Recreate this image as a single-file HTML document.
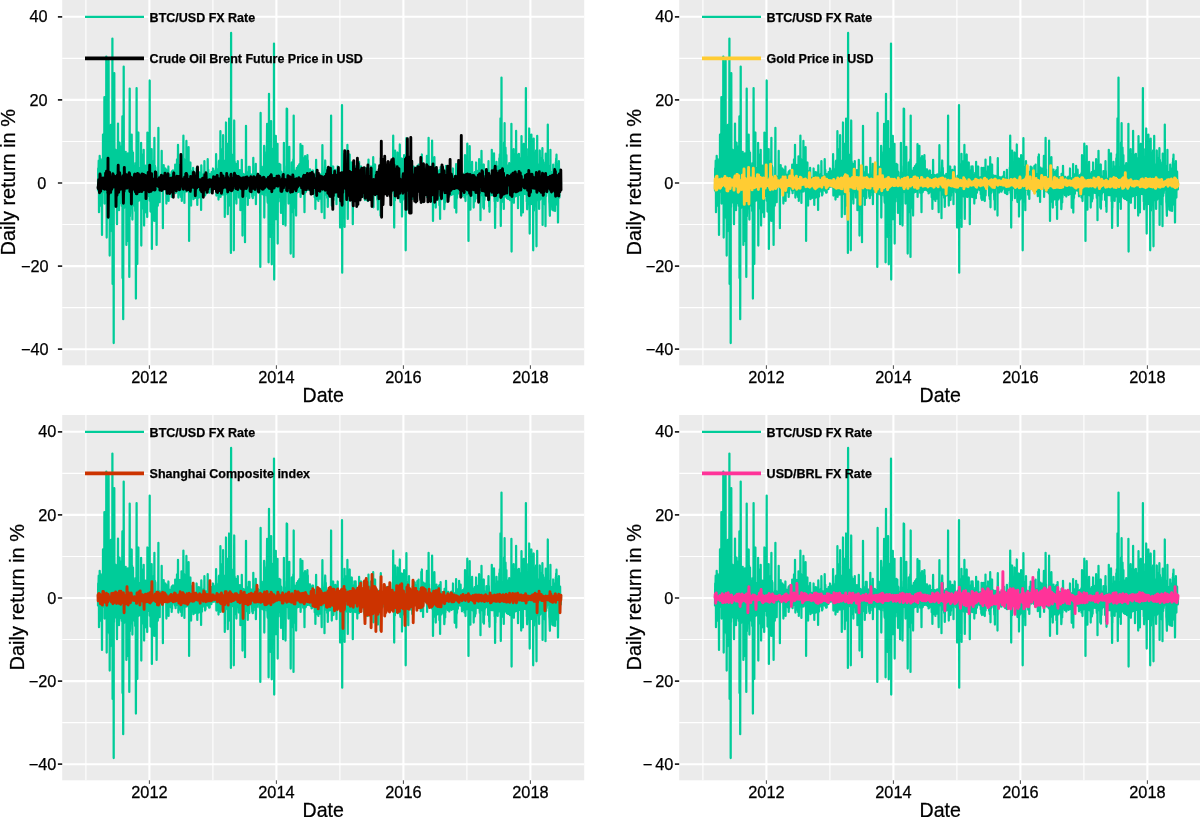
<!DOCTYPE html>
<html><head><meta charset="utf-8"><title>Daily returns</title>
<style>html,body{margin:0;padding:0;background:#fff}svg{display:block;will-change:transform}text{font-family:"Liberation Sans",sans-serif;fill:#000;stroke:#000;stroke-width:0.25px}.t{font-size:16.30px;fill:#000}.a{font-size:20.40px}.l{font-size:12.50px;font-weight:bold}.g{stroke:#fff;fill:none}.s{fill:none;stroke-linejoin:round;stroke-linecap:round}</style></head><body>
<svg width="1200" height="817" viewBox="0 0 1200 817">
<rect width="1200" height="817" fill="#fff"/>
<defs><path id="btc" d="M35.8,190.6L36.0,168.5L36.1,184.6L36.3,170.9L36.5,160.7L36.7,180.0L36.8,212.2L37.0,190.6L37.2,187.6L37.4,183.0L37.5,155.8L37.7,166.7L37.9,190.8L38.1,205.7L38.2,196.2L38.4,159.0L38.6,201.0L38.8,187.4L38.9,163.0L39.1,195.0L39.3,176.4L39.5,160.4L39.6,191.3L39.8,234.9L40.0,160.3L40.1,192.7L40.3,180.6L40.5,174.1L40.7,176.3L40.8,134.5L41.0,187.2L41.2,183.3L41.4,185.0L41.5,183.5L41.7,185.1L41.9,163.8L42.1,141.8L42.2,97.2L42.4,203.6L42.6,191.8L42.8,185.5L42.9,189.3L43.1,149.7L43.3,189.2L43.5,185.6L43.6,159.3L43.8,187.0L44.0,142.0L44.1,56.5L44.3,155.2L44.5,237.6L44.7,187.4L44.8,165.6L45.0,178.8L45.2,191.0L45.4,216.3L45.5,211.9L45.7,142.7L45.9,175.8L46.1,144.8L46.2,108.0L46.4,60.5L46.6,217.4L46.8,209.8L46.9,171.0L47.1,218.9L47.3,139.4L47.5,255.6L47.6,148.4L47.8,189.1L48.0,148.9L48.1,231.4L48.3,195.8L48.5,186.4L48.7,124.8L48.8,184.6L49.0,204.3L49.2,193.9L49.4,194.9L49.5,196.2L49.7,203.0L49.9,192.6L50.1,189.5L50.2,38.5L50.4,283.9L50.6,176.5L50.8,188.2L50.9,134.8L51.1,120.8L51.3,150.4L51.5,343.0L51.6,146.2L51.8,207.0L52.0,151.2L52.1,73.2L52.3,185.1L52.5,158.0L52.7,164.0L52.8,199.7L53.0,162.2L53.2,202.4L53.4,190.8L53.5,149.9L53.7,187.2L53.9,170.4L54.1,159.4L54.2,152.8L54.4,158.2L54.6,203.7L54.8,224.2L54.9,185.4L55.1,200.2L55.3,178.9L55.5,174.6L55.6,163.3L55.8,123.6L56.0,195.6L56.1,195.2L56.3,162.5L56.5,198.5L56.7,195.3L56.8,210.2L57.0,197.2L57.2,149.8L57.4,142.7L57.5,203.5L57.7,178.7L57.9,158.0L58.1,146.4L58.2,191.2L58.4,194.7L58.6,152.2L58.8,149.9L58.9,195.2L59.1,186.4L59.3,159.3L59.5,148.7L59.6,205.9L59.8,163.9L60.0,151.3L60.2,116.5L60.3,277.9L60.5,221.9L60.7,206.0L60.8,146.5L61.0,319.2L61.2,210.8L61.4,192.9L61.5,66.5L61.7,202.9L61.9,208.0L62.1,178.9L62.2,162.5L62.4,189.0L62.6,204.2L62.8,194.1L62.9,176.0L63.1,160.0L63.3,159.9L63.5,151.8L63.6,206.0L63.8,167.5L64.0,164.3L64.2,244.9L64.3,169.4L64.5,165.3L64.7,176.1L64.8,164.3L65.0,241.2L65.2,216.2L65.4,216.4L65.5,208.0L65.7,153.4L65.9,214.1L66.1,167.7L66.2,213.3L66.4,195.6L66.6,191.4L66.8,208.5L66.9,179.9L67.1,276.9L67.3,205.1L67.5,88.5L67.6,216.7L67.8,212.9L68.0,198.8L68.2,196.1L68.3,208.4L68.5,157.7L68.7,153.6L68.8,195.6L69.0,187.9L69.2,191.2L69.4,185.0L69.5,134.5L69.7,182.6L69.9,150.8L70.1,186.0L70.2,219.6L70.4,177.4L70.6,171.7L70.8,152.5L70.9,172.9L71.1,166.3L71.3,177.7L71.5,205.4L71.6,174.5L71.8,174.5L72.0,176.2L72.2,202.3L72.3,165.7L72.5,165.8L72.7,189.2L72.8,177.9L73.0,211.1L73.2,163.2L73.4,173.6L73.5,178.1L73.7,298.6L73.9,224.8L74.1,210.5L74.2,216.2L74.4,88.1L74.6,228.5L74.8,170.8L74.9,186.1L75.1,263.9L75.3,202.5L75.5,173.6L75.6,168.8L75.8,176.2L76.0,196.9L76.2,132.5L76.3,200.9L76.5,170.0L76.7,178.8L76.8,192.3L77.0,182.0L77.2,176.8L77.4,193.3L77.5,169.4L77.7,187.2L77.9,168.0L78.1,171.6L78.2,200.3L78.4,177.1L78.6,192.5L78.8,173.8L78.9,142.8L79.1,245.6L79.3,170.3L79.5,200.6L79.6,177.3L79.8,194.8L80.0,208.6L80.2,164.8L80.3,177.2L80.5,157.8L80.7,174.8L80.8,192.9L81.0,154.4L81.2,204.8L81.4,207.0L81.5,149.8L81.7,191.4L81.9,225.6L82.1,176.9L82.2,193.5L82.4,176.7L82.6,180.1L82.8,196.6L82.9,212.4L83.1,202.2L83.3,165.7L83.5,191.8L83.6,207.8L83.8,199.5L84.0,167.2L84.2,208.2L84.3,174.8L84.5,210.7L84.7,170.4L84.8,181.6L85.0,217.0L85.2,132.5L85.4,196.6L85.5,175.4L85.7,181.8L85.9,193.5L86.1,193.3L86.2,192.5L86.4,192.3L86.6,194.7L86.8,194.9L86.9,162.4L87.1,194.2L87.3,182.1L87.5,80.5L87.6,200.8L87.8,160.8L88.0,150.4L88.2,186.0L88.3,211.6L88.5,149.4L88.7,210.0L88.8,191.8L89.0,179.8L89.2,163.4L89.4,166.7L89.5,149.2L89.7,248.9L89.9,165.9L90.1,164.1L90.2,163.6L90.4,170.1L90.6,220.4L90.8,203.9L90.9,185.4L91.1,182.2L91.3,161.1L91.5,205.6L91.6,170.1L91.8,194.7L92.0,162.8L92.2,137.8L92.3,220.9L92.5,193.5L92.7,191.2L92.8,165.9L93.0,188.9L93.2,167.6L93.4,181.4L93.5,195.9L93.7,178.6L93.9,210.3L94.1,178.3L94.2,213.1L94.4,244.9L94.6,205.0L94.8,194.6L94.9,177.3L95.1,184.5L95.3,179.0L95.5,177.5L95.6,205.7L95.8,176.0L96.0,174.8L96.2,127.8L96.3,181.6L96.5,194.2L96.7,177.8L96.8,191.5L97.0,182.5L97.2,177.1L97.4,178.0L97.5,202.2L97.7,176.5L97.9,187.6L98.1,176.9L98.2,183.1L98.4,186.3L98.6,179.7L98.8,179.0L98.9,180.2L99.1,177.4L99.3,185.5L99.5,150.8L99.6,186.3L99.8,182.3L100.0,184.9L100.2,185.5L100.3,183.9L100.5,186.6L100.7,228.2L100.8,183.7L101.0,186.5L101.2,184.1L101.4,173.1L101.5,165.2L101.7,179.2L101.9,179.1L102.1,185.4L102.2,183.5L102.4,172.9L102.6,184.8L102.8,177.7L102.9,175.3L103.1,184.6L103.3,168.5L103.5,178.1L103.6,182.9L103.8,175.6L104.0,184.0L104.2,203.6L104.3,185.4L104.5,170.3L104.7,181.4L104.8,187.7L105.0,184.5L105.2,173.5L105.4,175.2L105.5,183.5L105.7,186.0L105.9,185.6L106.1,171.9L106.2,166.5L106.4,200.9L106.6,176.7L106.8,189.2L106.9,186.8L107.1,181.3L107.3,177.5L107.5,175.5L107.6,174.9L107.8,189.0L108.0,190.9L108.2,183.6L108.3,181.8L108.5,180.3L108.7,192.6L108.9,180.3L109.0,176.6L109.2,176.6L109.4,172.1L109.5,196.9L109.7,171.4L109.9,194.0L110.1,172.0L110.2,189.3L110.4,188.2L110.6,184.6L110.8,170.4L110.9,179.9L111.1,184.6L111.3,184.4L111.5,173.4L111.6,174.9L111.8,186.3L112.0,185.5L112.2,184.4L112.3,185.7L112.5,179.2L112.7,190.5L112.9,178.6L113.0,164.6L113.2,167.4L113.4,193.2L113.5,190.9L113.7,186.0L113.9,174.8L114.1,186.2L114.2,189.1L114.4,187.2L114.6,190.0L114.8,159.5L114.9,168.4L115.1,185.6L115.3,167.8L115.5,180.6L115.6,180.6L115.8,144.8L116.0,183.4L116.2,197.6L116.3,166.8L116.5,164.9L116.7,189.3L116.9,182.4L117.0,185.7L117.2,194.2L117.4,186.7L117.5,194.5L117.7,190.9L117.9,165.0L118.1,170.7L118.2,170.0L118.4,194.3L118.6,192.4L118.8,197.0L118.9,195.3L119.1,195.4L119.3,156.3L119.5,159.5L119.6,200.9L119.8,191.7L120.0,156.3L120.2,177.1L120.3,186.4L120.5,184.1L120.7,188.4L120.9,177.5L121.0,170.9L121.2,135.6L121.4,166.9L121.5,191.5L121.7,176.5L121.9,159.2L122.1,185.4L122.2,202.9L122.4,174.8L122.6,184.3L122.8,160.2L122.9,183.2L123.1,183.3L123.3,162.7L123.5,191.6L123.6,166.9L123.8,190.0L124.0,185.9L124.2,140.9L124.3,183.8L124.5,191.5L124.7,187.1L124.9,186.4L125.0,173.8L125.2,174.5L125.4,180.6L125.5,174.3L125.7,175.5L125.9,185.0L126.1,188.0L126.2,180.2L126.4,147.2L126.6,188.6L126.8,173.6L126.9,240.9L127.1,181.9L127.3,180.4L127.5,179.7L127.6,176.4L127.8,183.6L128.0,181.4L128.2,162.5L128.3,194.2L128.5,182.2L128.7,194.7L128.9,205.6L129.0,189.6L129.2,177.9L129.4,193.0L129.5,176.4L129.7,175.8L129.9,177.3L130.1,171.2L130.2,196.3L130.4,193.6L130.6,171.6L130.8,171.9L130.9,167.8L131.1,175.1L131.3,199.2L131.5,195.9L131.6,196.6L131.8,191.1L132.0,188.0L132.2,177.5L132.3,186.2L132.5,196.1L132.7,191.8L132.9,197.8L133.0,197.3L133.2,186.1L133.4,182.9L133.5,191.6L133.7,187.8L133.9,195.4L134.1,181.8L134.2,187.3L134.4,168.5L134.6,183.2L134.8,191.4L134.9,189.4L135.1,204.9L135.3,180.1L135.5,189.7L135.6,178.7L135.8,186.4L136.0,196.8L136.2,176.5L136.3,175.7L136.5,172.2L136.7,197.6L136.9,174.2L137.0,172.4L137.2,191.8L137.4,185.7L137.5,181.4L137.7,193.8L137.9,178.9L138.1,180.5L138.2,179.0L138.4,186.0L138.6,182.6L138.8,195.6L138.9,210.0L139.1,165.4L139.3,172.8L139.5,194.3L139.6,196.8L139.8,196.4L140.0,185.9L140.2,175.4L140.3,192.2L140.5,184.2L140.7,182.3L140.9,174.6L141.0,188.8L141.2,190.8L141.4,182.6L141.5,185.9L141.7,186.9L141.9,175.4L142.1,177.4L142.2,161.2L142.4,182.0L142.6,178.6L142.8,177.2L142.9,195.5L143.1,178.4L143.3,194.5L143.5,179.9L143.6,181.1L143.8,176.3L144.0,180.5L144.2,189.9L144.3,179.9L144.5,187.3L144.7,177.6L144.9,190.2L145.0,186.3L145.2,179.7L145.4,190.6L145.5,159.2L145.7,175.2L145.9,174.0L146.1,169.8L146.2,185.5L146.4,190.6L146.6,188.5L146.8,185.9L146.9,192.7L147.1,178.1L147.3,192.5L147.5,192.5L147.6,174.1L147.8,176.2L148.0,188.8L148.2,187.1L148.3,175.8L148.5,179.6L148.7,186.4L148.9,184.0L149.0,174.7L149.2,189.1L149.4,172.1L149.5,180.8L149.7,187.2L149.9,175.6L150.1,186.6L150.2,184.0L150.4,179.2L150.6,185.4L150.8,168.5L150.9,174.5L151.1,186.0L151.3,186.0L151.5,186.7L151.6,180.0L151.8,185.8L152.0,181.0L152.2,173.0L152.3,171.5L152.5,186.3L152.7,184.7L152.9,184.0L153.0,184.3L153.2,185.1L153.4,184.2L153.6,168.9L153.7,187.1L153.9,154.2L154.1,185.6L154.2,195.6L154.4,174.2L154.6,185.4L154.8,169.1L154.9,171.4L155.1,188.8L155.3,188.6L155.5,171.8L155.6,179.7L155.8,192.4L156.0,176.6L156.2,185.9L156.3,199.6L156.5,169.0L156.7,161.1L156.9,170.8L157.0,160.7L157.2,188.1L157.4,187.0L157.6,192.0L157.7,161.2L157.9,186.4L158.1,179.1L158.2,131.2L158.4,196.9L158.6,184.4L158.8,186.6L158.9,184.5L159.1,187.7L159.3,185.5L159.5,171.3L159.6,194.5L159.8,149.2L160.0,178.8L160.2,189.7L160.3,158.1L160.5,194.6L160.7,189.7L160.9,135.2L161.0,190.1L161.2,163.3L161.4,194.0L161.6,178.8L161.7,167.9L161.9,191.9L162.1,189.0L162.2,176.7L162.4,172.8L162.6,216.9L162.8,185.3L162.9,160.5L163.1,187.2L163.3,168.2L163.5,189.7L163.6,184.4L163.8,122.5L164.0,176.6L164.2,158.2L164.3,151.3L164.5,159.7L164.7,150.2L164.9,143.5L165.0,194.6L165.2,148.3L165.4,179.3L165.6,214.2L165.7,198.0L165.9,169.6L166.1,175.1L166.2,201.4L166.4,177.4L166.6,202.1L166.8,189.0L166.9,118.5L167.1,174.4L167.3,201.0L167.5,205.5L167.6,180.3L167.8,174.5L168.0,175.0L168.2,191.6L168.3,180.3L168.5,176.7L168.7,252.9L168.9,32.9L169.0,155.1L169.2,189.1L169.4,191.5L169.6,189.6L169.7,164.2L169.9,154.5L170.1,184.3L170.2,166.4L170.4,189.0L170.6,181.4L170.8,184.5L170.9,184.5L171.1,188.2L171.3,168.3L171.5,163.8L171.6,250.3L171.8,157.7L172.0,120.5L172.2,161.5L172.3,177.2L172.5,161.6L172.7,187.8L172.9,171.1L173.0,195.6L173.2,199.2L173.4,163.5L173.6,186.0L173.7,191.1L173.9,178.1L174.1,169.8L174.2,203.6L174.4,169.9L174.6,171.7L174.8,184.2L174.9,188.1L175.1,191.0L175.3,187.7L175.5,178.4L175.6,161.2L175.8,191.6L176.0,173.9L176.2,175.2L176.3,177.0L176.5,189.7L176.7,197.5L176.9,175.6L177.0,178.1L177.2,188.3L177.4,189.0L177.6,197.5L177.7,170.1L177.9,173.6L178.1,170.7L178.2,210.2L178.4,183.9L178.6,178.1L178.8,187.3L178.9,180.2L179.1,186.9L179.3,184.9L179.5,178.0L179.6,159.8L179.8,175.0L180.0,180.3L180.2,188.0L180.3,235.6L180.5,193.0L180.7,181.0L180.9,175.9L181.0,189.3L181.2,183.8L181.4,174.0L181.6,186.7L181.7,174.7L181.9,176.4L182.1,183.3L182.2,179.8L182.4,194.5L182.6,182.4L182.8,242.2L182.9,191.1L183.1,194.9L183.3,195.2L183.5,192.3L183.6,190.6L183.8,125.8L184.0,184.7L184.2,181.7L184.3,188.8L184.5,192.8L184.7,179.8L184.9,172.2L185.0,196.5L185.2,186.7L185.4,175.9L185.6,204.9L185.7,193.0L185.9,188.4L186.1,179.5L186.2,197.2L186.4,177.9L186.6,166.8L186.8,192.8L186.9,184.4L187.1,197.9L187.3,181.8L187.5,166.9L187.6,181.5L187.8,186.8L188.0,185.7L188.2,179.5L188.3,175.0L188.5,183.9L188.7,183.3L188.9,175.8L189.0,187.9L189.2,174.5L189.4,185.2L189.6,190.7L189.7,177.2L189.9,193.3L190.1,196.9L190.2,193.2L190.4,179.1L190.6,198.2L190.8,185.5L190.9,192.6L191.1,157.8L191.3,195.4L191.5,177.7L191.6,175.5L191.8,190.1L192.0,189.0L192.2,180.7L192.3,179.4L192.5,191.9L192.7,180.2L192.9,178.5L193.0,178.8L193.2,184.8L193.4,178.4L193.6,163.8L193.7,204.2L193.9,190.1L194.1,181.1L194.2,181.8L194.4,178.1L194.6,179.2L194.8,192.0L194.9,187.0L195.1,178.4L195.3,185.0L195.5,186.6L195.6,173.8L195.8,184.0L196.0,185.9L196.2,182.5L196.3,186.0L196.5,186.5L196.7,178.3L196.9,175.2L197.0,186.3L197.2,192.5L197.4,184.2L197.6,186.7L197.7,185.6L197.9,191.2L198.1,266.9L198.3,192.3L198.4,112.9L198.6,173.9L198.8,172.4L198.9,192.2L199.1,193.9L199.3,178.6L199.5,166.6L199.6,191.7L199.8,180.5L200.0,191.4L200.2,177.4L200.3,185.0L200.5,188.6L200.7,179.1L200.9,181.9L201.0,194.5L201.2,187.2L201.4,173.7L201.6,176.3L201.7,182.0L201.9,145.8L202.1,217.6L202.3,187.2L202.4,165.4L202.6,195.8L202.8,161.1L202.9,165.6L203.1,172.2L203.3,186.5L203.5,192.3L203.6,188.6L203.8,158.5L204.0,185.8L204.2,152.1L204.3,191.2L204.5,148.9L204.7,145.0L204.9,123.8L205.0,196.1L205.2,195.8L205.4,201.8L205.6,202.8L205.7,165.8L205.9,183.9L206.1,164.4L206.3,195.2L206.4,262.3L206.6,165.2L206.8,93.8L206.9,196.5L207.1,169.5L207.3,179.2L207.5,199.1L207.6,176.3L207.8,191.4L208.0,205.5L208.2,163.7L208.3,171.6L208.5,236.9L208.7,174.0L208.9,121.1L209.0,166.5L209.2,177.5L209.4,176.1L209.6,264.3L209.7,208.0L209.9,179.4L210.1,192.1L210.3,156.4L210.4,197.8L210.6,191.0L210.8,206.3L210.9,182.4L211.1,148.7L211.3,194.3L211.5,159.0L211.6,198.1L211.8,43.6L212.0,279.6L212.2,199.0L212.3,161.4L212.5,155.9L212.7,215.1L212.9,216.7L213.0,206.5L213.2,181.6L213.4,161.9L213.6,135.8L213.7,199.9L213.9,219.2L214.1,177.4L214.3,178.8L214.4,197.4L214.6,177.7L214.8,165.2L214.9,200.8L215.1,193.4L215.3,143.8L215.5,243.6L215.6,199.9L215.8,199.8L216.0,165.5L216.2,200.6L216.3,201.4L216.5,174.4L216.7,168.1L216.9,169.2L217.0,186.8L217.2,163.8L217.4,196.7L217.6,186.2L217.7,188.8L217.9,181.2L218.1,164.5L218.3,194.4L218.4,171.1L218.6,190.2L218.8,212.9L218.9,171.5L219.1,192.7L219.3,190.1L219.5,180.5L219.6,201.2L219.8,203.3L220.0,178.5L220.2,190.5L220.3,202.9L220.5,191.3L220.7,176.9L220.9,224.2L221.0,182.6L221.2,193.8L221.4,172.3L221.6,194.2L221.7,142.8L221.9,195.8L222.1,179.9L222.3,180.9L222.4,183.0L222.6,188.1L222.8,182.3L222.9,181.6L223.1,182.4L223.3,225.6L223.5,204.4L223.6,186.9L223.8,172.6L224.0,185.8L224.2,166.0L224.3,180.9L224.5,108.5L224.7,163.9L224.9,108.9L225.0,178.7L225.2,176.7L225.4,170.2L225.6,192.3L225.7,170.5L225.9,179.7L226.1,188.0L226.3,203.6L226.4,169.5L226.6,170.7L226.8,177.0L226.9,187.0L227.1,146.8L227.3,193.4L227.5,193.3L227.6,183.6L227.8,175.1L228.0,195.7L228.2,192.2L228.3,190.0L228.5,253.6L228.7,188.9L228.9,189.6L229.0,189.5L229.2,185.7L229.4,189.3L229.6,162.5L229.7,185.1L229.9,208.8L230.1,174.6L230.3,168.4L230.4,194.0L230.6,212.4L230.8,172.9L230.9,166.9L231.1,159.3L231.3,256.9L231.5,115.5L231.6,194.0L231.8,199.2L232.0,207.8L232.2,170.3L232.3,179.6L232.5,196.9L232.7,205.0L232.9,196.9L233.0,175.5L233.2,192.2L233.4,196.3L233.6,187.6L233.7,188.9L233.9,215.6L234.1,180.8L234.3,184.4L234.4,170.8L234.6,167.8L234.8,192.0L234.9,189.4L235.1,185.5L235.3,192.3L235.5,171.0L235.6,170.7L235.8,188.2L236.0,165.9L236.2,179.8L236.3,191.9L236.5,176.7L236.7,174.7L236.9,173.0L237.0,164.5L237.2,166.3L237.4,186.5L237.6,185.9L237.7,190.1L237.9,184.7L238.1,188.2L238.3,144.1L238.4,196.9L238.6,190.0L238.8,188.7L238.9,177.6L239.1,180.4L239.3,184.5L239.5,163.1L239.6,187.2L239.8,187.6L240.0,181.3L240.2,145.8L240.3,169.6L240.5,157.1L240.7,163.4L240.9,158.4L241.0,192.7L241.2,185.4L241.4,158.0L241.6,161.3L241.7,175.4L241.9,171.7L242.1,189.1L242.3,212.2L242.4,191.7L242.6,159.6L242.8,187.9L242.9,156.1L243.1,192.6L243.3,165.3L243.5,180.5L243.6,192.1L243.8,172.4L244.0,177.2L244.2,177.4L244.3,177.5L244.5,178.0L244.7,176.1L244.9,187.1L245.0,172.7L245.2,155.2L245.4,190.0L245.6,160.4L245.7,186.4L245.9,184.2L246.1,172.7L246.3,169.0L246.4,185.9L246.6,189.2L246.8,178.4L247.0,177.9L247.1,173.4L247.3,190.2L247.5,170.5L247.6,172.0L247.8,169.4L248.0,172.9L248.2,175.8L248.3,180.2L248.5,170.7L248.7,191.2L248.9,178.5L249.0,176.0L249.2,176.3L249.4,193.4L249.6,189.0L249.7,173.4L249.9,176.4L250.1,192.8L250.3,183.6L250.4,178.5L250.6,178.0L250.8,170.5L251.0,190.5L251.1,188.6L251.3,191.6L251.5,189.5L251.6,191.1L251.8,178.2L252.0,178.2L252.2,186.3L252.3,175.1L252.5,197.3L252.7,195.7L252.9,180.0L253.0,182.0L253.2,208.9L253.4,179.4L253.6,181.6L253.7,181.8L253.9,159.8L254.1,181.7L254.3,195.0L254.4,189.4L254.6,181.5L254.8,181.8L255.0,182.2L255.1,199.2L255.3,190.6L255.5,175.1L255.6,175.6L255.8,177.3L256.0,197.1L256.2,200.9L256.3,193.0L256.5,175.7L256.7,193.7L256.9,193.3L257.0,192.3L257.2,177.4L257.4,182.0L257.6,175.1L257.7,197.8L257.9,198.7L258.1,174.3L258.3,197.1L258.4,177.1L258.6,179.7L258.8,194.8L259.0,193.2L259.1,176.5L259.3,201.4L259.5,212.2L259.6,189.5L259.8,188.1L260.0,175.9L260.2,145.2L260.3,163.4L260.5,184.4L260.7,189.0L260.9,187.9L261.0,180.3L261.2,174.3L261.4,190.6L261.6,186.7L261.7,180.7L261.9,178.8L262.1,177.2L262.3,218.2L262.4,187.5L262.6,174.3L262.8,168.0L263.0,160.5L263.1,165.4L263.3,192.2L263.5,170.5L263.6,167.9L263.8,179.6L264.0,174.8L264.2,194.7L264.3,175.8L264.5,178.6L264.7,180.8L264.9,180.7L265.0,197.9L265.2,175.7L265.4,182.0L265.6,206.9L265.7,197.5L265.9,179.1L266.1,190.6L266.3,176.2L266.4,195.2L266.6,193.1L266.8,191.2L267.0,186.5L267.1,174.0L267.3,195.5L267.5,181.3L267.6,188.9L267.8,185.0L268.0,186.0L268.2,187.5L268.3,183.5L268.5,185.5L268.7,186.4L268.9,115.5L269.0,188.0L269.2,172.5L269.4,187.9L269.6,205.6L269.7,189.2L269.9,173.5L270.1,190.6L270.3,191.3L270.4,190.1L270.6,178.2L270.8,193.9L271.0,166.5L271.1,178.8L271.3,200.0L271.5,181.7L271.6,187.9L271.8,196.0L272.0,174.7L272.2,186.9L272.3,188.4L272.5,176.4L272.7,172.3L272.9,189.6L273.0,191.5L273.2,169.9L273.4,185.3L273.6,181.3L273.7,184.3L273.9,175.9L274.1,184.9L274.3,204.2L274.4,182.2L274.6,191.9L274.8,182.6L275.0,175.4L275.1,181.9L275.3,185.2L275.5,166.5L275.6,177.6L275.8,185.5L276.0,186.8L276.2,186.1L276.3,185.2L276.5,187.0L276.7,188.0L276.9,184.3L277.0,192.6L277.2,189.6L277.4,185.1L277.6,177.8L277.7,185.5L277.9,227.6L278.1,177.3L278.3,178.3L278.4,175.9L278.6,178.4L278.8,179.1L279.0,189.3L279.1,190.2L279.3,191.4L279.5,190.8L279.6,178.0L279.8,105.2L280.0,272.7L280.2,164.9L280.3,189.7L280.5,179.8L280.7,215.9L280.9,164.0L281.0,215.5L281.2,207.1L281.4,187.4L281.6,183.5L281.7,180.8L281.9,165.9L282.1,218.2L282.3,153.8L282.4,226.9L282.6,169.9L282.8,175.0L283.0,169.9L283.1,163.8L283.3,167.4L283.5,194.6L283.6,179.9L283.8,167.7L284.0,167.7L284.2,161.1L284.3,186.4L284.5,196.6L284.7,171.8L284.9,194.4L285.0,174.7L285.2,144.9L285.4,190.8L285.6,218.9L285.7,198.8L285.9,191.6L286.1,196.9L286.3,169.7L286.4,173.0L286.6,177.2L286.8,181.8L287.0,167.5L287.1,190.7L287.3,175.1L287.5,154.5L287.6,177.9L287.8,192.3L288.0,196.2L288.2,196.9L288.3,189.4L288.5,167.2L288.7,176.1L288.9,176.6L289.0,176.7L289.2,168.9L289.4,187.1L289.6,162.5L289.7,186.1L289.9,189.2L290.1,172.6L290.3,189.7L290.4,183.7L290.6,224.2L290.8,187.4L291.0,173.9L291.1,176.6L291.3,174.9L291.5,187.0L291.7,174.5L291.8,170.1L292.0,187.0L292.2,166.5L292.3,166.7L292.5,190.9L292.7,166.6L292.9,167.1L293.0,197.2L293.2,173.0L293.4,166.4L293.6,170.5L293.7,196.4L293.9,187.4L294.1,181.4L294.3,186.4L294.4,186.1L294.6,191.3L294.8,192.7L295.0,187.6L295.1,203.6L295.3,181.1L295.5,175.1L295.7,198.0L295.8,189.8L296.0,172.9L296.2,173.8L296.3,197.5L296.5,177.4L296.7,198.2L296.9,161.8L297.0,192.9L297.2,179.0L297.4,184.6L297.6,182.3L297.7,192.8L297.9,188.6L298.1,190.9L298.3,179.2L298.4,186.5L298.6,179.9L298.8,182.1L299.0,166.5L299.1,175.7L299.3,182.1L299.5,181.9L299.7,180.7L299.8,181.8L300.0,185.9L300.2,189.6L300.3,182.1L300.5,190.0L300.7,180.2L300.9,177.3L301.0,178.3L301.2,178.5L301.4,190.7L301.6,194.4L301.7,191.0L301.9,179.9L302.1,198.0L302.3,198.8L302.4,167.8L302.6,190.1L302.8,200.0L303.0,182.2L303.1,175.6L303.3,185.5L303.5,196.7L303.7,182.0L303.8,198.6L304.0,174.0L304.2,167.8L304.3,199.5L304.5,179.4L304.7,170.7L304.9,176.8L305.0,197.6L305.2,200.3L305.4,185.7L305.6,201.0L305.7,174.9L305.9,182.3L306.1,191.8L306.3,159.6L306.4,195.6L306.6,182.2L306.8,182.6L307.0,187.6L307.1,173.8L307.3,176.5L307.5,186.7L307.7,184.1L307.8,185.6L308.0,171.5L308.2,178.0L308.3,172.3L308.5,176.0L308.7,175.5L308.9,166.5L309.0,174.4L309.2,186.9L309.4,174.3L309.6,176.7L309.7,182.5L309.9,195.8L310.1,179.6L310.3,178.9L310.4,177.2L310.6,199.1L310.8,193.4L311.0,157.2L311.1,172.7L311.3,207.3L311.5,175.8L311.7,174.8L311.8,193.6L312.0,178.7L312.2,186.5L312.3,192.5L312.5,190.7L312.7,187.4L312.9,164.5L313.0,180.1L313.2,185.1L313.4,188.5L313.6,178.2L313.7,177.2L313.9,184.9L314.1,189.4L314.3,181.3L314.4,187.5L314.6,175.5L314.8,191.6L315.0,196.6L315.1,199.8L315.3,195.3L315.5,197.6L315.7,209.6L315.8,179.0L316.0,181.2L316.2,175.8L316.3,180.5L316.5,179.1L316.7,187.4L316.9,186.1L317.0,180.5L317.2,177.3L317.4,186.2L317.6,184.4L317.7,187.8L317.9,187.7L318.1,181.3L318.3,215.6L318.4,175.4L318.6,158.2L318.8,191.8L319.0,187.7L319.1,180.1L319.3,176.5L319.5,191.7L319.7,177.9L319.8,177.3L320.0,192.4L320.2,177.1L320.3,181.2L320.5,178.0L320.7,180.4L320.9,180.4L321.0,178.2L321.2,179.4L321.4,185.2L321.6,185.7L321.7,177.3L321.9,187.6L322.1,185.7L322.3,191.7L322.4,187.5L322.6,180.2L322.8,190.4L323.0,185.3L323.1,179.7L323.3,186.2L323.5,176.6L323.7,182.3L323.8,186.6L324.0,179.8L324.2,182.0L324.3,184.2L324.5,188.7L324.7,177.0L324.9,171.8L325.0,185.4L325.2,181.5L325.4,179.0L325.6,188.9L325.7,192.8L325.9,180.8L326.1,178.9L326.3,184.7L326.4,178.6L326.6,187.8L326.8,179.4L327.0,193.4L327.1,180.7L327.3,178.8L327.5,188.1L327.7,169.8L327.8,194.2L328.0,188.0L328.2,194.1L328.3,180.7L328.5,185.1L328.7,182.1L328.9,187.8L329.0,190.3L329.2,189.7L329.4,180.3L329.6,189.8L329.7,187.3L329.9,180.9L330.1,188.9L330.3,184.1L330.4,185.9L330.6,167.7L330.8,186.4L331.0,135.6L331.1,157.5L331.3,192.9L331.5,173.4L331.7,176.2L331.8,191.9L332.0,227.6L332.2,170.7L332.3,185.0L332.5,192.6L332.7,200.5L332.9,150.5L333.0,162.0L333.2,186.7L333.4,186.1L333.6,176.4L333.7,171.9L333.9,169.9L334.1,172.4L334.3,175.3L334.4,177.4L334.6,188.3L334.8,183.4L335.0,179.4L335.1,187.3L335.3,152.5L335.5,185.0L335.7,198.2L335.8,191.2L336.0,178.9L336.2,179.5L336.3,188.7L336.5,188.6L336.7,190.1L336.9,185.6L337.0,168.4L337.2,186.3L337.4,169.3L337.6,144.5L337.7,190.4L337.9,182.7L338.1,200.0L338.3,202.0L338.4,179.3L338.6,192.8L338.8,178.9L339.0,199.1L339.1,195.9L339.3,176.4L339.5,178.7L339.7,158.5L339.8,216.6L340.0,195.1L340.2,195.8L340.4,179.3L340.5,194.5L340.7,191.9L340.9,195.2L341.0,199.4L341.2,186.2L341.4,197.2L341.6,191.8L341.7,186.8L341.9,155.2L342.1,197.7L342.3,197.2L342.4,174.9L342.6,190.4L342.8,185.7L343.0,179.4L343.1,179.0L343.3,180.1L343.5,250.3L343.7,182.3L343.8,196.2L344.0,181.1L344.2,138.2L344.4,174.6L344.5,193.9L344.7,178.0L344.9,201.3L345.0,188.8L345.2,190.2L345.4,198.7L345.6,175.6L345.7,168.6L345.9,195.7L346.1,210.2L346.3,166.8L346.4,178.6L346.6,190.2L346.8,161.2L347.0,188.8L347.1,179.1L347.3,178.1L347.5,186.5L347.7,178.0L347.8,182.6L348.0,179.7L348.2,186.3L348.4,175.8L348.5,187.7L348.7,183.5L348.9,182.2L349.0,194.7L349.2,178.4L349.4,181.8L349.6,192.5L349.7,177.7L349.9,179.4L350.1,198.9L350.3,179.8L350.4,182.7L350.6,171.7L350.8,184.7L351.0,183.9L351.1,184.7L351.3,185.0L351.5,166.6L351.7,182.4L351.8,182.4L352.0,185.9L352.2,186.8L352.4,188.5L352.5,167.4L352.7,173.7L352.9,183.7L353.0,178.3L353.2,170.3L353.4,186.1L353.6,187.4L353.7,183.7L353.9,184.1L354.1,171.8L354.3,170.1L354.4,170.9L354.6,175.6L354.8,181.4L355.0,189.2L355.1,166.2L355.3,168.6L355.5,181.2L355.7,171.8L355.8,166.8L356.0,186.6L356.2,178.8L356.4,164.6L356.5,187.8L356.7,189.7L356.9,174.3L357.0,175.5L357.2,191.4L357.4,180.8L357.6,179.4L357.7,178.0L357.9,180.0L358.1,181.1L358.3,174.6L358.4,173.8L358.6,196.2L358.8,194.1L359.0,190.9L359.1,156.9L359.3,184.8L359.5,173.9L359.7,154.5L359.8,189.1L360.0,188.0L360.2,186.8L360.4,168.0L360.5,174.1L360.7,188.8L360.9,202.0L361.0,188.3L361.2,167.7L361.4,184.3L361.6,171.1L361.7,171.7L361.9,168.6L362.1,180.9L362.3,185.9L362.4,182.1L362.6,170.2L362.8,168.7L363.0,185.0L363.1,183.4L363.3,173.2L363.5,184.9L363.7,186.9L363.8,186.4L364.0,183.5L364.2,186.8L364.4,173.8L364.5,170.4L364.7,155.8L364.9,196.9L365.0,183.9L365.2,187.2L365.4,186.7L365.6,157.6L365.7,172.0L365.9,188.4L366.1,183.0L366.3,173.0L366.4,137.8L366.6,171.0L366.8,169.3L367.0,183.6L367.1,176.6L367.3,191.4L367.5,177.0L367.7,182.5L367.8,187.7L368.0,187.2L368.2,179.0L368.4,187.8L368.5,186.1L368.7,185.6L368.9,178.7L369.0,188.5L369.2,192.5L369.4,190.7L369.6,179.0L369.7,193.4L369.9,140.5L370.1,182.8L370.3,186.9L370.4,187.6L370.6,182.0L370.8,220.9L371.0,192.1L371.1,188.0L371.3,199.0L371.5,182.2L371.7,192.7L371.8,201.7L372.0,199.5L372.2,157.2L372.4,177.0L372.5,173.2L372.7,183.4L372.9,190.2L373.0,178.8L373.2,170.7L373.4,190.1L373.6,207.6L373.7,190.7L373.9,179.6L374.1,195.6L374.3,169.6L374.4,187.1L374.6,178.3L374.8,189.9L375.0,189.8L375.1,199.4L375.3,171.8L375.5,191.3L375.7,192.1L375.8,188.8L376.0,194.2L376.2,190.5L376.4,191.6L376.5,178.6L376.7,179.4L376.9,191.9L377.0,170.3L377.2,205.3L377.4,179.5L377.6,169.8L377.7,198.6L377.9,218.9L378.1,172.1L378.3,176.6L378.4,167.2L378.6,196.2L378.8,196.4L379.0,199.2L379.1,190.7L379.3,199.4L379.5,181.6L379.7,198.2L379.8,185.6L380.0,182.7L380.2,192.0L380.4,180.2L380.5,177.2L380.7,186.1L380.9,182.6L381.0,186.4L381.2,177.5L381.4,178.7L381.6,177.6L381.7,191.2L381.9,195.1L382.1,209.2L382.3,206.5L382.4,173.8L382.6,180.6L382.8,187.5L383.0,202.6L383.1,174.3L383.3,197.4L383.5,179.3L383.7,180.4L383.8,165.8L384.0,177.6L384.2,178.9L384.4,181.4L384.5,186.0L384.7,176.7L384.9,193.4L385.1,189.8L385.2,178.9L385.4,177.7L385.6,180.4L385.7,195.2L385.9,178.4L386.1,176.9L386.3,184.7L386.4,188.2L386.6,189.6L386.8,181.6L387.0,195.5L387.1,196.5L387.3,178.5L387.5,183.0L387.7,182.7L387.8,191.2L388.0,194.5L388.2,194.1L388.4,194.2L388.5,179.8L388.7,178.9L388.9,177.0L389.1,176.7L389.2,192.2L389.4,194.9L389.6,180.0L389.7,191.0L389.9,177.2L390.1,183.8L390.3,186.0L390.4,186.7L390.6,190.5L390.8,168.5L391.0,194.0L391.1,178.1L391.3,179.6L391.5,179.1L391.7,178.3L391.8,180.7L392.0,178.6L392.2,180.0L392.4,185.4L392.5,207.8L392.7,182.6L392.9,182.2L393.1,179.4L393.2,177.8L393.4,180.8L393.6,195.2L393.7,195.1L393.9,164.1L394.1,212.6L394.3,187.9L394.4,199.1L394.6,197.9L394.8,197.8L395.0,174.2L395.1,187.8L395.3,185.2L395.5,175.9L395.7,193.8L395.8,181.4L396.0,179.7L396.2,185.2L396.4,190.2L396.5,185.0L396.7,190.4L396.9,165.8L397.1,185.5L397.2,189.2L397.4,170.7L397.6,177.2L397.7,171.7L397.9,171.5L398.1,188.0L398.3,190.6L398.4,169.6L398.6,182.4L398.8,176.9L399.0,179.3L399.1,188.6L399.3,181.7L399.5,189.8L399.7,192.0L399.8,196.3L400.0,191.5L400.2,191.2L400.4,180.0L400.5,182.2L400.7,175.1L400.9,192.4L401.1,194.9L401.2,180.0L401.4,193.0L401.6,175.1L401.7,188.9L401.9,192.7L402.1,173.5L402.3,197.5L402.4,174.2L402.6,189.4L402.8,155.2L403.0,177.3L403.1,177.9L403.3,201.1L403.5,185.9L403.7,184.4L403.8,180.1L404.0,190.7L404.2,182.0L404.4,177.3L404.5,194.3L404.7,180.1L404.9,187.4L405.1,143.6L405.2,189.5L405.4,184.7L405.6,183.3L405.7,172.3L405.9,173.3L406.1,172.1L406.3,240.9L406.4,186.7L406.6,175.3L406.8,166.5L407.0,206.5L407.1,172.3L407.3,178.5L407.5,146.2L407.7,176.2L407.8,174.1L408.0,175.6L408.2,209.7L408.4,176.4L408.5,186.7L408.7,178.2L408.9,190.2L409.1,181.0L409.2,191.5L409.4,181.8L409.6,180.5L409.7,185.8L409.9,161.8L410.1,184.2L410.3,195.0L410.4,195.3L410.6,194.8L410.8,188.1L411.0,178.8L411.1,188.2L411.3,179.7L411.5,207.6L411.7,177.1L411.8,178.2L412.0,194.9L412.2,173.4L412.4,187.3L412.5,172.2L412.7,201.5L412.9,198.5L413.1,197.5L413.2,177.4L413.4,198.8L413.6,186.9L413.7,182.4L413.9,162.5L414.1,192.8L414.3,174.6L414.4,186.1L414.6,190.6L414.8,180.4L415.0,191.9L415.1,176.9L415.3,190.9L415.5,171.0L415.7,192.9L415.8,188.3L416.0,190.4L416.2,181.3L416.4,187.8L416.5,185.8L416.7,186.1L416.9,159.2L417.1,193.5L417.2,191.4L417.4,193.9L417.6,197.9L417.7,179.6L417.9,173.7L418.1,174.2L418.3,220.2L418.4,191.5L418.6,177.6L418.8,192.0L419.0,175.7L419.1,175.2L419.3,150.8L419.5,173.0L419.7,186.8L419.8,181.6L420.0,195.3L420.2,176.2L420.4,181.2L420.5,183.0L420.7,189.5L420.9,178.6L421.1,207.4L421.2,180.4L421.4,207.1L421.6,164.5L421.7,208.7L421.9,182.4L422.1,176.3L422.3,200.1L422.4,192.3L422.6,182.6L422.8,193.9L423.0,187.3L423.1,184.9L423.3,192.7L423.5,179.8L423.7,186.4L423.8,182.0L424.0,191.5L424.2,171.2L424.4,190.2L424.5,184.2L424.7,191.8L424.9,190.6L425.1,190.9L425.2,186.1L425.4,191.6L425.6,185.9L425.7,179.5L425.9,199.9L426.1,172.2L426.3,161.2L426.4,179.1L426.6,170.8L426.8,177.5L427.0,206.8L427.1,192.3L427.3,211.8L427.5,191.4L427.7,182.6L427.8,178.7L428.0,186.8L428.2,180.0L428.4,189.0L428.5,178.6L428.7,187.2L428.9,192.1L429.1,192.3L429.2,194.2L429.4,195.0L429.6,149.8L429.8,178.3L429.9,193.8L430.1,180.5L430.3,184.7L430.4,195.2L430.6,173.7L430.8,191.4L431.0,181.0L431.1,188.1L431.3,183.7L431.5,173.6L431.7,177.2L431.8,153.4L432.0,174.0L432.2,186.7L432.4,201.5L432.5,179.7L432.7,202.0L432.9,228.0L433.1,198.0L433.2,207.7L433.4,176.3L433.6,193.7L433.8,178.7L433.9,176.1L434.1,178.3L434.3,161.8L434.4,189.4L434.6,186.8L434.8,179.8L435.0,191.1L435.1,176.8L435.3,180.4L435.5,200.9L435.7,181.5L435.8,182.8L436.0,190.0L436.2,166.5L436.4,189.0L436.5,196.4L436.7,175.8L436.9,192.9L437.1,158.4L437.2,194.8L437.4,189.4L437.6,154.3L437.8,170.0L437.9,186.6L438.1,173.1L438.3,118.5L438.4,199.0L438.6,226.0L438.8,168.0L439.0,172.5L439.1,194.4L439.3,77.6L439.5,201.9L439.7,199.1L439.8,167.1L440.0,187.1L440.2,194.0L440.4,171.7L440.5,181.4L440.7,175.9L440.9,197.6L441.1,186.0L441.2,188.7L441.4,193.8L441.6,208.9L441.8,142.7L441.9,154.5L442.1,173.2L442.3,193.5L442.4,123.2L442.6,187.9L442.8,196.6L443.0,169.0L443.1,166.2L443.3,147.5L443.5,158.1L443.7,195.1L443.8,189.3L444.0,196.0L444.2,155.2L444.4,185.0L444.5,193.8L444.7,198.1L444.9,196.9L445.1,173.6L445.2,175.4L445.4,198.4L445.6,191.2L445.8,198.9L445.9,185.4L446.1,165.4L446.3,190.0L446.4,172.4L446.6,183.2L446.8,181.5L447.0,163.2L447.1,187.7L447.3,187.5L447.5,175.2L447.7,198.9L447.8,200.1L448.0,188.3L448.2,189.0L448.4,192.9L448.5,194.8L448.7,171.6L448.9,188.4L449.1,188.2L449.2,123.8L449.4,251.6L449.6,177.6L449.8,172.4L449.9,192.0L450.1,184.8L450.3,175.3L450.4,172.2L450.6,197.6L450.8,166.8L451.0,197.1L451.1,189.1L451.3,166.4L451.5,149.2L451.7,202.8L451.8,195.3L452.0,154.0L452.2,180.5L452.4,180.1L452.5,192.8L452.7,185.7L452.9,192.3L453.1,196.5L453.2,191.9L453.4,180.4L453.6,181.7L453.8,179.9L453.9,130.8L454.1,187.2L454.3,155.9L454.4,154.0L454.6,156.0L454.8,196.0L455.0,172.3L455.1,164.9L455.3,188.7L455.5,184.1L455.7,171.5L455.8,208.2L456.0,175.3L456.2,194.7L456.4,195.3L456.5,176.3L456.7,153.8L456.9,191.5L457.1,194.9L457.2,190.2L457.4,175.2L457.6,187.3L457.8,173.3L457.9,192.0L458.1,172.8L458.3,192.8L458.4,158.1L458.6,190.8L458.8,196.8L459.0,215.6L459.1,189.1L459.3,136.2L459.5,193.6L459.7,192.2L459.8,186.9L460.0,197.7L460.2,182.4L460.4,199.4L460.5,188.8L460.7,212.4L460.9,182.6L461.1,177.6L461.2,166.9L461.4,173.3L461.6,143.8L461.8,186.8L461.9,172.2L462.1,173.4L462.3,193.3L462.4,193.8L462.6,183.2L462.8,184.9L463.0,192.0L463.1,193.8L463.3,190.6L463.5,169.5L463.7,88.1L463.8,168.6L464.0,167.3L464.2,195.1L464.4,166.8L464.5,201.4L464.7,192.8L464.9,209.3L465.1,196.8L465.2,199.4L465.4,161.6L465.6,157.1L465.8,196.5L465.9,196.3L466.1,149.1L466.3,204.2L466.4,185.8L466.6,177.1L466.8,173.9L467.0,128.5L467.1,196.5L467.3,205.9L467.5,233.6L467.7,170.8L467.8,166.0L468.0,187.6L468.2,204.5L468.4,162.8L468.5,201.4L468.7,196.8L468.9,204.1L469.1,189.3L469.2,134.5L469.4,169.3L469.6,180.6L469.8,201.0L469.9,170.7L470.1,200.6L470.3,196.8L470.4,196.2L470.6,170.9L470.8,188.3L471.0,250.3L471.1,180.1L471.3,186.5L471.5,138.5L471.7,210.7L471.8,206.0L472.0,169.0L472.2,178.4L472.4,196.7L472.5,170.2L472.7,161.3L472.9,164.0L473.1,181.9L473.2,170.6L473.4,191.3L473.6,184.0L473.8,152.4L473.9,150.5L474.1,216.3L474.3,246.3L474.4,201.4L474.6,196.7L474.8,197.7L475.0,135.8L475.1,185.8L475.3,200.1L475.5,167.8L475.7,189.2L475.8,164.4L476.0,187.5L476.2,166.5L476.4,174.2L476.5,166.7L476.7,184.3L476.9,208.9L477.1,176.9L477.2,197.0L477.4,187.8L477.6,150.5L477.8,199.8L477.9,164.2L478.1,185.9L478.3,179.8L478.5,170.4L478.6,159.0L478.8,197.9L479.0,196.2L479.1,198.5L479.3,158.0L479.5,187.0L479.7,169.2L479.8,197.3L480.0,159.1L480.2,148.2L480.4,224.9L480.5,203.1L480.7,159.9L480.9,189.3L481.1,173.0L481.2,174.8L481.4,196.8L481.6,186.1L481.8,203.9L481.9,166.4L482.1,187.5L482.3,199.0L482.5,191.7L482.6,190.7L482.8,204.8L483.0,162.5L483.1,171.6L483.3,226.2L483.5,153.7L483.7,166.0L483.8,161.8L484.0,196.1L484.2,180.7L484.4,193.1L484.5,193.3L484.7,190.3L484.9,176.9L485.1,187.7L485.2,188.4L485.4,189.8L485.6,124.5L485.8,187.4L485.9,175.0L486.1,173.9L486.3,180.0L486.5,174.1L486.6,165.9L486.8,171.2L487.0,174.3L487.1,201.6L487.3,203.6L487.5,210.2L487.7,215.8L487.8,181.3L488.0,188.6L488.2,149.8L488.4,197.2L488.5,178.5L488.7,193.7L488.9,201.6L489.1,174.4L489.2,197.7L489.4,182.0L489.6,200.0L489.8,171.8L489.9,204.1L490.1,209.7L490.3,173.1L490.5,183.8L490.6,171.6L490.8,208.9L491.0,164.5L491.1,210.4L491.3,167.9L491.5,168.3L491.7,172.1L491.8,192.5L492.0,176.9L492.2,209.6L492.4,174.6L492.5,176.4L492.7,202.9L492.9,211.0L493.1,173.0L493.2,186.5L493.4,184.3L493.6,162.5L493.8,197.0L493.9,158.7L494.1,193.4L494.3,154.7L494.5,204.5L494.6,180.0L494.8,173.3L495.0,170.8L495.1,164.8L495.3,167.2L495.5,164.2L495.7,209.9L495.8,222.5L496.0,199.5L496.2,197.1L496.4,176.8L496.5,181.5L496.7,161.2L496.9,179.7L497.1,180.8L497.2,197.6L497.4,173.7L497.6,175.1L497.8,175.5L497.9,171.7L498.1,187.8L498.3,186.8L498.5,184.7L498.6,189.4L498.8,182.4"/></defs>
<g transform="translate(62.2,0.0)">
<rect x="0" y="0" width="522.0" height="365.3" fill="#EBEBEB"/>
<path class="g" stroke-width="1.10" d="M0,58.35H522.0M0,141.45H522.0M0,224.55H522.0M0,307.65H522.0M23.70,0V365.3M150.70,0V365.3M277.70,0V365.3M404.70,0V365.3"/>
<path class="g" stroke-width="2.10" d="M0,16.80H522.0M0,99.90H522.0M0,183.00H522.0M0,266.10H522.0M0,349.20H522.0M87.20,0V365.3M214.20,0V365.3M341.20,0V365.3M468.20,0V365.3"/>
<use href="#btc" class="s" stroke="#00CC99" stroke-width="2.25"/>
<path class="s" stroke="#000000" stroke-width="2.90" d="M35.8,187.1L36.0,188.6L36.3,183.8L36.5,179.8L36.8,184.5L37.0,183.4L37.3,192.7L37.5,183.6L37.8,174.0L38.0,175.4L38.2,177.5L38.5,191.2L38.7,178.5L39.0,178.8L39.2,187.0L39.5,181.0L39.7,188.2L39.9,187.4L40.2,186.3L40.4,188.3L40.7,178.7L40.9,177.9L41.2,186.0L41.4,186.3L41.7,188.6L41.9,188.9L42.1,179.4L42.4,181.0L42.6,189.2L42.9,183.6L43.1,186.8L43.4,173.2L43.6,176.1L43.8,179.1L44.1,180.6L44.3,171.2L44.6,172.2L44.8,187.7L45.1,189.8L45.3,175.6L45.6,192.9L45.8,158.3L46.0,217.3L46.3,189.0L46.5,194.4L46.8,189.7L47.0,174.5L47.3,172.1L47.5,174.4L47.7,180.3L48.0,178.7L48.2,187.9L48.5,192.4L48.7,185.7L49.0,179.3L49.2,188.9L49.5,189.3L49.7,178.9L49.9,186.3L50.2,179.7L50.4,177.0L50.7,173.6L50.9,186.1L51.2,187.1L51.4,175.7L51.6,176.5L51.9,180.1L52.1,178.0L52.4,180.2L52.6,176.3L52.9,186.1L53.1,178.9L53.4,176.9L53.6,185.9L53.8,206.5L54.1,185.5L54.3,184.0L54.6,188.8L54.8,195.3L55.1,175.2L55.3,185.2L55.5,178.6L55.8,175.7L56.0,165.3L56.3,187.7L56.5,192.3L56.8,174.5L57.0,173.6L57.3,175.8L57.5,172.8L57.7,179.4L58.0,178.6L58.2,189.2L58.5,177.4L58.7,186.9L59.0,184.9L59.2,187.5L59.4,180.8L59.7,178.9L59.9,180.7L60.2,187.5L60.4,189.3L60.7,175.8L60.9,187.7L61.2,203.2L61.4,191.2L61.6,187.8L61.9,191.3L62.1,167.4L62.4,178.0L62.6,173.8L62.9,179.6L63.1,188.4L63.4,179.0L63.6,179.5L63.8,176.0L64.1,181.7L64.3,174.6L64.6,185.6L64.8,188.1L65.1,182.5L65.3,178.0L65.5,179.9L65.8,183.2L66.0,183.1L66.3,180.7L66.5,185.0L66.8,181.1L67.0,172.7L67.3,173.3L67.5,174.9L67.7,191.6L68.0,181.8L68.2,185.4L68.5,177.5L68.7,186.0L69.0,177.3L69.2,204.0L69.4,184.3L69.7,178.1L69.9,181.5L70.2,178.3L70.4,182.2L70.7,186.3L70.9,178.8L71.2,182.2L71.4,182.7L71.6,189.2L71.9,189.1L72.1,175.9L72.4,174.3L72.6,174.1L72.9,186.6L73.1,191.7L73.3,181.2L73.6,177.7L73.8,178.3L74.1,193.8L74.3,190.3L74.6,177.0L74.8,193.7L75.1,174.1L75.3,173.4L75.5,188.8L75.8,191.9L76.0,173.6L76.3,176.9L76.5,184.6L76.8,183.9L77.0,174.8L77.2,186.7L77.5,191.6L77.7,179.9L78.0,187.5L78.2,180.0L78.5,177.1L78.7,185.5L79.0,186.8L79.2,188.9L79.4,178.3L79.7,191.6L79.9,173.9L80.2,178.0L80.4,174.6L80.7,176.1L80.9,189.8L81.1,189.5L81.4,174.5L81.6,187.7L81.9,177.0L82.1,189.6L82.4,187.6L82.6,178.8L82.9,188.6L83.1,177.4L83.3,175.4L83.6,187.3L83.8,198.6L84.1,188.9L84.3,184.5L84.6,188.5L84.8,181.5L85.1,180.0L85.3,181.6L85.5,179.2L85.8,179.3L86.0,172.4L86.3,181.5L86.5,173.3L86.8,188.0L87.0,191.8L87.2,190.2L87.5,165.3L87.7,190.1L88.0,175.9L88.2,173.5L88.5,181.2L88.7,191.4L89.0,179.2L89.2,186.7L89.4,173.7L89.7,190.0L89.9,188.3L90.2,183.7L90.4,183.3L90.7,189.0L90.9,186.0L91.1,179.2L91.4,183.9L91.6,189.7L91.9,184.9L92.1,184.9L92.4,184.4L92.6,190.1L92.9,189.6L93.1,171.9L93.3,173.2L93.6,172.1L93.8,175.7L94.1,185.6L94.3,178.6L94.6,185.4L94.8,181.6L95.0,181.7L95.3,184.0L95.5,185.9L95.8,186.0L96.0,180.3L96.3,186.6L96.5,185.8L96.8,185.7L97.0,186.1L97.2,177.7L97.5,181.8L97.7,190.1L98.0,178.8L98.2,182.9L98.5,178.3L98.7,183.3L98.9,188.0L99.2,175.3L99.4,190.5L99.7,188.6L99.9,183.8L100.2,177.4L100.4,188.9L100.7,186.1L100.9,182.1L101.1,179.7L101.4,189.0L101.6,175.7L101.9,180.6L102.1,182.0L102.4,187.1L102.6,188.7L102.8,173.1L103.1,179.1L103.3,185.8L103.6,185.6L103.8,181.3L104.1,180.6L104.3,180.2L104.6,188.9L104.8,190.8L105.0,193.4L105.3,187.1L105.5,180.6L105.8,173.7L106.0,191.3L106.3,190.5L106.5,179.4L106.7,179.1L107.0,190.0L107.2,190.4L107.5,193.6L107.7,178.6L108.0,188.9L108.2,189.7L108.5,178.2L108.7,191.9L108.9,182.1L109.2,188.2L109.4,188.4L109.7,180.3L109.9,179.0L110.2,183.9L110.4,186.3L110.7,177.4L110.9,192.8L111.1,197.3L111.4,173.5L111.6,172.8L111.9,189.1L112.1,189.4L112.4,179.0L112.6,184.1L112.8,179.0L113.1,180.5L113.3,184.5L113.6,178.7L113.8,180.5L114.1,191.0L114.3,184.1L114.6,176.3L114.8,180.4L115.0,181.3L115.3,181.6L115.5,180.1L115.8,185.1L116.0,184.3L116.3,179.7L116.5,176.4L116.7,187.2L117.0,189.7L117.2,188.1L117.5,184.9L117.7,189.5L118.0,180.2L118.2,176.5L118.5,186.2L118.7,154.5L118.9,185.0L119.2,182.5L119.4,179.7L119.7,181.2L119.9,182.9L120.2,180.9L120.4,183.4L120.6,179.2L120.9,187.5L121.1,189.2L121.4,180.9L121.6,182.3L121.9,184.0L122.1,188.3L122.4,177.2L122.6,188.3L122.8,176.9L123.1,186.0L123.3,186.5L123.6,173.8L123.8,173.5L124.1,177.9L124.3,173.5L124.5,190.3L124.8,175.1L125.0,181.1L125.3,185.8L125.5,181.4L125.8,187.6L126.0,179.3L126.3,180.8L126.5,189.6L126.7,188.1L127.0,187.1L127.2,183.9L127.5,187.9L127.7,187.0L128.0,181.0L128.2,191.4L128.4,176.4L128.7,184.9L128.9,186.1L129.2,180.4L129.4,186.9L129.7,178.7L129.9,187.2L130.2,182.1L130.4,178.1L130.6,187.0L130.9,177.5L131.1,172.5L131.4,172.1L131.6,187.5L131.9,179.1L132.1,173.0L132.3,180.2L132.6,176.6L132.8,179.0L133.1,195.7L133.3,186.3L133.6,176.3L133.8,183.8L134.1,184.4L134.3,186.3L134.5,188.0L134.8,180.1L135.0,185.0L135.3,167.0L135.5,186.9L135.8,179.6L136.0,186.6L136.3,180.0L136.5,183.7L136.7,181.0L137.0,183.6L137.2,185.7L137.5,179.7L137.7,181.6L138.0,185.3L138.2,179.9L138.4,190.1L138.7,186.1L138.9,179.9L139.2,179.6L139.4,191.8L139.7,187.2L139.9,183.9L140.2,182.5L140.4,178.3L140.6,181.5L140.9,178.8L141.1,197.3L141.4,186.9L141.6,186.0L141.9,188.4L142.1,185.1L142.3,180.9L142.6,174.8L142.8,189.7L143.1,177.4L143.3,176.5L143.6,177.7L143.8,172.8L144.1,180.6L144.3,184.8L144.5,181.7L144.8,192.4L145.0,192.3L145.3,183.4L145.5,185.6L145.8,189.0L146.0,186.0L146.2,180.1L146.5,182.3L146.7,185.3L147.0,180.5L147.2,186.7L147.5,179.7L147.7,181.2L148.0,184.0L148.2,181.1L148.4,180.0L148.7,181.6L148.9,181.6L149.2,181.3L149.4,180.2L149.7,180.3L149.9,188.7L150.1,193.1L150.4,188.7L150.6,186.9L150.9,189.3L151.1,184.7L151.4,176.6L151.6,187.9L151.9,185.4L152.1,177.8L152.3,188.6L152.6,185.8L152.8,181.8L153.1,178.9L153.3,177.9L153.6,186.8L153.8,177.0L154.0,184.4L154.3,191.6L154.5,191.1L154.8,185.3L155.0,175.4L155.3,192.6L155.5,190.0L155.8,178.9L156.0,178.6L156.2,187.1L156.5,188.5L156.7,180.5L157.0,179.0L157.2,190.6L157.5,182.2L157.7,189.4L158.0,180.5L158.2,189.8L158.4,189.6L158.7,181.4L158.9,173.1L159.2,193.3L159.4,192.1L159.7,190.3L159.9,175.4L160.1,188.6L160.4,188.1L160.6,185.1L160.9,175.9L161.1,187.9L161.4,184.1L161.6,183.6L161.9,183.0L162.1,184.1L162.3,179.1L162.6,186.9L162.8,182.8L163.1,187.0L163.3,178.9L163.6,184.2L163.8,177.9L164.0,180.8L164.3,186.4L164.5,173.5L164.8,188.5L165.0,178.9L165.3,176.4L165.5,192.0L165.8,190.6L166.0,184.0L166.2,184.7L166.5,185.0L166.7,185.4L167.0,184.7L167.2,178.8L167.5,184.5L167.7,184.6L167.9,188.9L168.2,189.9L168.4,188.8L168.7,174.8L168.9,174.2L169.2,190.8L169.4,186.3L169.7,180.3L169.9,181.0L170.1,190.2L170.4,189.2L170.6,178.4L170.9,188.4L171.1,185.1L171.4,178.8L171.6,179.8L171.8,185.8L172.1,176.3L172.3,173.2L172.6,183.9L172.8,174.9L173.1,182.1L173.3,185.4L173.6,175.8L173.8,178.4L174.0,188.8L174.3,181.9L174.5,185.5L174.8,183.3L175.0,176.6L175.3,187.6L175.5,179.8L175.7,189.5L176.0,185.1L176.2,176.4L176.5,178.5L176.7,186.0L177.0,187.3L177.2,180.6L177.5,183.8L177.7,177.8L177.9,185.7L178.2,178.3L178.4,186.3L178.7,179.3L178.9,178.8L179.2,188.7L179.4,184.6L179.6,178.7L179.9,185.2L180.1,189.8L180.4,177.9L180.6,196.5L180.9,188.3L181.1,189.9L181.4,182.3L181.6,186.9L181.8,177.7L182.1,187.2L182.3,188.4L182.6,178.3L182.8,184.4L183.1,178.7L183.3,181.7L183.6,177.8L183.8,177.2L184.0,188.6L184.3,186.5L184.5,187.6L184.8,177.0L185.0,180.9L185.3,179.2L185.5,178.8L185.7,180.1L186.0,179.5L186.2,179.1L186.5,181.4L186.7,179.4L187.0,178.2L187.2,183.6L187.5,186.3L187.7,180.8L187.9,191.3L188.2,187.4L188.4,186.2L188.7,176.7L188.9,191.8L189.2,187.2L189.4,184.6L189.6,181.6L189.9,180.3L190.1,183.3L190.4,180.5L190.6,183.8L190.9,182.9L191.1,186.6L191.4,188.3L191.6,176.6L191.8,180.7L192.1,187.3L192.3,182.0L192.6,185.0L192.8,189.5L193.1,179.6L193.3,177.6L193.5,180.8L193.8,187.1L194.0,184.3L194.3,186.6L194.5,186.8L194.8,185.7L195.0,178.6L195.3,175.6L195.5,176.4L195.7,174.3L196.0,191.2L196.2,189.3L196.5,192.1L196.7,191.5L197.0,179.7L197.2,185.4L197.4,181.2L197.7,176.3L197.9,187.5L198.2,186.0L198.4,179.4L198.7,187.8L198.9,178.6L199.2,185.0L199.4,187.7L199.6,187.4L199.9,188.9L200.1,177.9L200.4,189.2L200.6,189.2L200.9,180.8L201.1,189.0L201.3,186.9L201.6,177.1L201.8,185.2L202.1,178.0L202.3,187.8L202.6,185.6L202.8,186.0L203.1,180.5L203.3,185.7L203.5,185.9L203.8,185.5L204.0,182.4L204.3,179.7L204.5,183.2L204.8,180.6L205.0,183.1L205.2,179.0L205.5,181.3L205.7,187.1L206.0,185.5L206.2,177.4L206.5,184.0L206.7,180.4L207.0,188.4L207.2,179.6L207.4,179.3L207.7,188.5L207.9,176.3L208.2,185.3L208.4,186.9L208.7,178.7L208.9,174.7L209.2,176.0L209.4,181.0L209.6,191.7L209.9,183.3L210.1,181.3L210.4,179.4L210.6,186.3L210.9,183.7L211.1,181.1L211.3,180.3L211.6,188.1L211.8,178.5L212.1,187.6L212.3,178.7L212.6,178.6L212.8,181.7L213.1,182.4L213.3,184.6L213.5,184.3L213.8,179.5L214.0,181.3L214.3,183.9L214.5,185.7L214.8,176.1L215.0,176.7L215.2,176.8L215.5,176.8L215.7,186.2L216.0,176.9L216.2,179.1L216.5,175.9L216.7,178.3L217.0,177.0L217.2,181.4L217.4,182.4L217.7,181.8L217.9,185.1L218.2,183.8L218.4,181.4L218.7,191.2L218.9,187.3L219.1,179.6L219.4,184.7L219.6,191.5L219.9,190.0L220.1,178.8L220.4,181.3L220.6,180.4L220.9,174.8L221.1,174.4L221.3,187.9L221.6,181.2L221.8,182.8L222.1,182.1L222.3,184.9L222.6,183.7L222.8,181.0L223.0,179.8L223.3,183.9L223.5,185.1L223.8,179.7L224.0,183.0L224.3,179.8L224.5,190.4L224.8,180.8L225.0,187.2L225.2,190.8L225.5,183.5L225.7,175.8L226.0,184.0L226.2,187.4L226.5,179.6L226.7,177.6L226.9,178.9L227.2,187.0L227.4,176.7L227.7,176.8L227.9,184.5L228.2,177.1L228.4,192.2L228.7,189.5L228.9,184.9L229.1,177.8L229.4,180.1L229.6,180.4L229.9,178.8L230.1,179.8L230.4,191.8L230.6,174.9L230.9,177.0L231.1,189.4L231.3,180.2L231.6,184.7L231.8,186.6L232.1,180.4L232.3,184.6L232.6,181.6L232.8,180.3L233.0,179.6L233.3,182.1L233.5,184.4L233.8,190.7L234.0,189.4L234.3,178.7L234.5,188.5L234.8,182.4L235.0,187.1L235.2,179.3L235.5,186.7L235.7,179.5L236.0,184.1L236.2,179.7L236.5,185.1L236.7,177.8L236.9,182.9L237.2,184.6L237.4,184.5L237.7,184.6L237.9,181.5L238.2,185.4L238.4,185.5L238.7,179.9L238.9,185.2L239.1,179.0L239.4,187.9L239.6,181.4L239.9,187.7L240.1,185.2L240.4,185.6L240.6,179.6L240.8,193.6L241.1,189.0L241.3,176.1L241.6,176.0L241.8,175.3L242.1,181.5L242.3,179.2L242.6,184.4L242.8,186.1L243.0,178.3L243.3,185.1L243.5,189.5L243.8,175.2L244.0,189.8L244.3,177.6L244.5,188.8L244.7,176.1L245.0,179.3L245.2,173.4L245.5,179.8L245.7,175.1L246.0,183.3L246.2,174.2L246.5,184.9L246.7,177.0L246.9,180.3L247.2,177.0L247.4,189.4L247.7,185.6L247.9,173.5L248.2,189.3L248.4,181.2L248.6,185.9L248.9,194.1L249.1,193.6L249.4,183.7L249.6,187.4L249.9,172.4L250.1,188.8L250.4,192.7L250.6,193.5L250.8,185.6L251.1,173.9L251.3,175.1L251.6,181.7L251.8,182.2L252.1,179.8L252.3,180.1L252.5,187.5L252.8,178.6L253.0,179.0L253.3,183.6L253.5,185.1L253.8,181.1L254.0,182.6L254.3,190.2L254.5,195.5L254.7,174.5L255.0,170.1L255.2,178.6L255.5,188.6L255.7,185.3L256.0,190.6L256.2,173.2L256.5,189.4L256.7,187.2L256.9,178.8L257.2,177.0L257.4,184.8L257.7,191.3L257.9,185.9L258.2,176.0L258.4,188.3L258.6,185.8L258.9,188.4L259.1,186.6L259.4,187.3L259.6,183.8L259.9,176.8L260.1,177.0L260.4,189.2L260.6,188.3L260.8,186.6L261.1,180.4L261.3,179.8L261.6,179.8L261.8,186.6L262.1,186.6L262.3,177.5L262.5,180.1L262.8,176.4L263.0,190.2L263.3,179.3L263.5,188.5L263.8,183.8L264.0,185.3L264.3,173.9L264.5,187.5L264.7,176.3L265.0,188.7L265.2,179.3L265.5,170.3L265.7,193.2L266.0,187.2L266.2,167.2L266.4,171.1L266.7,169.5L266.9,178.0L267.2,188.9L267.4,195.8L267.7,170.0L267.9,196.6L268.2,168.1L268.4,175.5L268.6,175.2L268.9,177.6L269.1,179.4L269.4,185.7L269.6,176.8L269.9,178.7L270.1,182.0L270.3,196.2L270.6,209.4L270.8,175.4L271.1,196.1L271.3,177.0L271.6,185.6L271.8,192.5L272.1,180.5L272.3,175.1L272.5,171.3L272.8,191.7L273.0,187.6L273.3,184.1L273.5,183.9L273.8,192.1L274.0,189.5L274.2,189.6L274.5,181.2L274.7,175.3L275.0,189.2L275.2,178.7L275.5,182.1L275.7,189.7L276.0,189.7L276.2,167.5L276.4,196.6L276.7,178.4L276.9,180.5L277.2,173.3L277.4,190.4L277.7,193.7L277.9,173.5L278.1,188.3L278.4,186.2L278.6,201.1L278.9,197.2L279.1,197.2L279.4,172.6L279.6,200.6L279.9,205.2L280.1,186.0L280.3,186.0L280.6,192.5L280.8,172.8L281.1,175.3L281.3,176.4L281.6,174.3L281.8,188.3L282.1,175.4L282.3,170.2L282.5,150.8L282.8,169.0L283.0,173.8L283.3,175.0L283.5,170.7L283.8,173.4L284.0,189.3L284.2,182.5L284.5,199.6L284.7,188.0L285.0,175.5L285.2,195.7L285.5,178.2L285.7,151.2L286.0,194.6L286.2,190.2L286.4,177.7L286.7,185.6L286.9,186.5L287.2,171.2L287.4,176.0L287.7,178.3L287.9,197.7L288.1,200.3L288.4,189.4L288.6,197.5L288.9,177.4L289.1,172.4L289.4,175.2L289.6,185.6L289.9,172.9L290.1,175.8L290.3,180.8L290.6,175.7L290.8,199.8L291.1,205.9L291.3,162.3L291.6,160.6L291.8,182.0L292.0,177.7L292.3,169.1L292.5,200.7L292.8,171.7L293.0,168.9L293.3,190.5L293.5,180.4L293.8,174.7L294.0,171.9L294.2,186.3L294.5,206.5L294.7,170.6L295.0,175.6L295.2,158.3L295.5,190.1L295.7,204.4L295.9,163.4L296.2,187.3L296.4,194.9L296.7,193.7L296.9,179.5L297.2,195.0L297.4,175.1L297.7,173.1L297.9,200.0L298.1,176.3L298.4,191.4L298.6,191.9L298.9,169.8L299.1,197.1L299.4,187.1L299.6,168.3L299.8,196.7L300.1,178.1L300.3,191.8L300.6,192.3L300.8,189.2L301.1,175.6L301.3,186.5L301.6,176.0L301.8,171.8L302.0,167.7L302.3,180.5L302.5,193.3L302.8,176.5L303.0,198.2L303.3,190.5L303.5,186.1L303.7,177.2L304.0,181.7L304.2,185.0L304.5,186.3L304.7,182.3L305.0,180.7L305.2,168.4L305.5,183.2L305.7,164.9L305.9,200.3L306.2,177.1L306.4,184.5L306.7,186.1L306.9,183.4L307.2,176.7L307.4,184.9L307.7,177.3L307.9,180.6L308.1,188.9L308.4,199.7L308.6,199.2L308.9,168.2L309.1,197.9L309.4,191.5L309.6,188.9L309.8,206.5L310.1,193.9L310.3,193.4L310.6,186.8L310.8,188.6L311.1,180.7L311.3,183.9L311.6,179.5L311.8,187.8L312.0,187.3L312.3,185.4L312.5,187.5L312.8,189.8L313.0,194.7L313.3,183.2L313.5,188.4L313.7,186.9L314.0,175.3L314.2,193.5L314.5,190.9L314.7,172.3L315.0,187.7L315.2,190.3L315.5,188.1L315.7,190.1L315.9,175.2L316.2,187.0L316.4,189.0L316.7,198.8L316.9,169.5L317.2,179.1L317.4,165.7L317.6,190.0L317.9,188.6L318.1,180.7L318.4,174.1L318.6,181.0L318.9,198.8L319.1,141.2L319.4,217.3L319.6,178.6L319.8,187.6L320.1,202.5L320.3,161.6L320.6,204.2L320.8,204.7L321.1,194.8L321.3,159.1L321.5,194.3L321.8,159.6L322.0,161.5L322.3,194.0L322.5,156.2L322.8,190.0L323.0,167.0L323.3,173.3L323.5,173.4L323.7,176.6L324.0,177.0L324.2,174.4L324.5,169.5L324.7,191.7L325.0,195.5L325.2,190.4L325.4,165.3L325.7,162.0L325.9,161.6L326.2,178.0L326.4,164.6L326.7,166.1L326.9,174.0L327.2,181.5L327.4,177.0L327.6,194.1L327.9,181.5L328.1,196.7L328.4,187.2L328.6,204.9L328.9,161.7L329.1,163.5L329.4,175.6L329.6,159.8L329.8,163.7L330.1,169.6L330.3,190.2L330.6,168.9L330.8,165.9L331.1,158.7L331.3,163.9L331.5,179.8L331.8,165.0L332.0,187.9L332.3,172.1L332.5,180.7L332.8,169.0L333.0,196.0L333.3,173.0L333.5,170.9L333.7,174.8L334.0,193.8L334.2,176.4L334.5,170.7L334.7,195.3L335.0,166.7L335.2,191.2L335.4,195.5L335.7,177.2L335.9,197.9L336.2,178.3L336.4,186.6L336.7,168.6L336.9,191.1L337.2,183.8L337.4,193.4L337.6,185.3L337.9,178.9L338.1,190.8L338.4,187.6L338.6,181.1L338.9,183.9L339.1,185.0L339.3,185.6L339.6,186.3L339.8,180.8L340.1,184.8L340.3,189.2L340.6,193.2L340.8,176.7L341.1,173.6L341.3,188.3L341.5,184.9L341.8,175.4L342.0,187.4L342.3,185.8L342.5,185.5L342.8,180.2L343.0,191.4L343.2,159.2L343.5,165.0L343.7,209.4L344.0,209.3L344.2,157.6L344.5,172.5L344.7,189.8L345.0,175.3L345.2,138.7L345.4,190.3L345.7,173.8L345.9,178.8L346.2,174.9L346.4,178.9L346.7,188.7L346.9,185.3L347.1,171.7L347.4,213.1L347.6,201.4L347.9,156.9L348.1,196.8L348.4,180.5L348.6,137.5L348.9,213.1L349.1,168.4L349.3,196.9L349.6,161.2L349.8,174.6L350.1,178.0L350.3,185.8L350.6,185.8L350.8,174.8L351.0,191.1L351.3,192.1L351.5,178.3L351.8,192.9L352.0,196.2L352.3,197.0L352.5,201.1L352.8,188.8L353.0,173.9L353.2,168.3L353.5,192.7L353.7,202.0L354.0,196.4L354.2,199.7L354.5,189.0L354.7,201.0L355.0,171.8L355.2,178.8L355.4,170.9L355.7,166.6L355.9,167.4L356.2,188.2L356.4,191.2L356.7,186.6L356.9,175.1L357.1,174.9L357.4,179.6L357.6,191.2L357.9,177.7L358.1,195.4L358.4,200.0L358.6,157.4L358.9,202.5L359.1,166.6L359.3,178.6L359.6,188.9L359.8,169.8L360.1,178.2L360.3,197.7L360.6,172.8L360.8,187.3L361.0,176.0L361.3,163.8L361.5,201.8L361.8,201.5L362.0,192.0L362.3,193.7L362.5,188.7L362.8,174.4L363.0,189.1L363.2,194.7L363.5,171.1L363.7,175.7L364.0,171.1L364.2,170.8L364.5,164.6L364.7,192.1L364.9,167.9L365.2,186.5L365.4,184.2L365.7,201.9L365.9,166.4L366.2,175.4L366.4,187.4L366.7,195.1L366.9,190.9L367.1,188.4L367.4,177.8L367.6,173.6L367.9,190.2L368.1,193.1L368.4,201.5L368.6,167.2L368.8,196.1L369.1,169.0L369.3,178.4L369.6,186.8L369.8,188.8L370.1,190.3L370.3,189.2L370.6,177.2L370.8,164.0L371.0,174.8L371.3,194.8L371.5,170.0L371.8,176.5L372.0,168.4L372.3,180.8L372.5,202.3L372.7,195.7L373.0,195.7L373.2,198.7L373.5,168.6L373.7,182.0L374.0,197.6L374.2,167.5L374.5,184.2L374.7,196.3L374.9,199.4L375.2,192.0L375.4,180.9L375.7,186.8L375.9,175.3L376.2,176.4L376.4,181.0L376.6,187.5L376.9,175.9L377.1,174.7L377.4,184.1L377.6,177.7L377.9,174.7L378.1,189.6L378.4,179.6L378.6,195.8L378.8,186.8L379.1,193.7L379.3,198.6L379.6,169.4L379.8,164.9L380.1,175.7L380.3,166.6L380.6,169.5L380.8,188.4L381.0,190.0L381.3,181.4L381.5,172.4L381.8,170.7L382.0,170.7L382.3,186.7L382.5,180.3L382.7,192.7L383.0,185.3L383.2,175.3L383.5,191.9L383.7,192.5L384.0,187.6L384.2,190.6L384.5,190.8L384.7,192.2L384.9,186.5L385.2,191.1L385.4,166.2L385.7,201.5L385.9,201.3L386.2,194.0L386.4,167.7L386.6,168.2L386.9,190.0L387.1,194.3L387.4,175.9L387.6,190.0L387.9,159.5L388.1,186.6L388.4,184.0L388.6,190.4L388.8,175.7L389.1,174.0L389.3,175.4L389.6,176.5L389.8,184.9L390.1,188.3L390.3,188.8L390.5,182.1L390.8,178.9L391.0,187.4L391.3,185.0L391.5,184.5L391.8,180.3L392.0,188.5L392.3,188.6L392.5,187.3L392.7,181.9L393.0,184.7L393.2,176.1L393.5,182.3L393.7,177.2L394.0,187.8L394.2,187.5L394.4,179.5L394.7,183.8L394.9,186.9L395.2,181.9L395.4,181.9L395.7,188.0L395.9,175.7L396.2,176.5L396.4,160.4L396.6,188.5L396.9,187.5L397.1,175.2L397.4,185.6L397.6,180.6L397.9,189.9L398.1,180.4L398.3,174.2L398.6,197.3L398.8,185.1L399.1,135.4L399.3,181.3L399.6,181.5L399.8,178.8L400.1,190.5L400.3,178.5L400.5,174.6L400.8,189.2L401.0,185.2L401.3,183.5L401.5,175.2L401.8,190.6L402.0,192.5L402.3,187.2L402.5,175.2L402.7,188.8L403.0,186.5L403.2,180.5L403.5,187.4L403.7,180.7L404.0,183.6L404.2,184.0L404.4,174.1L404.7,187.2L404.9,183.8L405.2,190.0L405.4,174.0L405.7,174.4L405.9,181.1L406.2,185.8L406.4,183.6L406.6,183.1L406.9,182.8L407.1,180.1L407.4,193.3L407.6,177.8L407.9,174.5L408.1,187.4L408.3,191.0L408.6,195.5L408.8,180.0L409.1,185.3L409.3,184.2L409.6,185.6L409.8,185.2L410.1,178.3L410.3,179.0L410.5,175.4L410.8,185.0L411.0,176.7L411.3,175.8L411.5,189.9L411.8,175.6L412.0,189.6L412.2,181.0L412.5,185.5L412.7,178.7L413.0,186.9L413.2,178.9L413.5,177.7L413.7,192.6L414.0,179.8L414.2,181.6L414.4,187.0L414.7,188.2L414.9,188.6L415.2,179.2L415.4,184.0L415.7,177.4L415.9,186.6L416.1,175.1L416.4,202.3L416.6,189.2L416.9,193.0L417.1,174.5L417.4,173.8L417.6,184.0L417.9,185.0L418.1,179.5L418.3,183.8L418.6,186.5L418.8,182.0L419.1,180.7L419.3,175.5L419.6,175.8L419.8,170.7L420.0,190.8L420.3,171.6L420.5,186.9L420.8,178.6L421.0,183.3L421.3,183.8L421.5,190.5L421.8,187.2L422.0,180.3L422.2,191.2L422.5,186.3L422.7,187.9L423.0,182.0L423.2,190.2L423.5,176.2L423.7,188.3L423.9,195.4L424.2,169.5L424.4,173.8L424.7,173.9L424.9,178.1L425.2,188.4L425.4,188.7L425.7,190.1L425.9,187.6L426.1,178.4L426.4,199.8L426.6,173.5L426.9,184.0L427.1,175.4L427.4,180.4L427.6,181.3L427.9,186.1L428.1,178.9L428.3,185.6L428.6,176.1L428.8,188.3L429.1,191.2L429.3,180.2L429.6,192.3L429.8,191.8L430.0,170.6L430.3,175.2L430.5,188.6L430.8,186.7L431.0,182.2L431.3,190.4L431.5,190.1L431.8,191.8L432.0,192.0L432.2,195.7L432.5,169.2L432.7,172.3L433.0,166.1L433.2,176.9L433.5,195.6L433.7,183.2L433.9,170.9L434.2,178.5L434.4,173.5L434.7,190.9L434.9,192.8L435.2,173.1L435.4,183.4L435.7,175.0L435.9,181.0L436.1,187.3L436.4,178.3L436.6,184.6L436.9,192.3L437.1,175.1L437.4,170.9L437.6,173.7L437.8,177.5L438.1,173.4L438.3,173.1L438.6,197.6L438.8,170.4L439.1,197.0L439.3,196.2L439.6,177.4L439.8,194.3L440.0,174.2L440.3,168.8L440.5,175.0L440.8,194.4L441.0,191.0L441.3,173.3L441.5,178.4L441.7,183.8L442.0,191.1L442.2,193.9L442.5,186.4L442.7,185.8L443.0,186.8L443.2,178.0L443.5,188.2L443.7,187.3L443.9,182.2L444.2,185.1L444.4,185.0L444.7,193.1L444.9,184.5L445.2,175.5L445.4,178.2L445.6,179.3L445.9,185.3L446.1,180.8L446.4,185.1L446.6,183.8L446.9,176.1L447.1,182.6L447.4,179.7L447.6,184.0L447.8,180.3L448.1,181.4L448.3,195.0L448.6,190.6L448.8,176.4L449.1,181.9L449.3,174.6L449.5,192.4L449.8,196.5L450.0,176.5L450.3,178.8L450.5,178.0L450.8,173.1L451.0,191.9L451.3,175.8L451.5,176.4L451.7,176.2L452.0,177.8L452.2,187.6L452.5,176.8L452.7,172.1L453.0,172.0L453.2,173.2L453.5,175.5L453.7,190.7L453.9,191.9L454.2,181.4L454.4,174.5L454.7,182.0L454.9,182.0L455.2,177.8L455.4,191.2L455.6,185.2L455.9,188.1L456.1,189.8L456.4,190.6L456.6,174.5L456.9,171.5L457.1,176.4L457.4,173.1L457.6,182.0L457.8,187.4L458.1,173.0L458.3,188.9L458.6,190.0L458.8,181.0L459.1,176.2L459.3,184.0L459.5,185.5L459.8,180.1L460.0,184.1L460.3,182.0L460.5,184.8L460.8,186.1L461.0,181.9L461.3,180.8L461.5,180.0L461.7,181.6L462.0,187.7L462.2,180.3L462.5,186.3L462.7,188.1L463.0,184.8L463.2,175.5L463.4,187.0L463.7,186.2L463.9,177.1L464.2,182.1L464.4,182.0L464.7,174.5L464.9,186.9L465.2,179.7L465.4,190.2L465.6,177.0L465.9,188.5L466.1,175.1L466.4,178.6L466.6,170.4L466.9,195.2L467.1,195.7L467.3,173.9L467.6,182.6L467.8,176.3L468.1,184.1L468.3,192.2L468.6,176.8L468.8,188.6L469.1,184.0L469.3,177.9L469.5,177.6L469.8,174.1L470.0,178.8L470.3,187.0L470.5,179.5L470.8,188.0L471.0,178.2L471.2,177.1L471.5,178.8L471.7,184.1L472.0,184.9L472.2,178.4L472.5,188.4L472.7,178.3L473.0,186.1L473.2,186.9L473.4,188.4L473.7,186.3L473.9,177.2L474.2,172.4L474.4,186.0L474.7,192.3L474.9,190.7L475.2,178.7L475.4,175.7L475.6,176.1L475.9,178.7L476.1,177.1L476.4,178.4L476.6,173.8L476.9,178.2L477.1,171.7L477.3,178.5L477.6,177.8L477.8,190.9L478.1,177.1L478.3,177.6L478.6,184.9L478.8,189.5L479.1,192.3L479.3,189.1L479.5,176.8L479.8,183.4L480.0,181.4L480.3,173.3L480.5,174.7L480.8,180.2L481.0,195.4L481.2,194.4L481.5,179.3L481.7,191.9L482.0,180.0L482.2,180.1L482.5,177.1L482.7,174.5L483.0,185.7L483.2,188.3L483.4,173.4L483.7,185.5L483.9,186.4L484.2,182.1L484.4,178.2L484.7,191.6L484.9,185.3L485.1,188.4L485.4,179.4L485.6,177.6L485.9,177.3L486.1,181.2L486.4,184.8L486.6,178.3L486.9,185.9L487.1,186.9L487.3,187.0L487.6,188.5L487.8,189.2L488.1,176.3L488.3,184.6L488.6,190.5L488.8,185.5L489.0,187.2L489.3,192.0L489.5,191.0L489.8,176.6L490.0,185.0L490.3,175.2L490.5,190.3L490.8,185.3L491.0,177.7L491.2,181.6L491.5,178.1L491.7,178.4L492.0,181.6L492.2,175.8L492.5,169.5L492.7,191.8L492.9,172.5L493.2,171.4L493.4,196.2L493.7,188.4L493.9,182.7L494.2,175.5L494.4,185.9L494.7,183.6L494.9,195.2L495.1,188.9L495.4,186.1L495.6,183.9L495.9,175.4L496.1,186.9L496.4,178.5L496.6,196.0L496.8,180.6L497.1,173.9L497.3,188.8L497.6,191.4L497.8,191.5L498.1,183.3L498.3,178.6L498.6,169.9L498.8,190.1"/>
<path d="M22.8,16.80H81.8" stroke="#00CC99" stroke-width="2.25" fill="none"/>
<path d="M22.8,58.35H81.8" stroke="#000000" stroke-width="3.60" fill="none"/>
<text class="l" transform="translate(87.40,21.60)">BTC/USD FX Rate</text>
<text class="l" transform="translate(87.40,63.15)">Crude Oil Brent Future Price in USD</text>
<path d="M-4.3,16.80H0M-4.3,99.90H0M-4.3,183.00H0M-4.3,266.10H0M-4.3,349.20H0" stroke="#222" stroke-width="1.7" fill="none"/>
<path d="M87.20,365.3v3.6M214.20,365.3v3.6M341.20,365.3v3.6M468.20,365.3v3.6" stroke="#333" stroke-width="0.9" fill="none"/>
<text class="t" text-anchor="end" transform="translate(-14.65,22.40)">40</text>
<text class="t" text-anchor="end" transform="translate(-14.65,105.50)">20</text>
<text class="t" text-anchor="end" transform="translate(-15.80,188.60)">0</text>
<text class="t" text-anchor="end" transform="translate(-13.60,271.70)">−20</text>
<text class="t" text-anchor="end" transform="translate(-13.60,354.80)">−40</text>
<text class="t" text-anchor="middle" transform="translate(87.20,382.60) scale(1.0200,1)" style="font-size:16.00px">2012</text>
<text class="t" text-anchor="middle" transform="translate(214.20,382.60) scale(1.0200,1)" style="font-size:16.00px">2014</text>
<text class="t" text-anchor="middle" transform="translate(341.20,382.60) scale(1.0200,1)" style="font-size:16.00px">2016</text>
<text class="t" text-anchor="middle" transform="translate(468.20,382.60) scale(1.0200,1)" style="font-size:16.00px">2018</text>
<text class="a" text-anchor="middle" transform="translate(261.00,401.50) scale(0.9600,1)">Date</text>
<text class="a" text-anchor="middle" transform="translate(-46.90,182.25) rotate(-90) scale(0.9800,1)">Daily return in %</text>
</g>
<g transform="translate(679.2,0.0)">
<rect x="0" y="0" width="522.0" height="365.3" fill="#EBEBEB"/>
<path class="g" stroke-width="1.10" d="M0,58.35H522.0M0,141.45H522.0M0,224.55H522.0M0,307.65H522.0M23.70,0V365.3M150.70,0V365.3M277.70,0V365.3M404.70,0V365.3"/>
<path class="g" stroke-width="2.10" d="M0,16.80H522.0M0,99.90H522.0M0,183.00H522.0M0,266.10H522.0M0,349.20H522.0M87.20,0V365.3M214.20,0V365.3M341.20,0V365.3M468.20,0V365.3"/>
<use href="#btc" class="s" stroke="#00CC99" stroke-width="2.25"/>
<path class="s" stroke="#FFCC33" stroke-width="2.90" d="M35.8,188.4L36.0,178.9L36.3,187.1L36.5,182.0L36.8,190.1L37.0,176.7L37.3,176.8L37.5,189.9L37.8,176.2L38.0,188.8L38.2,186.9L38.5,180.7L38.7,179.7L39.0,180.2L39.2,186.7L39.5,182.7L39.7,182.3L39.9,183.3L40.2,179.6L40.4,187.1L40.7,179.6L40.9,188.3L41.2,187.4L41.4,187.5L41.7,185.7L41.9,180.5L42.1,183.7L42.4,179.0L42.6,186.0L42.9,179.8L43.1,181.2L43.4,184.6L43.6,184.5L43.8,179.6L44.1,181.7L44.3,179.7L44.6,178.9L44.8,178.3L45.1,184.9L45.3,184.1L45.6,185.0L45.8,176.4L46.0,186.2L46.3,178.7L46.5,184.2L46.8,184.1L47.0,183.6L47.3,184.6L47.5,184.1L47.7,190.8L48.0,190.2L48.2,178.3L48.5,179.9L48.7,191.0L49.0,184.9L49.2,185.4L49.5,186.5L49.7,182.6L49.9,184.0L50.2,186.5L50.4,181.5L50.7,178.5L50.9,188.5L51.2,186.6L51.4,180.4L51.6,183.3L51.9,182.9L52.1,183.5L52.4,179.9L52.6,181.8L52.9,181.8L53.1,183.7L53.4,183.3L53.6,180.1L53.8,185.4L54.1,179.8L54.3,186.1L54.6,182.0L54.8,190.1L55.1,179.7L55.3,180.1L55.5,177.1L55.8,176.1L56.0,184.4L56.3,180.3L56.5,177.6L56.8,180.9L57.0,185.8L57.3,185.8L57.5,186.2L57.7,174.4L58.0,185.6L58.2,174.5L58.5,175.8L58.7,178.5L59.0,192.3L59.2,175.8L59.4,175.5L59.7,191.5L59.9,179.7L60.2,185.8L60.4,180.5L60.7,182.0L60.9,182.1L61.2,184.5L61.4,185.7L61.6,180.9L61.9,180.4L62.1,189.5L62.4,189.2L62.6,186.3L62.9,185.7L63.1,175.3L63.4,189.3L63.6,183.9L63.8,181.5L64.1,182.8L64.3,184.6L64.6,180.6L64.8,168.9L65.1,204.4L65.3,184.5L65.5,179.6L65.8,186.1L66.0,187.3L66.3,178.4L66.5,186.4L66.8,181.7L67.0,185.2L67.3,181.5L67.5,200.7L67.7,186.7L68.0,185.7L68.2,186.0L68.5,187.9L68.7,189.8L69.0,189.8L69.2,181.0L69.4,167.4L69.7,204.0L69.9,176.9L70.2,177.9L70.4,177.5L70.7,187.6L70.9,185.8L71.2,186.6L71.4,183.3L71.6,182.1L71.9,184.7L72.1,179.6L72.4,179.5L72.6,179.2L72.9,189.9L73.1,177.7L73.3,179.5L73.6,187.6L73.8,184.6L74.1,168.2L74.3,184.9L74.6,184.9L74.8,181.5L75.1,181.5L75.3,187.7L75.5,181.9L75.8,179.9L76.0,178.6L76.3,180.6L76.5,186.9L76.8,185.2L77.0,184.0L77.2,181.6L77.5,186.2L77.7,184.2L78.0,184.7L78.2,174.6L78.5,174.6L78.7,177.9L79.0,182.3L79.2,189.5L79.4,174.9L79.7,179.6L79.9,179.8L80.2,186.6L80.4,180.5L80.7,186.2L80.9,179.7L81.1,181.5L81.4,177.5L81.6,184.3L81.9,181.0L82.1,179.4L82.4,186.2L82.6,181.2L82.9,179.5L83.1,182.6L83.3,184.2L83.6,182.4L83.8,178.6L84.1,177.9L84.3,198.6L84.6,179.6L84.8,178.1L85.1,187.0L85.3,187.9L85.5,179.5L85.8,181.0L86.0,188.1L86.3,182.4L86.5,182.7L86.8,186.2L87.0,164.9L87.2,185.3L87.5,182.2L87.7,185.4L88.0,181.3L88.2,180.5L88.5,180.8L88.7,185.6L89.0,184.4L89.2,182.7L89.4,184.9L89.7,182.2L89.9,179.6L90.2,186.6L90.4,187.7L90.7,178.3L90.9,178.4L91.1,189.7L91.4,164.1L91.6,185.5L91.9,182.5L92.1,184.6L92.4,180.8L92.6,185.6L92.9,177.0L93.1,186.0L93.3,188.7L93.6,184.1L93.8,189.2L94.1,178.9L94.3,184.5L94.6,184.8L94.8,186.4L95.0,185.9L95.3,182.6L95.5,186.3L95.8,183.6L96.0,176.1L96.3,185.3L96.5,188.5L96.8,177.7L97.0,179.7L97.2,181.4L97.5,187.0L97.7,185.0L98.0,183.6L98.2,184.7L98.5,186.2L98.7,185.5L98.9,186.0L99.2,180.8L99.4,186.1L99.7,184.8L99.9,184.2L100.2,186.2L100.4,185.6L100.7,185.5L100.9,180.9L101.1,185.1L101.4,181.0L101.6,186.3L101.9,179.6L102.1,179.7L102.4,188.0L102.6,185.0L102.8,179.4L103.1,180.8L103.3,180.7L103.6,195.3L103.8,176.9L104.1,177.1L104.3,188.1L104.6,184.2L104.8,179.8L105.0,183.6L105.3,183.8L105.5,181.1L105.8,185.8L106.0,176.9L106.3,190.5L106.5,189.8L106.7,185.7L107.0,187.6L107.2,182.5L107.5,185.9L107.7,181.6L108.0,182.5L108.2,180.3L108.5,185.0L108.7,185.7L108.9,182.6L109.2,184.9L109.4,183.5L109.7,185.6L109.9,182.1L110.2,180.7L110.4,176.6L110.7,176.1L110.9,181.1L111.1,182.5L111.4,178.3L111.6,179.7L111.9,186.1L112.1,184.0L112.4,186.2L112.6,182.1L112.8,170.3L113.1,183.7L113.3,175.8L113.6,176.9L113.8,188.5L114.1,180.7L114.3,183.7L114.6,177.8L114.8,179.7L115.0,180.3L115.3,186.5L115.5,180.0L115.8,185.7L116.0,184.6L116.3,185.4L116.5,178.2L116.7,187.6L117.0,187.9L117.2,176.3L117.5,189.3L117.7,185.4L118.0,184.4L118.2,186.2L118.5,185.8L118.7,187.2L118.9,179.5L119.2,186.1L119.4,181.1L119.7,185.0L119.9,188.0L120.2,186.0L120.4,179.3L120.6,184.6L120.9,188.2L121.1,177.2L121.4,180.6L121.6,180.5L121.9,177.7L122.1,180.2L122.4,180.5L122.6,183.9L122.8,184.7L123.1,183.3L123.3,181.1L123.6,182.8L123.8,184.2L124.1,182.0L124.3,181.7L124.5,179.7L124.8,181.8L125.0,184.3L125.3,179.3L125.5,180.7L125.8,183.9L126.0,183.6L126.3,178.9L126.5,179.5L126.7,186.7L127.0,180.2L127.2,184.4L127.5,184.1L127.7,184.9L128.0,181.6L128.2,186.0L128.4,185.8L128.7,185.7L128.9,182.1L129.2,186.5L129.4,185.5L129.7,179.4L129.9,183.4L130.2,172.8L130.4,180.3L130.6,187.2L130.9,183.6L131.1,182.6L131.4,180.2L131.6,180.0L131.9,186.1L132.1,180.1L132.3,181.5L132.6,182.3L132.8,180.3L133.1,183.9L133.3,181.6L133.6,180.7L133.8,178.8L134.1,181.8L134.3,181.8L134.5,178.4L134.8,187.0L135.0,179.8L135.3,178.6L135.5,188.1L135.8,178.2L136.0,188.0L136.3,188.7L136.5,183.7L136.7,178.0L137.0,177.9L137.2,181.5L137.5,179.1L137.7,186.3L138.0,180.9L138.2,187.2L138.4,186.4L138.7,177.9L138.9,178.2L139.2,179.7L139.4,183.6L139.7,180.2L139.9,185.5L140.2,182.8L140.4,182.0L140.6,186.3L140.9,180.5L141.1,184.6L141.4,180.3L141.6,180.3L141.9,181.0L142.1,180.8L142.3,184.5L142.6,187.2L142.8,185.1L143.1,184.7L143.3,178.0L143.6,178.9L143.8,178.8L144.1,179.9L144.3,178.8L144.5,183.9L144.8,177.7L145.0,177.0L145.3,184.7L145.5,179.5L145.8,180.8L146.0,181.4L146.2,182.6L146.5,179.2L146.7,184.6L147.0,187.4L147.2,188.1L147.5,179.1L147.7,182.2L148.0,186.4L148.2,185.4L148.4,181.5L148.7,180.8L148.9,186.2L149.2,181.7L149.4,181.9L149.7,180.5L149.9,184.7L150.1,185.0L150.4,181.4L150.6,183.9L150.9,185.2L151.1,183.6L151.4,180.8L151.6,184.3L151.9,185.2L152.1,181.0L152.3,185.9L152.6,185.8L152.8,185.3L153.1,181.3L153.3,184.0L153.6,184.6L153.8,185.4L154.0,184.4L154.3,186.5L154.5,179.4L154.8,186.7L155.0,180.2L155.3,182.6L155.5,187.2L155.8,185.3L156.0,184.4L156.2,184.3L156.5,184.7L156.7,181.7L157.0,185.9L157.2,188.4L157.5,182.1L157.7,186.0L158.0,180.2L158.2,186.3L158.4,180.1L158.7,177.9L158.9,185.6L159.2,186.6L159.4,179.3L159.7,187.9L159.9,182.4L160.1,179.5L160.4,185.1L160.6,180.5L160.9,184.2L161.1,179.7L161.4,180.4L161.6,188.5L161.9,178.1L162.1,187.4L162.3,178.0L162.6,184.9L162.8,188.9L163.1,178.8L163.3,181.1L163.6,185.8L163.8,178.7L164.0,186.2L164.3,185.5L164.5,181.2L164.8,180.0L165.0,184.2L165.3,176.4L165.5,181.5L165.8,178.7L166.0,191.7L166.2,174.6L166.5,191.7L166.7,178.2L167.0,179.7L167.2,188.8L167.5,175.8L167.7,177.4L167.9,183.7L168.2,175.8L168.4,185.1L168.7,219.4L168.9,180.7L169.2,185.7L169.4,183.9L169.7,180.9L169.9,185.8L170.1,183.9L170.4,186.8L170.6,178.8L170.9,181.5L171.1,186.5L171.4,182.1L171.6,187.0L171.8,184.1L172.1,178.6L172.3,180.6L172.6,184.8L172.8,180.7L173.1,177.7L173.3,187.5L173.6,177.1L173.8,187.1L174.0,180.6L174.3,188.4L174.5,183.3L174.8,177.3L175.0,169.1L175.3,179.6L175.5,183.6L175.7,188.6L176.0,183.5L176.2,186.2L176.5,177.6L176.7,179.3L177.0,178.4L177.2,181.6L177.5,177.5L177.7,177.5L177.9,183.9L178.2,181.1L178.4,186.3L178.7,184.7L178.9,189.1L179.2,179.2L179.4,185.9L179.6,184.4L179.9,185.1L180.1,177.6L180.4,186.7L180.6,181.1L180.9,204.4L181.1,185.8L181.4,179.7L181.6,182.4L181.8,184.5L182.1,165.8L182.3,186.5L182.6,186.7L182.8,180.2L183.1,181.1L183.3,180.6L183.6,181.2L183.8,188.0L184.0,180.5L184.3,187.1L184.5,177.9L184.8,178.0L185.0,179.7L185.3,183.8L185.5,181.6L185.7,186.1L186.0,180.1L186.2,181.1L186.5,185.6L186.7,182.8L187.0,186.9L187.2,180.9L187.5,177.4L187.7,186.1L187.9,187.8L188.2,187.5L188.4,183.2L188.7,178.7L188.9,187.8L189.2,183.1L189.4,185.0L189.6,179.4L189.9,180.4L190.1,180.7L190.4,182.6L190.6,182.2L190.9,188.2L191.1,183.8L191.4,186.4L191.6,185.0L191.8,181.5L192.1,179.0L192.3,181.1L192.6,185.4L192.8,179.9L193.1,182.3L193.3,185.9L193.5,181.5L193.8,179.6L194.0,181.9L194.3,179.9L194.5,179.8L194.8,179.7L195.0,186.6L195.3,186.6L195.5,189.1L195.7,174.0L196.0,162.8L196.2,175.1L196.5,181.2L196.7,191.9L197.0,186.3L197.2,183.7L197.4,181.7L197.7,181.0L197.9,179.2L198.2,189.1L198.4,184.8L198.7,176.7L198.9,182.3L199.2,179.6L199.4,177.5L199.6,182.7L199.9,178.7L200.1,186.9L200.4,180.0L200.6,185.6L200.9,169.1L201.1,185.4L201.3,180.1L201.6,178.7L201.8,178.6L202.1,186.5L202.3,177.2L202.6,190.7L202.8,185.2L203.1,186.4L203.3,175.8L203.5,181.3L203.8,178.5L204.0,184.9L204.3,186.4L204.5,187.7L204.8,186.9L205.0,185.0L205.2,180.3L205.5,184.0L205.7,179.6L206.0,181.3L206.2,185.8L206.5,183.4L206.7,183.1L207.0,186.6L207.2,182.8L207.4,178.7L207.7,181.4L207.9,179.5L208.2,178.6L208.4,189.7L208.7,180.2L208.9,185.2L209.2,177.4L209.4,180.9L209.6,185.4L209.9,186.8L210.1,187.2L210.4,180.6L210.6,178.9L210.9,184.3L211.1,185.4L211.3,186.0L211.6,181.0L211.8,185.7L212.1,182.4L212.3,182.5L212.6,184.8L212.8,179.2L213.1,183.9L213.3,183.7L213.5,179.7L213.8,179.8L214.0,184.2L214.3,185.4L214.5,180.6L214.8,182.5L215.0,180.9L215.2,179.1L215.5,180.5L215.7,185.6L216.0,183.5L216.2,180.1L216.5,185.1L216.7,180.6L217.0,182.1L217.2,184.3L217.4,181.7L217.7,185.1L217.9,184.4L218.2,184.5L218.4,184.5L218.7,185.9L218.9,185.9L219.1,178.0L219.4,185.1L219.6,185.3L219.9,180.0L220.1,183.3L220.4,183.1L220.6,181.3L220.9,184.8L221.1,182.8L221.3,185.2L221.6,185.3L221.8,185.4L222.1,184.4L222.3,184.7L222.6,184.8L222.8,179.2L223.0,182.2L223.3,184.2L223.5,182.7L223.8,180.0L224.0,180.8L224.3,183.4L224.5,187.4L224.8,188.1L225.0,188.7L225.2,178.1L225.5,187.2L225.7,179.7L226.0,178.1L226.2,181.7L226.5,179.1L226.7,179.3L226.9,178.4L227.2,180.1L227.4,184.7L227.7,186.0L227.9,182.3L228.2,185.8L228.4,177.3L228.7,188.4L228.9,184.3L229.1,183.6L229.4,182.7L229.6,182.5L229.9,181.5L230.1,184.0L230.4,180.3L230.6,184.9L230.9,185.0L231.1,180.0L231.3,186.1L231.6,179.4L231.8,181.9L232.1,182.5L232.3,184.2L232.6,181.9L232.8,181.2L233.0,181.9L233.3,179.3L233.5,181.7L233.8,184.8L234.0,183.7L234.3,184.5L234.5,180.8L234.8,177.1L235.0,178.3L235.2,187.2L235.5,183.1L235.7,177.7L236.0,176.9L236.2,180.1L236.5,185.7L236.7,184.7L236.9,181.3L237.2,186.1L237.4,181.3L237.7,188.3L237.9,187.1L238.2,180.1L238.4,177.9L238.7,188.3L238.9,188.1L239.1,182.6L239.4,182.7L239.6,181.7L239.9,181.8L240.1,182.1L240.4,182.3L240.6,180.5L240.8,180.3L241.1,180.8L241.3,185.4L241.6,182.2L241.8,184.4L242.1,181.0L242.3,177.4L242.6,179.1L242.8,177.8L243.0,185.1L243.3,181.5L243.5,185.6L243.8,186.2L244.0,181.3L244.3,185.2L244.5,180.3L244.7,184.5L245.0,185.8L245.2,179.7L245.5,185.5L245.7,180.0L246.0,185.8L246.2,183.7L246.5,180.1L246.7,180.2L246.9,181.1L247.2,179.8L247.4,180.5L247.7,180.5L247.9,184.1L248.2,181.1L248.4,178.1L248.6,187.0L248.9,179.8L249.1,184.6L249.4,182.2L249.6,186.1L249.9,181.8L250.1,180.5L250.4,183.4L250.6,179.7L250.8,182.2L251.1,184.6L251.3,181.4L251.6,180.5L251.8,181.0L252.1,185.8L252.3,184.3L252.5,180.5L252.8,180.5L253.0,185.7L253.3,185.2L253.5,184.2L253.8,186.1L254.0,181.4L254.3,179.7L254.5,187.3L254.7,179.5L255.0,187.0L255.2,179.6L255.5,184.5L255.7,184.0L256.0,185.1L256.2,184.6L256.5,178.8L256.7,184.5L256.9,181.5L257.2,181.2L257.4,184.5L257.7,182.7L257.9,185.7L258.2,179.7L258.4,183.9L258.6,182.3L258.9,186.9L259.1,180.4L259.4,181.0L259.6,179.4L259.9,181.8L260.1,178.9L260.4,179.0L260.6,181.2L260.8,183.7L261.1,179.0L261.3,180.2L261.6,182.2L261.8,180.3L262.1,178.3L262.3,181.7L262.5,185.1L262.8,180.6L263.0,181.2L263.3,186.1L263.5,177.9L263.8,187.1L264.0,183.2L264.3,180.9L264.5,179.5L264.7,183.1L265.0,181.2L265.2,187.3L265.5,187.2L265.7,185.9L266.0,179.0L266.2,185.6L266.4,186.4L266.7,181.8L266.9,194.0L267.2,185.2L267.4,181.4L267.7,186.5L267.9,182.0L268.2,185.4L268.4,184.9L268.6,184.2L268.9,185.2L269.1,180.3L269.4,183.7L269.6,184.7L269.9,182.3L270.1,184.8L270.3,184.2L270.6,181.2L270.8,184.3L271.1,184.9L271.3,185.5L271.6,180.7L271.8,185.7L272.1,180.7L272.3,182.5L272.5,183.7L272.8,186.0L273.0,180.4L273.3,184.1L273.5,180.3L273.8,180.3L274.0,180.7L274.2,172.4L274.5,178.0L274.7,183.9L275.0,180.0L275.2,186.7L275.5,178.8L275.7,186.0L276.0,180.1L276.2,186.5L276.4,180.2L276.7,180.7L276.9,185.7L277.2,187.2L277.4,178.7L277.7,183.4L277.9,182.7L278.1,185.1L278.4,180.4L278.6,187.3L278.9,179.5L279.1,180.3L279.4,185.9L279.6,180.9L279.9,181.4L280.1,182.2L280.3,183.6L280.6,181.7L280.8,185.4L281.1,182.6L281.3,180.9L281.6,180.3L281.8,182.8L282.1,185.7L282.3,182.4L282.5,181.6L282.8,181.6L283.0,182.2L283.3,182.0L283.5,181.6L283.8,181.8L284.0,184.2L284.2,184.0L284.5,177.8L284.7,188.8L285.0,180.6L285.2,180.4L285.5,181.1L285.7,179.4L286.0,182.1L286.2,184.5L286.4,181.0L286.7,181.3L286.9,186.1L287.2,185.0L287.4,184.8L287.7,184.2L287.9,183.6L288.1,182.3L288.4,182.8L288.6,183.3L288.9,186.7L289.1,186.3L289.4,181.8L289.6,179.6L289.9,181.5L290.1,183.9L290.3,182.1L290.6,183.1L290.8,180.7L291.1,184.4L291.3,181.4L291.6,182.2L291.8,182.7L292.0,183.7L292.3,185.4L292.5,184.4L292.8,184.6L293.0,184.0L293.3,182.4L293.5,183.1L293.8,184.8L294.0,183.7L294.2,184.3L294.5,181.1L294.7,181.6L295.0,183.0L295.2,181.9L295.5,181.5L295.7,185.4L295.9,185.2L296.2,182.8L296.4,179.3L296.7,183.4L296.9,186.8L297.2,179.4L297.4,187.3L297.7,182.2L297.9,185.9L298.1,180.2L298.4,183.3L298.6,184.3L298.9,180.9L299.1,184.2L299.4,180.6L299.6,181.0L299.8,184.5L300.1,183.6L300.3,181.3L300.6,182.1L300.8,184.5L301.1,184.1L301.3,185.9L301.6,179.8L301.8,185.4L302.0,182.3L302.3,183.8L302.5,181.2L302.8,183.7L303.0,182.6L303.3,183.1L303.5,185.1L303.7,180.6L304.0,183.9L304.2,183.3L304.5,183.8L304.7,182.0L305.0,178.7L305.2,181.1L305.5,182.3L305.7,178.2L305.9,179.2L306.2,186.3L306.4,186.8L306.7,182.9L306.9,187.0L307.2,188.5L307.4,179.8L307.7,186.8L307.9,183.5L308.1,182.8L308.4,183.9L308.6,181.4L308.9,182.6L309.1,181.6L309.4,181.4L309.6,183.4L309.8,182.1L310.1,182.1L310.3,181.1L310.6,182.5L310.8,184.6L311.1,180.5L311.3,180.8L311.6,185.4L311.8,183.0L312.0,181.7L312.3,179.8L312.5,186.4L312.8,180.1L313.0,185.4L313.3,184.6L313.5,187.3L313.7,184.1L314.0,181.4L314.2,180.5L314.5,184.1L314.7,184.8L315.0,182.1L315.2,187.6L315.5,179.1L315.7,183.2L315.9,179.3L316.2,179.2L316.4,181.4L316.7,182.1L316.9,181.1L317.2,182.1L317.4,181.2L317.6,180.6L317.9,184.0L318.1,184.8L318.4,184.7L318.6,185.3L318.9,185.1L319.1,184.4L319.4,183.3L319.6,180.8L319.8,182.4L320.1,182.7L320.3,180.8L320.6,182.3L320.8,183.4L321.1,184.0L321.3,184.4L321.5,184.2L321.8,182.9L322.0,182.9L322.3,184.3L322.5,183.8L322.8,181.1L323.0,181.1L323.3,181.4L323.5,185.1L323.7,182.1L324.0,179.5L324.2,179.3L324.5,183.9L324.7,179.6L325.0,185.3L325.2,185.1L325.4,182.4L325.7,180.1L325.9,180.7L326.2,184.6L326.4,182.6L326.7,179.9L326.9,183.5L327.2,186.5L327.4,186.6L327.6,181.3L327.9,183.1L328.1,181.7L328.4,184.6L328.6,184.2L328.9,183.4L329.1,180.2L329.4,186.3L329.6,182.8L329.8,182.0L330.1,181.4L330.3,183.7L330.6,184.4L330.8,181.8L331.1,181.2L331.3,181.9L331.5,185.3L331.8,179.5L332.0,180.7L332.3,180.0L332.5,183.1L332.8,180.2L333.0,180.9L333.3,183.9L333.5,184.8L333.7,184.7L334.0,184.4L334.2,179.6L334.5,185.9L334.7,180.0L335.0,181.1L335.2,179.1L335.4,179.0L335.7,187.0L335.9,187.1L336.2,187.4L336.4,185.3L336.7,182.4L336.9,186.9L337.2,186.7L337.4,180.2L337.6,184.6L337.9,181.0L338.1,181.2L338.4,185.1L338.6,184.8L338.9,183.3L339.1,186.0L339.3,184.5L339.6,184.0L339.8,183.2L340.1,187.9L340.3,179.7L340.6,178.0L340.8,177.0L341.1,182.1L341.3,187.5L341.5,181.6L341.8,183.7L342.0,181.7L342.3,184.8L342.5,182.1L342.8,184.9L343.0,181.0L343.2,181.2L343.5,184.6L343.7,181.6L344.0,180.5L344.2,186.0L344.5,182.3L344.7,182.3L345.0,180.0L345.2,183.6L345.4,185.5L345.7,180.4L345.9,185.1L346.2,181.6L346.4,178.7L346.7,185.1L346.9,179.8L347.1,179.7L347.4,176.5L347.6,188.7L347.9,179.5L348.1,165.8L348.4,179.7L348.6,177.5L348.9,184.3L349.1,186.3L349.3,185.3L349.6,184.5L349.8,179.9L350.1,184.7L350.3,186.0L350.6,188.7L350.8,177.7L351.0,176.8L351.3,185.9L351.5,184.6L351.8,184.8L352.0,183.5L352.3,185.0L352.5,186.4L352.8,182.0L353.0,185.0L353.2,188.8L353.5,181.4L353.7,186.5L354.0,190.5L354.2,170.7L354.5,180.3L354.7,184.4L355.0,182.7L355.2,186.3L355.4,193.2L355.7,185.2L355.9,186.7L356.2,188.5L356.4,186.8L356.7,189.5L356.9,178.5L357.1,188.7L357.4,188.0L357.6,181.2L357.9,181.3L358.1,181.8L358.4,181.3L358.6,181.4L358.9,180.4L359.1,180.8L359.3,185.5L359.6,185.4L359.8,187.6L360.1,184.3L360.3,185.9L360.6,183.1L360.8,182.3L361.0,186.9L361.3,184.9L361.5,180.6L361.8,181.2L362.0,188.7L362.3,177.4L362.5,175.5L362.8,185.7L363.0,188.6L363.2,185.2L363.5,185.9L363.7,179.6L364.0,181.5L364.2,184.1L364.5,180.9L364.7,180.8L364.9,180.6L365.2,177.4L365.4,180.9L365.7,184.1L365.9,177.5L366.2,188.1L366.4,177.4L366.7,181.5L366.9,177.7L367.1,190.3L367.4,188.5L367.6,183.9L367.9,184.8L368.1,185.5L368.4,180.4L368.6,181.1L368.8,187.7L369.1,185.1L369.3,181.6L369.6,179.2L369.8,186.0L370.1,185.1L370.3,179.6L370.6,182.0L370.8,180.1L371.0,179.3L371.3,178.6L371.5,165.8L371.8,182.3L372.0,186.0L372.3,184.8L372.5,182.1L372.7,184.1L373.0,181.9L373.2,182.3L373.5,183.6L373.7,186.5L374.0,187.3L374.2,186.6L374.5,187.8L374.7,181.5L374.9,180.1L375.2,177.8L375.4,177.3L375.7,181.3L375.9,187.6L376.2,178.5L376.4,182.6L376.6,184.6L376.9,181.5L377.1,180.5L377.4,184.2L377.6,178.7L377.9,187.3L378.1,181.0L378.4,180.6L378.6,181.0L378.8,184.9L379.1,185.2L379.3,180.3L379.6,181.1L379.8,187.4L380.1,187.5L380.3,181.7L380.6,184.9L380.8,184.7L381.0,186.6L381.3,187.0L381.5,181.7L381.8,177.7L382.0,187.6L382.3,181.8L382.5,186.0L382.7,177.7L383.0,177.7L383.2,177.6L383.5,187.1L383.7,186.2L384.0,184.5L384.2,184.3L384.5,182.8L384.7,181.4L384.9,182.4L385.2,180.4L385.4,181.3L385.7,184.3L385.9,183.9L386.2,179.8L386.4,179.8L386.6,180.7L386.9,183.0L387.1,185.4L387.4,181.1L387.6,181.5L387.9,185.6L388.1,180.9L388.4,181.4L388.6,184.6L388.8,180.9L389.1,181.6L389.3,183.1L389.6,184.9L389.8,182.5L390.1,183.7L390.3,184.0L390.5,180.8L390.8,181.3L391.0,184.9L391.3,185.1L391.5,184.0L391.8,181.3L392.0,185.2L392.3,184.6L392.5,184.8L392.7,181.5L393.0,185.0L393.2,183.1L393.5,184.7L393.7,184.8L394.0,183.4L394.2,186.0L394.4,179.6L394.7,184.6L394.9,182.5L395.2,185.3L395.4,185.0L395.7,187.3L395.9,186.7L396.2,184.6L396.4,178.2L396.6,186.2L396.9,188.1L397.1,187.5L397.4,181.7L397.6,181.9L397.9,178.2L398.1,185.5L398.3,178.2L398.6,186.5L398.8,178.8L399.1,186.1L399.3,186.8L399.6,179.1L399.8,179.9L400.1,182.4L400.3,185.6L400.5,184.7L400.8,180.9L401.0,185.3L401.3,180.3L401.5,194.0L401.8,188.5L402.0,188.7L402.3,178.5L402.5,177.7L402.7,184.5L403.0,187.6L403.2,186.6L403.5,177.9L403.7,179.6L404.0,182.6L404.2,179.1L404.4,185.9L404.7,186.3L404.9,183.7L405.2,179.9L405.4,181.1L405.7,181.4L405.9,184.2L406.2,181.9L406.4,185.3L406.6,183.3L406.9,186.0L407.1,182.8L407.4,184.6L407.6,184.5L407.9,184.0L408.1,185.9L408.3,180.4L408.6,182.2L408.8,180.4L409.1,186.3L409.3,184.0L409.6,181.6L409.8,180.3L410.1,186.1L410.3,184.9L410.5,182.2L410.8,184.2L411.0,183.3L411.3,181.9L411.5,181.3L411.8,180.1L412.0,186.0L412.2,183.2L412.5,186.0L412.7,183.5L413.0,183.3L413.2,184.4L413.5,185.2L413.7,183.4L414.0,185.3L414.2,183.2L414.4,181.2L414.7,178.0L414.9,186.3L415.2,186.3L415.4,184.2L415.7,186.9L415.9,187.0L416.1,185.1L416.4,180.4L416.6,185.2L416.9,185.4L417.1,179.0L417.4,179.8L417.6,181.7L417.9,181.5L418.1,182.4L418.3,183.2L418.6,184.6L418.8,184.8L419.1,177.5L419.3,178.3L419.6,177.6L419.8,187.0L420.0,179.6L420.3,188.6L420.5,186.0L420.8,179.6L421.0,185.2L421.3,184.8L421.5,186.8L421.8,186.1L422.0,180.3L422.2,179.7L422.5,179.4L422.7,179.9L423.0,185.5L423.2,183.9L423.5,184.6L423.7,181.6L423.9,181.4L424.2,182.3L424.4,183.9L424.7,184.6L424.9,181.2L425.2,185.0L425.4,185.1L425.7,185.0L425.9,184.7L426.1,183.6L426.4,187.2L426.6,180.6L426.9,185.6L427.1,180.1L427.4,185.0L427.6,185.2L427.9,182.2L428.1,186.7L428.3,185.5L428.6,181.7L428.8,185.6L429.1,182.6L429.3,183.0L429.6,182.3L429.8,186.0L430.0,184.1L430.3,181.1L430.5,181.8L430.8,183.0L431.0,187.0L431.3,179.0L431.5,183.8L431.8,181.5L432.0,186.4L432.2,181.8L432.5,183.3L432.7,180.9L433.0,182.0L433.2,183.3L433.5,184.6L433.7,178.7L433.9,181.0L434.2,186.0L434.4,178.3L434.7,177.5L434.9,187.2L435.2,179.3L435.4,182.0L435.7,185.8L435.9,186.9L436.1,180.6L436.4,187.2L436.6,178.2L436.9,187.6L437.1,181.2L437.4,185.7L437.6,179.3L437.8,185.7L438.1,185.1L438.3,184.9L438.6,180.6L438.8,180.7L439.1,183.5L439.3,181.9L439.6,181.1L439.8,186.7L440.0,180.1L440.3,183.9L440.5,184.9L440.8,181.0L441.0,180.7L441.3,180.5L441.5,183.4L441.7,185.1L442.0,181.1L442.2,184.7L442.5,184.1L442.7,179.0L443.0,185.4L443.2,186.5L443.5,188.4L443.7,185.8L443.9,181.2L444.2,177.7L444.4,187.9L444.7,185.6L444.9,183.9L445.2,178.1L445.4,180.5L445.6,182.0L445.9,182.5L446.1,172.8L446.4,185.8L446.6,185.2L446.9,178.8L447.1,185.5L447.4,186.5L447.6,181.6L447.8,182.2L448.1,183.4L448.3,186.3L448.6,188.3L448.8,181.6L449.1,180.7L449.3,185.5L449.5,186.7L449.8,183.9L450.0,184.9L450.3,180.8L450.5,182.4L450.8,182.1L451.0,184.2L451.3,179.9L451.5,182.3L451.7,179.7L452.0,184.3L452.2,182.1L452.5,185.1L452.7,184.8L453.0,184.9L453.2,185.9L453.5,184.0L453.7,181.6L453.9,185.9L454.2,182.7L454.4,183.6L454.7,184.5L454.9,186.2L455.2,186.1L455.4,184.7L455.6,181.1L455.9,181.1L456.1,182.9L456.4,185.2L456.6,184.5L456.9,183.6L457.1,184.4L457.4,181.2L457.6,181.8L457.8,183.9L458.1,184.9L458.3,182.8L458.6,183.9L458.8,181.7L459.1,182.6L459.3,181.8L459.5,184.7L459.8,183.6L460.0,185.3L460.3,185.2L460.5,181.6L460.8,182.0L461.0,186.9L461.3,184.6L461.5,184.7L461.7,180.0L462.0,179.5L462.2,185.7L462.5,186.2L462.7,180.4L463.0,186.4L463.2,178.9L463.4,185.2L463.7,182.6L463.9,184.7L464.2,186.5L464.4,180.2L464.7,186.9L464.9,182.4L465.2,180.6L465.4,180.9L465.6,179.9L465.9,183.2L466.1,187.3L466.4,187.7L466.6,178.5L466.9,185.7L467.1,184.7L467.3,179.8L467.6,179.7L467.8,186.9L468.1,186.4L468.3,179.7L468.6,180.4L468.8,179.2L469.1,185.8L469.3,185.1L469.5,184.8L469.8,185.6L470.0,186.0L470.3,182.6L470.5,179.4L470.8,180.4L471.0,178.9L471.2,181.0L471.5,186.6L471.7,185.7L472.0,182.1L472.2,184.1L472.5,182.2L472.7,180.2L473.0,184.0L473.2,187.0L473.4,179.1L473.7,185.6L473.9,186.8L474.2,181.5L474.4,186.8L474.7,183.2L474.9,184.6L475.2,185.9L475.4,182.0L475.6,179.3L475.9,179.5L476.1,188.2L476.4,182.3L476.6,188.3L476.9,177.7L477.1,178.5L477.3,186.6L477.6,181.1L477.8,184.2L478.1,183.9L478.3,180.9L478.6,184.5L478.8,185.1L479.1,179.6L479.3,184.4L479.5,186.7L479.8,181.8L480.0,180.2L480.3,186.7L480.5,184.6L480.8,180.0L481.0,187.3L481.2,182.4L481.5,182.1L481.7,179.9L482.0,180.0L482.2,184.1L482.5,179.5L482.7,186.3L483.0,182.8L483.2,184.1L483.4,182.5L483.7,185.5L483.9,185.4L484.2,184.5L484.4,186.3L484.7,184.8L484.9,183.3L485.1,181.9L485.4,182.4L485.6,181.9L485.9,184.7L486.1,183.5L486.4,182.0L486.6,181.3L486.9,181.5L487.1,181.2L487.3,182.6L487.6,183.4L487.8,184.4L488.1,180.0L488.3,181.6L488.6,181.3L488.8,186.2L489.0,181.4L489.3,181.7L489.5,179.8L489.8,182.5L490.0,179.6L490.3,184.6L490.5,182.5L490.8,184.3L491.0,184.9L491.2,182.9L491.5,182.5L491.7,184.8L492.0,180.9L492.2,179.0L492.5,185.3L492.7,179.4L492.9,186.3L493.2,179.7L493.4,185.7L493.7,181.1L493.9,184.4L494.2,181.5L494.4,184.4L494.7,181.3L494.9,181.0L495.1,187.0L495.4,177.9L495.6,185.5L495.9,178.1L496.1,187.7L496.4,178.6L496.6,187.3L496.8,185.4L497.1,184.1L497.3,186.5L497.6,186.5L497.8,187.1L498.1,180.5L498.3,185.0L498.6,185.9L498.8,183.7"/>
<path d="M22.8,16.80H81.8" stroke="#00CC99" stroke-width="2.25" fill="none"/>
<path d="M22.8,58.35H81.8" stroke="#FFCC33" stroke-width="3.60" fill="none"/>
<text class="l" transform="translate(87.40,21.60)">BTC/USD FX Rate</text>
<text class="l" transform="translate(87.40,63.15)">Gold Price in USD</text>
<path d="M-4.3,16.80H0M-4.3,99.90H0M-4.3,183.00H0M-4.3,266.10H0M-4.3,349.20H0" stroke="#222" stroke-width="1.7" fill="none"/>
<path d="M87.20,365.3v3.6M214.20,365.3v3.6M341.20,365.3v3.6M468.20,365.3v3.6" stroke="#333" stroke-width="0.9" fill="none"/>
<text class="t" text-anchor="end" transform="translate(-5.80,22.40)">40</text>
<text class="t" text-anchor="end" transform="translate(-5.80,105.50)">20</text>
<text class="t" text-anchor="end" transform="translate(-5.80,188.60)">0</text>
<text class="t" text-anchor="end" transform="translate(-5.80,271.70)">−20</text>
<text class="t" text-anchor="end" transform="translate(-5.80,354.80)">−40</text>
<text class="t" text-anchor="middle" transform="translate(87.20,382.60) scale(1.0200,1)" style="font-size:16.00px">2012</text>
<text class="t" text-anchor="middle" transform="translate(214.20,382.60) scale(1.0200,1)" style="font-size:16.00px">2014</text>
<text class="t" text-anchor="middle" transform="translate(341.20,382.60) scale(1.0200,1)" style="font-size:16.00px">2016</text>
<text class="t" text-anchor="middle" transform="translate(468.20,382.60) scale(1.0200,1)" style="font-size:16.00px">2018</text>
<text class="a" text-anchor="middle" transform="translate(261.00,401.50) scale(0.9600,1)">Date</text>
<text class="a" text-anchor="middle" transform="translate(-37.80,182.25) rotate(-90) scale(0.9800,1)">Daily return in %</text>
</g>
<g transform="translate(62.2,415.0)">
<rect x="0" y="0" width="522.0" height="365.3" fill="#EBEBEB"/>
<path class="g" stroke-width="1.10" d="M0,58.35H522.0M0,141.45H522.0M0,224.55H522.0M0,307.65H522.0M23.70,0V365.3M150.70,0V365.3M277.70,0V365.3M404.70,0V365.3"/>
<path class="g" stroke-width="2.10" d="M0,16.80H522.0M0,99.90H522.0M0,183.00H522.0M0,266.10H522.0M0,349.20H522.0M87.20,0V365.3M214.20,0V365.3M341.20,0V365.3M468.20,0V365.3"/>
<use href="#btc" class="s" stroke="#00CC99" stroke-width="2.25"/>
<path class="s" stroke="#CC3300" stroke-width="2.90" d="M35.8,180.0L36.0,185.9L36.3,179.6L36.5,178.6L36.8,178.5L37.0,183.8L37.3,181.1L37.5,179.2L37.8,180.7L38.0,179.7L38.2,188.7L38.5,186.0L38.7,185.9L39.0,180.5L39.2,184.2L39.5,181.5L39.7,184.9L39.9,184.3L40.2,190.1L40.4,185.8L40.7,176.4L40.9,187.7L41.2,186.3L41.4,176.7L41.7,186.7L41.9,186.5L42.1,181.6L42.4,179.9L42.6,186.8L42.9,180.7L43.1,179.4L43.4,187.5L43.6,180.9L43.8,182.7L44.1,183.5L44.3,178.3L44.6,190.2L44.8,187.3L45.1,179.2L45.3,186.3L45.6,186.9L45.8,179.5L46.0,179.5L46.3,185.4L46.5,183.6L46.8,185.3L47.0,184.4L47.3,181.8L47.5,182.1L47.7,184.3L48.0,182.3L48.2,182.7L48.5,184.2L48.7,184.2L49.0,186.1L49.2,186.9L49.5,178.5L49.7,180.6L49.9,186.2L50.2,181.8L50.4,181.7L50.7,188.7L50.9,178.2L51.2,184.8L51.4,188.0L51.6,187.5L51.9,183.2L52.1,180.5L52.4,178.3L52.6,179.1L52.9,183.0L53.1,187.0L53.4,176.9L53.6,185.6L53.8,187.5L54.1,177.4L54.3,188.5L54.6,187.3L54.8,181.5L55.1,181.9L55.3,178.3L55.5,183.9L55.8,187.0L56.0,179.9L56.3,187.9L56.5,188.2L56.8,184.5L57.0,186.0L57.3,176.2L57.5,188.6L57.7,177.6L58.0,179.8L58.2,188.9L58.5,189.2L58.7,176.2L59.0,187.9L59.2,187.6L59.4,185.9L59.7,180.9L59.9,182.1L60.2,180.4L60.4,178.0L60.7,186.9L60.9,187.5L61.2,177.6L61.4,187.6L61.6,179.6L61.9,197.8L62.1,185.8L62.4,186.7L62.6,180.5L62.9,186.0L63.1,186.4L63.4,185.7L63.6,186.3L63.8,188.9L64.1,186.6L64.3,180.3L64.6,179.2L64.8,171.6L65.1,180.7L65.3,176.8L65.5,181.9L65.8,185.5L66.0,190.0L66.3,177.8L66.5,180.7L66.8,185.8L67.0,185.3L67.3,180.6L67.5,182.3L67.7,184.3L68.0,187.3L68.2,187.7L68.5,181.9L68.7,180.1L69.0,177.9L69.2,179.7L69.4,183.8L69.7,181.7L69.9,184.9L70.2,182.2L70.4,181.8L70.7,185.0L70.9,183.9L71.2,185.3L71.4,184.7L71.6,184.9L71.9,184.5L72.1,185.4L72.4,181.6L72.6,185.6L72.9,182.3L73.1,185.0L73.3,182.9L73.6,184.5L73.8,185.4L74.1,182.8L74.3,188.4L74.6,188.3L74.8,178.0L75.1,185.1L75.3,185.4L75.5,180.7L75.8,180.2L76.0,180.6L76.3,181.3L76.5,185.8L76.8,176.8L77.0,181.2L77.2,176.9L77.5,181.5L77.7,190.0L78.0,175.9L78.2,185.6L78.5,181.4L78.7,184.4L79.0,185.4L79.2,185.6L79.4,181.5L79.7,184.9L79.9,181.8L80.2,179.6L80.4,185.5L80.7,186.1L80.9,184.2L81.1,181.6L81.4,180.4L81.6,185.1L81.9,194.4L82.1,184.6L82.4,184.9L82.6,185.4L82.9,179.7L83.1,187.2L83.3,179.1L83.6,179.3L83.8,180.7L84.1,185.0L84.3,185.9L84.6,179.6L84.8,186.5L85.1,183.4L85.3,184.5L85.5,186.4L85.8,178.7L86.0,185.9L86.3,180.6L86.5,179.3L86.8,181.0L87.0,187.4L87.2,179.2L87.5,186.7L87.7,177.7L88.0,188.0L88.2,180.8L88.5,181.5L88.7,183.4L89.0,186.5L89.2,185.8L89.4,180.4L89.7,166.6L89.9,179.8L90.2,181.0L90.4,185.2L90.7,180.8L90.9,184.8L91.1,184.9L91.4,181.2L91.6,181.6L91.9,184.6L92.1,185.2L92.4,185.5L92.6,183.2L92.9,179.3L93.1,185.3L93.3,181.6L93.6,186.6L93.8,185.3L94.1,180.5L94.3,182.9L94.6,177.3L94.8,177.8L95.0,186.6L95.3,189.8L95.5,180.2L95.8,177.3L96.0,177.5L96.3,190.0L96.5,188.5L96.8,188.1L97.0,186.8L97.2,185.4L97.5,187.5L97.7,184.9L98.0,178.7L98.2,187.1L98.5,179.7L98.7,186.5L98.9,186.4L99.2,183.9L99.4,179.4L99.7,185.5L99.9,179.5L100.2,189.5L100.4,177.2L100.7,181.5L100.9,178.0L101.1,183.6L101.4,187.1L101.6,179.0L101.9,185.3L102.1,180.0L102.4,178.0L102.6,178.4L102.8,182.7L103.1,185.3L103.3,180.5L103.6,186.6L103.8,179.8L104.1,182.2L104.3,186.7L104.6,182.6L104.8,183.2L105.0,185.7L105.3,181.6L105.5,187.0L105.8,185.5L106.0,182.6L106.3,185.6L106.5,185.3L106.7,183.8L107.0,186.4L107.2,185.5L107.5,185.8L107.7,180.8L108.0,182.9L108.2,184.8L108.5,180.9L108.7,185.4L108.9,179.4L109.2,183.7L109.4,182.1L109.7,185.2L109.9,185.7L110.2,185.5L110.4,184.5L110.7,182.1L110.9,186.7L111.1,184.3L111.4,184.6L111.6,181.6L111.9,179.0L112.1,179.8L112.4,178.0L112.6,184.3L112.8,186.3L113.1,178.5L113.3,180.1L113.6,179.5L113.8,185.7L114.1,183.5L114.3,184.9L114.6,183.7L114.8,181.5L115.0,181.5L115.3,182.0L115.5,184.1L115.8,184.7L116.0,183.3L116.3,179.9L116.5,186.7L116.7,188.0L117.0,187.4L117.2,187.2L117.5,183.7L117.7,185.8L118.0,176.7L118.2,187.8L118.5,185.4L118.7,189.9L118.9,189.5L119.2,180.8L119.4,181.5L119.7,185.5L119.9,181.1L120.2,183.9L120.4,185.2L120.6,177.6L120.9,187.5L121.1,187.3L121.4,178.7L121.6,179.9L121.9,188.0L122.1,181.8L122.4,183.8L122.6,180.1L122.8,181.8L123.1,181.5L123.3,183.4L123.6,188.3L123.8,184.8L124.1,185.7L124.3,182.1L124.5,183.5L124.8,178.6L125.0,188.5L125.3,189.4L125.5,183.7L125.8,188.8L126.0,179.1L126.3,187.7L126.5,187.3L126.7,180.7L127.0,178.3L127.2,179.7L127.5,182.1L127.7,184.5L128.0,179.2L128.2,181.7L128.4,179.6L128.7,186.0L128.9,180.4L129.2,180.8L129.4,185.7L129.7,179.8L129.9,179.4L130.2,185.3L130.4,185.5L130.6,186.3L130.9,168.2L131.1,180.3L131.4,181.4L131.6,186.1L131.9,179.4L132.1,184.7L132.3,183.6L132.6,185.1L132.8,182.6L133.1,181.4L133.3,180.9L133.6,178.3L133.8,179.1L134.1,180.1L134.3,179.6L134.5,184.7L134.8,184.9L135.0,179.6L135.3,180.2L135.5,184.1L135.8,184.9L136.0,184.8L136.3,181.6L136.5,181.5L136.7,179.6L137.0,183.7L137.2,180.6L137.5,178.8L137.7,186.8L138.0,188.2L138.2,181.5L138.4,184.1L138.7,181.1L138.9,181.8L139.2,183.4L139.4,184.9L139.7,180.7L139.9,184.4L140.2,182.2L140.4,179.4L140.6,182.0L140.9,182.6L141.1,186.2L141.4,180.6L141.6,175.9L141.9,181.5L142.1,177.4L142.3,177.3L142.6,179.1L142.8,185.1L143.1,185.9L143.3,184.9L143.6,186.9L143.8,185.6L144.1,181.8L144.3,180.8L144.5,181.2L144.8,179.5L145.0,180.7L145.3,179.7L145.5,186.1L145.8,185.6L146.0,185.2L146.2,180.4L146.5,184.6L146.7,185.1L147.0,185.8L147.2,183.2L147.5,185.6L147.7,165.8L148.0,184.8L148.2,181.8L148.4,181.0L148.7,182.3L148.9,185.8L149.2,184.9L149.4,184.4L149.7,180.9L149.9,185.1L150.1,179.9L150.4,182.8L150.6,180.7L150.9,183.6L151.1,179.9L151.4,182.4L151.6,184.4L151.9,180.9L152.1,181.6L152.3,181.6L152.6,184.6L152.8,184.0L153.1,183.6L153.3,182.6L153.6,184.2L153.8,182.1L154.0,183.3L154.3,180.3L154.5,181.0L154.8,178.5L155.0,184.6L155.3,186.8L155.5,179.4L155.8,185.5L156.0,183.6L156.2,183.4L156.5,184.9L156.7,179.9L157.0,180.3L157.2,180.0L157.5,180.0L157.7,181.9L158.0,187.1L158.2,187.6L158.4,179.4L158.7,188.5L158.9,182.7L159.2,178.0L159.4,178.9L159.7,188.9L159.9,187.0L160.1,185.6L160.4,188.8L160.6,181.6L160.9,196.5L161.1,189.0L161.4,188.6L161.6,182.8L161.9,184.0L162.1,186.5L162.3,180.1L162.6,189.6L162.8,188.8L163.1,176.6L163.3,185.8L163.6,187.5L163.8,187.6L164.0,176.6L164.3,184.0L164.5,182.3L164.8,185.8L165.0,185.6L165.3,181.7L165.5,180.3L165.8,182.5L166.0,190.1L166.2,183.5L166.5,185.2L166.7,178.7L167.0,177.9L167.2,184.0L167.5,185.0L167.7,180.1L167.9,176.6L168.2,186.2L168.4,180.7L168.7,178.2L168.9,178.6L169.2,186.5L169.4,182.7L169.7,185.4L169.9,179.1L170.1,180.2L170.4,180.5L170.6,180.7L170.9,184.8L171.1,182.2L171.4,185.5L171.6,180.9L171.8,185.1L172.1,179.9L172.3,179.9L172.6,184.5L172.8,181.1L173.1,178.7L173.3,182.2L173.6,183.7L173.8,180.2L174.0,180.1L174.3,178.6L174.5,184.4L174.8,181.4L175.0,179.8L175.3,182.1L175.5,185.2L175.7,186.6L176.0,181.1L176.2,180.3L176.5,182.0L176.7,181.0L177.0,180.2L177.2,184.6L177.5,186.2L177.7,187.7L177.9,182.1L178.2,183.5L178.4,186.7L178.7,176.2L178.9,176.4L179.2,186.7L179.4,186.1L179.6,180.5L179.9,186.4L180.1,179.5L180.4,178.6L180.6,184.6L180.9,203.6L181.1,182.9L181.4,179.1L181.6,180.8L181.8,186.1L182.1,177.3L182.3,187.6L182.6,188.0L182.8,181.2L183.1,180.6L183.3,188.6L183.6,185.9L183.8,185.3L184.0,183.8L184.3,183.2L184.5,181.0L184.8,180.2L185.0,186.9L185.3,183.6L185.5,183.9L185.7,189.9L186.0,186.9L186.2,189.5L186.5,182.3L186.7,184.9L187.0,179.3L187.2,179.7L187.5,182.1L187.7,179.2L187.9,185.3L188.2,188.5L188.4,185.3L188.7,180.6L188.9,185.5L189.2,178.2L189.4,183.9L189.6,181.2L189.9,184.9L190.1,184.7L190.4,185.1L190.6,181.7L190.9,180.8L191.1,180.5L191.4,179.2L191.6,183.2L191.8,181.2L192.1,183.8L192.3,187.1L192.6,180.1L192.8,186.7L193.1,179.8L193.3,177.0L193.5,179.9L193.8,187.0L194.0,185.8L194.3,178.7L194.5,180.2L194.8,170.3L195.0,180.7L195.3,183.5L195.5,186.0L195.7,183.0L196.0,186.7L196.2,178.9L196.5,186.7L196.7,185.0L197.0,185.4L197.2,184.9L197.4,186.0L197.7,185.6L197.9,186.6L198.2,178.2L198.4,187.4L198.7,187.2L198.9,181.0L199.2,184.7L199.4,179.5L199.6,182.6L199.9,184.9L200.1,184.6L200.4,184.5L200.6,184.6L200.9,183.0L201.1,186.7L201.3,180.8L201.6,178.9L201.8,187.2L202.1,181.5L202.3,177.0L202.6,189.5L202.8,189.8L203.1,184.8L203.3,186.9L203.5,187.3L203.8,187.2L204.0,180.2L204.3,189.5L204.5,182.3L204.8,176.4L205.0,184.4L205.2,188.7L205.5,180.8L205.7,182.7L206.0,184.4L206.2,184.6L206.5,184.3L206.7,184.0L207.0,187.8L207.2,181.2L207.4,179.6L207.7,179.3L207.9,179.9L208.2,188.0L208.4,181.8L208.7,189.7L208.9,177.1L209.2,183.5L209.4,178.0L209.6,186.5L209.9,180.9L210.1,179.2L210.4,184.9L210.6,185.1L210.9,181.8L211.1,187.3L211.3,181.8L211.6,184.1L211.8,179.6L212.1,186.2L212.3,186.3L212.6,181.6L212.8,184.9L213.1,181.8L213.3,183.2L213.5,184.0L213.8,183.3L214.0,185.2L214.3,185.3L214.5,182.7L214.8,180.8L215.0,185.2L215.2,183.4L215.5,180.4L215.7,177.2L216.0,180.7L216.2,181.3L216.5,182.7L216.7,184.5L217.0,179.8L217.2,184.8L217.4,181.0L217.7,181.3L217.9,183.6L218.2,181.2L218.4,185.0L218.7,181.0L218.9,181.6L219.1,184.9L219.4,181.3L219.6,184.2L219.9,184.1L220.1,188.1L220.4,177.9L220.6,179.3L220.9,188.0L221.1,180.2L221.3,184.0L221.6,183.4L221.8,184.9L222.1,181.9L222.3,182.3L222.6,181.9L222.8,185.4L223.0,185.0L223.3,182.0L223.5,181.6L223.8,178.9L224.0,179.3L224.3,184.9L224.5,187.2L224.8,182.1L225.0,184.6L225.2,180.1L225.5,184.1L225.7,182.3L226.0,185.3L226.2,177.6L226.5,178.8L226.7,177.3L226.9,186.4L227.2,179.0L227.4,186.0L227.7,184.9L227.9,182.8L228.2,179.8L228.4,180.3L228.7,180.8L228.9,180.0L229.1,187.3L229.4,183.6L229.6,185.8L229.9,178.8L230.1,180.3L230.4,182.6L230.6,182.1L230.9,183.9L231.1,180.8L231.3,181.6L231.6,182.2L231.8,188.7L232.1,187.3L232.3,185.6L232.6,185.9L232.8,189.0L233.0,176.3L233.3,184.2L233.5,181.6L233.8,179.3L234.0,183.5L234.3,185.0L234.5,179.0L234.8,177.1L235.0,178.3L235.2,177.2L235.5,183.4L235.7,177.3L236.0,176.9L236.2,183.8L236.5,185.4L236.7,184.9L236.9,183.0L237.2,179.7L237.4,185.5L237.7,178.7L237.9,187.1L238.2,178.8L238.4,186.2L238.7,184.3L238.9,187.1L239.1,185.0L239.4,178.9L239.6,185.9L239.9,178.5L240.1,184.3L240.4,179.0L240.6,182.2L240.8,182.6L241.1,178.1L241.3,187.6L241.6,180.4L241.8,181.0L242.1,188.9L242.3,188.3L242.6,180.1L242.8,187.3L243.0,184.6L243.3,177.5L243.5,184.3L243.8,178.8L244.0,186.3L244.3,181.7L244.5,186.0L244.7,184.4L245.0,181.5L245.2,185.5L245.5,181.0L245.7,186.8L246.0,181.9L246.2,181.3L246.5,184.7L246.7,186.4L246.9,182.8L247.2,186.7L247.4,185.8L247.7,187.2L247.9,181.5L248.2,181.4L248.4,187.0L248.6,185.0L248.9,176.4L249.1,178.2L249.4,185.8L249.6,181.4L249.9,186.6L250.1,181.6L250.4,177.2L250.6,173.7L250.8,190.9L251.1,186.8L251.3,175.9L251.6,174.8L251.8,179.2L252.1,182.5L252.3,191.5L252.5,187.6L252.8,182.0L253.0,182.4L253.3,186.2L253.5,191.8L253.8,180.6L254.0,185.9L254.3,185.1L254.5,180.6L254.7,186.1L255.0,184.0L255.2,175.3L255.5,172.4L255.7,177.4L256.0,193.9L256.2,191.5L256.5,174.6L256.7,188.4L256.9,173.7L257.2,173.8L257.4,175.1L257.7,189.3L257.9,181.8L258.2,175.8L258.4,186.6L258.6,175.9L258.9,189.9L259.1,187.2L259.4,188.7L259.6,188.5L259.9,181.4L260.1,178.0L260.4,186.1L260.6,188.3L260.8,178.9L261.1,186.1L261.3,183.2L261.6,185.8L261.8,185.7L262.1,185.4L262.3,180.7L262.5,178.6L262.8,178.0L263.0,187.0L263.3,188.2L263.5,178.1L263.8,187.1L264.0,181.0L264.3,192.0L264.5,179.8L264.7,189.0L265.0,192.3L265.2,190.6L265.5,176.8L265.7,176.3L266.0,184.3L266.2,191.2L266.4,179.2L266.7,173.2L266.9,178.6L267.2,175.2L267.4,173.3L267.7,191.6L267.9,185.5L268.2,172.2L268.4,181.4L268.6,188.1L268.9,181.7L269.1,180.0L269.4,176.7L269.6,175.6L269.9,178.4L270.1,181.0L270.3,190.2L270.6,188.8L270.8,174.1L271.1,189.9L271.3,179.5L271.6,178.0L271.8,174.1L272.1,182.8L272.3,195.8L272.5,195.0L272.8,177.4L273.0,177.3L273.3,189.7L273.5,184.3L273.8,189.5L274.0,184.7L274.2,185.3L274.5,187.8L274.7,185.0L275.0,174.8L275.2,194.6L275.5,173.9L275.7,180.6L276.0,193.2L276.2,183.3L276.4,178.2L276.7,181.6L276.9,179.0L277.2,180.5L277.4,191.3L277.7,180.5L277.9,176.3L278.1,176.0L278.4,196.0L278.6,190.0L278.9,191.8L279.1,186.6L279.4,179.5L279.6,174.3L279.9,177.6L280.1,185.0L280.3,177.2L280.6,190.8L280.8,213.5L281.1,178.2L281.3,188.0L281.6,181.0L281.8,171.5L282.1,194.6L282.3,193.0L282.5,178.0L282.8,174.6L283.0,177.8L283.3,185.7L283.5,180.6L283.8,183.7L284.0,178.4L284.2,184.3L284.5,180.2L284.7,177.9L285.0,177.4L285.2,183.5L285.5,189.4L285.7,180.7L286.0,177.0L286.2,180.2L286.4,189.4L286.7,179.1L286.9,177.4L287.2,187.7L287.4,180.4L287.7,186.4L287.9,176.4L288.1,191.2L288.4,181.8L288.6,187.5L288.9,176.4L289.1,189.5L289.4,186.9L289.6,183.2L289.9,188.4L290.1,184.5L290.3,191.3L290.6,176.8L290.8,173.5L291.1,192.2L291.3,174.0L291.6,176.4L291.8,186.7L292.0,178.3L292.3,175.6L292.5,176.2L292.8,184.7L293.0,181.5L293.3,185.5L293.5,187.8L293.8,184.7L294.0,184.6L294.2,186.6L294.5,182.0L294.7,175.0L295.0,191.2L295.2,187.3L295.5,173.2L295.7,174.3L295.9,174.8L296.2,189.0L296.4,173.6L296.7,188.5L296.9,187.1L297.2,171.5L297.4,171.8L297.7,179.1L297.9,173.7L298.1,196.6L298.4,168.1L298.6,192.1L298.9,196.6L299.1,175.5L299.4,176.3L299.6,192.6L299.8,184.4L300.1,189.1L300.3,173.6L300.6,180.7L300.8,185.5L301.1,182.1L301.3,179.6L301.6,189.7L301.8,177.4L302.0,167.0L302.3,165.9L302.5,200.5L302.8,208.6L303.0,198.9L303.3,170.3L303.5,198.7L303.7,195.6L304.0,163.4L304.2,174.7L304.5,200.3L304.7,167.0L305.0,189.7L305.2,189.6L305.5,187.3L305.7,193.3L305.9,171.9L306.2,180.6L306.4,175.8L306.7,195.0L306.9,200.0L307.2,195.3L307.4,192.0L307.7,191.7L307.9,189.1L308.1,181.1L308.4,193.7L308.6,175.7L308.9,212.7L309.1,183.9L309.4,172.0L309.6,194.1L309.8,159.5L310.1,175.8L310.3,190.2L310.6,198.8L310.8,175.5L311.1,189.0L311.3,197.1L311.6,196.4L311.8,171.5L312.0,178.8L312.3,179.4L312.5,187.0L312.8,171.7L313.0,172.3L313.3,172.9L313.5,191.3L313.7,216.5L314.0,179.8L314.2,174.4L314.5,182.4L314.7,191.4L315.0,178.2L315.2,176.7L315.5,191.1L315.7,199.2L315.9,191.2L316.2,197.6L316.4,194.2L316.7,185.1L316.9,190.7L317.2,190.6L317.4,181.2L317.6,189.3L317.9,175.9L318.1,175.8L318.4,180.0L318.6,178.5L318.9,161.6L319.1,216.5L319.4,184.5L319.6,185.0L319.8,187.0L320.1,188.4L320.3,180.8L320.6,186.1L320.8,188.2L321.1,177.2L321.3,185.5L321.5,177.0L321.8,187.3L322.0,169.4L322.3,170.6L322.5,201.0L322.8,197.6L323.0,184.1L323.3,176.0L323.5,195.1L323.7,197.5L324.0,190.8L324.2,191.3L324.5,180.3L324.7,191.4L325.0,193.7L325.2,172.6L325.4,191.9L325.7,174.4L325.9,191.5L326.2,172.3L326.4,181.7L326.7,196.2L326.9,173.2L327.2,186.5L327.4,197.0L327.6,167.7L327.9,176.3L328.1,176.2L328.4,189.8L328.6,178.6L328.9,195.0L329.1,180.5L329.4,187.0L329.6,193.8L329.8,187.7L330.1,175.1L330.3,188.6L330.6,179.2L330.8,194.1L331.1,196.2L331.3,180.2L331.5,180.0L331.8,187.6L332.0,187.3L332.3,177.8L332.5,181.2L332.8,192.6L333.0,192.3L333.3,186.6L333.5,185.9L333.7,181.1L334.0,182.0L334.2,189.6L334.5,170.6L334.7,191.1L335.0,179.8L335.2,197.5L335.4,192.7L335.7,173.5L335.9,171.1L336.2,180.3L336.4,174.6L336.7,189.0L336.9,178.2L337.2,196.4L337.4,188.7L337.6,177.2L337.9,170.0L338.1,170.4L338.4,169.9L338.6,190.2L338.9,181.9L339.1,185.4L339.3,174.6L339.6,168.7L339.8,192.8L340.1,179.7L340.3,182.9L340.6,176.2L340.8,193.8L341.1,181.4L341.3,176.0L341.5,186.5L341.8,180.8L342.0,179.4L342.3,186.6L342.5,186.0L342.8,210.6L343.0,185.4L343.2,187.2L343.5,187.5L343.7,188.3L344.0,183.6L344.2,179.0L344.5,193.4L344.7,172.2L345.0,173.5L345.2,181.6L345.4,193.6L345.7,170.9L345.9,170.0L346.2,189.9L346.4,185.2L346.7,190.8L346.9,194.2L347.1,174.1L347.4,190.1L347.6,173.6L347.9,175.1L348.1,177.9L348.4,191.9L348.6,185.6L348.9,182.5L349.1,186.6L349.3,185.6L349.6,183.2L349.8,179.2L350.1,179.0L350.3,177.9L350.6,178.7L350.8,165.3L351.0,207.7L351.3,190.8L351.5,179.7L351.8,173.2L352.0,184.9L352.3,190.1L352.5,184.5L352.8,186.1L353.0,188.5L353.2,174.0L353.5,173.4L353.7,189.7L354.0,189.2L354.2,184.1L354.5,187.0L354.7,195.3L355.0,176.4L355.2,188.1L355.4,192.7L355.7,180.3L355.9,188.9L356.2,181.6L356.4,181.5L356.7,181.4L356.9,183.3L357.1,182.0L357.4,184.2L357.6,192.9L357.9,176.8L358.1,192.7L358.4,178.3L358.6,192.1L358.9,182.2L359.1,172.9L359.3,177.0L359.6,189.6L359.8,192.3L360.1,176.7L360.3,172.8L360.6,176.2L360.8,191.0L361.0,189.4L361.3,179.2L361.5,173.3L361.8,175.6L362.0,185.9L362.3,182.3L362.5,180.2L362.8,184.8L363.0,175.0L363.2,174.6L363.5,184.1L363.7,178.6L364.0,183.6L364.2,181.8L364.5,187.6L364.7,180.6L364.9,187.8L365.2,184.7L365.4,188.4L365.7,180.5L365.9,184.2L366.2,184.6L366.4,177.4L366.7,190.7L366.9,174.2L367.1,177.9L367.4,192.6L367.6,189.1L367.9,191.2L368.1,179.8L368.4,185.5L368.6,178.4L368.8,191.3L369.1,189.1L369.3,189.3L369.6,191.7L369.8,190.8L370.1,178.9L370.3,188.9L370.6,190.4L370.8,179.6L371.0,187.4L371.3,177.4L371.5,176.2L371.8,189.0L372.0,177.9L372.3,177.5L372.5,184.6L372.7,180.5L373.0,178.7L373.2,176.8L373.5,177.1L373.7,175.8L374.0,189.4L374.2,190.4L374.5,175.6L374.7,175.8L374.9,180.6L375.2,178.3L375.4,191.5L375.7,184.8L375.9,186.1L376.2,188.1L376.4,180.6L376.6,173.8L376.9,179.8L377.1,191.8L377.4,191.5L377.6,191.2L377.9,184.7L378.1,178.9L378.4,180.9L378.6,189.5L378.8,191.8L379.1,186.7L379.3,179.9L379.6,184.1L379.8,180.8L380.1,183.3L380.3,180.0L380.6,180.2L380.8,181.6L381.0,180.0L381.3,185.6L381.5,177.3L381.8,183.5L382.0,188.4L382.3,188.6L382.5,188.3L382.7,186.1L383.0,184.0L383.2,186.1L383.5,185.7L383.7,180.9L384.0,182.1L384.2,181.4L384.5,183.2L384.7,184.6L384.9,180.5L385.2,184.8L385.4,185.6L385.7,178.7L385.9,179.2L386.2,181.2L386.4,179.6L386.6,186.5L386.9,185.0L387.1,183.7L387.4,185.0L387.6,181.4L387.9,180.8L388.1,184.1L388.4,182.3L388.6,185.1L388.8,181.3L389.1,177.9L389.3,178.1L389.6,186.9L389.8,180.8L390.1,179.3L390.3,185.4L390.5,182.2L390.8,181.4L391.0,186.9L391.3,181.8L391.5,186.6L391.8,186.5L392.0,179.9L392.3,181.3L392.5,184.1L392.7,180.7L393.0,183.1L393.2,184.3L393.5,181.2L393.7,184.7L394.0,184.0L394.2,180.8L394.4,182.1L394.7,184.9L394.9,181.9L395.2,181.3L395.4,181.4L395.7,186.1L395.9,182.3L396.2,184.0L396.4,185.2L396.6,187.0L396.9,187.2L397.1,182.7L397.4,184.1L397.6,182.2L397.9,182.3L398.1,182.0L398.3,182.1L398.6,182.4L398.8,180.7L399.1,181.8L399.3,183.7L399.6,185.0L399.8,185.7L400.1,184.0L400.3,182.1L400.5,181.7L400.8,179.4L401.0,180.0L401.3,184.3L401.5,183.3L401.8,184.0L402.0,182.2L402.3,182.9L402.5,182.4L402.7,184.0L403.0,180.6L403.2,185.5L403.5,181.9L403.7,181.7L404.0,180.3L404.2,180.4L404.4,182.1L404.7,183.8L404.9,181.6L405.2,182.5L405.4,180.9L405.7,180.7L405.9,180.1L406.2,178.7L406.4,186.5L406.6,182.5L406.9,180.3L407.1,180.3L407.4,181.3L407.6,184.3L407.9,184.8L408.1,181.5L408.3,184.4L408.6,183.9L408.8,181.9L409.1,183.8L409.3,182.5L409.6,181.5L409.8,182.5L410.1,181.7L410.3,184.9L410.5,185.8L410.8,180.4L411.0,184.4L411.3,185.8L411.5,184.7L411.8,186.5L412.0,180.4L412.2,187.4L412.5,188.1L412.7,181.5L413.0,179.9L413.2,180.8L413.5,184.4L413.7,184.4L414.0,184.2L414.2,180.5L414.4,184.5L414.7,179.9L414.9,180.2L415.2,185.6L415.4,184.5L415.7,182.5L415.9,181.6L416.1,184.0L416.4,186.2L416.6,182.6L416.9,180.0L417.1,182.2L417.4,183.4L417.6,183.7L417.9,182.2L418.1,184.9L418.3,185.1L418.6,181.7L418.8,181.5L419.1,180.2L419.3,186.0L419.6,183.9L419.8,185.8L420.0,180.8L420.3,184.9L420.5,182.6L420.8,181.5L421.0,181.2L421.3,183.3L421.5,185.9L421.8,182.1L422.0,185.5L422.2,186.6L422.5,180.5L422.7,181.0L423.0,181.1L423.2,181.0L423.5,179.6L423.7,180.8L423.9,181.9L424.2,184.9L424.4,181.7L424.7,185.6L424.9,185.6L425.2,181.2L425.4,186.1L425.7,184.5L425.9,185.2L426.1,185.4L426.4,181.9L426.6,181.7L426.9,182.7L427.1,182.2L427.4,182.0L427.6,181.8L427.9,177.9L428.1,186.2L428.3,187.9L428.6,186.7L428.8,187.3L429.1,187.5L429.3,180.4L429.6,182.8L429.8,181.0L430.0,185.5L430.3,183.8L430.5,186.0L430.8,184.0L431.0,184.2L431.3,181.7L431.5,180.6L431.8,183.6L432.0,180.2L432.2,180.1L432.5,186.0L432.7,185.1L433.0,180.3L433.2,183.6L433.5,185.0L433.7,186.3L433.9,182.9L434.2,181.1L434.4,186.3L434.7,181.2L434.9,181.5L435.2,179.8L435.4,184.9L435.7,186.1L435.9,183.4L436.1,180.2L436.4,185.0L436.6,184.9L436.9,185.8L437.1,179.8L437.4,179.3L437.6,186.7L437.8,183.2L438.1,183.7L438.3,184.7L438.6,182.4L438.8,181.4L439.1,185.2L439.3,184.4L439.6,181.6L439.8,185.9L440.0,180.3L440.3,185.4L440.5,180.7L440.8,179.7L441.0,186.1L441.3,182.8L441.5,181.3L441.7,186.5L442.0,186.3L442.2,180.4L442.5,185.0L442.7,181.9L443.0,184.5L443.2,185.2L443.5,182.7L443.7,184.0L443.9,179.2L444.2,187.1L444.4,186.8L444.7,180.0L444.9,183.7L445.2,186.9L445.4,182.0L445.6,184.3L445.9,184.8L446.1,184.0L446.4,183.9L446.6,181.6L446.9,181.5L447.1,184.8L447.4,178.1L447.6,187.4L447.8,186.7L448.1,185.1L448.3,181.6L448.6,183.5L448.8,184.5L449.1,182.1L449.3,182.4L449.5,182.9L449.8,180.2L450.0,180.8L450.3,179.4L450.5,178.4L450.8,185.1L451.0,187.7L451.3,183.2L451.5,182.0L451.7,181.2L452.0,181.9L452.2,183.5L452.5,180.9L452.7,179.1L453.0,178.8L453.2,184.6L453.5,179.7L453.7,181.2L453.9,186.1L454.2,187.7L454.4,181.4L454.7,186.8L454.9,182.9L455.2,178.7L455.4,178.2L455.6,181.8L455.9,182.4L456.1,183.4L456.4,183.7L456.6,184.2L456.9,183.7L457.1,180.9L457.4,182.4L457.6,185.0L457.8,179.9L458.1,180.4L458.3,180.5L458.6,180.7L458.8,182.6L459.1,179.9L459.3,181.6L459.5,180.6L459.8,185.5L460.0,181.9L460.3,183.8L460.5,184.0L460.8,184.1L461.0,184.7L461.3,182.2L461.5,185.4L461.7,180.4L462.0,181.2L462.2,181.2L462.5,180.5L462.7,180.6L463.0,185.8L463.2,182.5L463.4,178.6L463.7,186.0L463.9,188.0L464.2,183.8L464.4,184.1L464.7,184.6L464.9,181.1L465.2,184.4L465.4,181.5L465.6,181.5L465.9,181.1L466.1,184.9L466.4,181.6L466.6,181.7L466.9,181.9L467.1,183.1L467.3,182.5L467.6,184.1L467.8,183.7L468.1,181.2L468.3,181.2L468.6,182.3L468.8,184.9L469.1,183.4L469.3,184.6L469.5,181.5L469.8,184.3L470.0,184.7L470.3,179.9L470.5,185.0L470.8,183.3L471.0,180.2L471.2,180.8L471.5,182.3L471.7,180.4L472.0,186.4L472.2,179.3L472.5,186.4L472.7,180.5L473.0,178.2L473.2,184.8L473.4,181.5L473.7,182.0L473.9,182.4L474.2,181.7L474.4,184.0L474.7,179.8L474.9,197.8L475.2,179.9L475.4,187.1L475.6,186.2L475.9,179.1L476.1,181.0L476.4,184.9L476.6,182.2L476.9,176.1L477.1,182.5L477.3,180.0L477.6,182.0L477.8,183.7L478.1,183.9L478.3,182.6L478.6,182.4L478.8,184.0L479.1,179.4L479.3,185.0L479.5,185.5L479.8,183.1L480.0,184.8L480.3,185.6L480.5,181.8L480.8,181.8L481.0,182.7L481.2,181.2L481.5,184.3L481.7,181.4L482.0,183.5L482.2,182.4L482.5,181.9L482.7,195.7L483.0,183.8L483.2,182.8L483.4,182.2L483.7,181.1L483.9,184.1L484.2,184.4L484.4,181.4L484.7,184.0L484.9,181.8L485.1,184.7L485.4,182.2L485.6,183.5L485.9,181.3L486.1,185.1L486.4,183.3L486.6,184.9L486.9,184.4L487.1,184.5L487.3,180.9L487.6,182.2L487.8,176.6L488.1,186.2L488.3,180.2L488.6,185.2L488.8,179.3L489.0,186.6L489.3,182.6L489.5,184.3L489.8,186.0L490.0,187.1L490.3,185.9L490.5,187.4L490.8,184.1L491.0,181.4L491.2,181.9L491.5,181.3L491.7,181.3L492.0,184.2L492.2,185.7L492.5,184.0L492.7,180.9L492.9,179.0L493.2,178.7L493.4,187.3L493.7,184.0L493.9,184.6L494.2,184.0L494.4,183.3L494.7,180.9L494.9,183.4L495.1,184.5L495.4,183.4L495.6,183.4L495.9,183.7L496.1,183.4L496.4,183.7L496.6,179.1L496.8,184.6L497.1,182.1L497.3,182.9L497.6,184.5L497.8,197.8L498.1,185.5L498.3,186.0L498.6,184.9L498.8,180.3"/>
<path d="M22.8,16.80H81.8" stroke="#00CC99" stroke-width="2.25" fill="none"/>
<path d="M22.8,58.35H81.8" stroke="#CC3300" stroke-width="3.60" fill="none"/>
<text class="l" transform="translate(87.40,21.60)">BTC/USD FX Rate</text>
<text class="l" transform="translate(87.40,63.15)">Shanghai Composite index</text>
<path d="M-4.3,16.80H0M-4.3,99.90H0M-4.3,183.00H0M-4.3,266.10H0M-4.3,349.20H0" stroke="#222" stroke-width="1.7" fill="none"/>
<path d="M87.20,365.3v3.6M214.20,365.3v3.6M341.20,365.3v3.6M468.20,365.3v3.6" stroke="#333" stroke-width="0.9" fill="none"/>
<text class="t" text-anchor="end" transform="translate(-5.80,22.40)">40</text>
<text class="t" text-anchor="end" transform="translate(-5.80,105.50)">20</text>
<text class="t" text-anchor="end" transform="translate(-5.80,188.60)">0</text>
<text class="t" text-anchor="end" transform="translate(-5.80,271.70)">−20</text>
<text class="t" text-anchor="end" transform="translate(-5.80,354.80)">−40</text>
<text class="t" text-anchor="middle" transform="translate(87.20,382.60) scale(1.0200,1)" style="font-size:16.00px">2012</text>
<text class="t" text-anchor="middle" transform="translate(214.20,382.60) scale(1.0200,1)" style="font-size:16.00px">2014</text>
<text class="t" text-anchor="middle" transform="translate(341.20,382.60) scale(1.0200,1)" style="font-size:16.00px">2016</text>
<text class="t" text-anchor="middle" transform="translate(468.20,382.60) scale(1.0200,1)" style="font-size:16.00px">2018</text>
<text class="a" text-anchor="middle" transform="translate(261.00,401.50) scale(0.9600,1)">Date</text>
<text class="a" text-anchor="middle" transform="translate(-37.80,182.25) rotate(-90) scale(0.9800,1)">Daily return in %</text>
</g>
<g transform="translate(679.2,415.0)">
<rect x="0" y="0" width="522.0" height="365.3" fill="#EBEBEB"/>
<path class="g" stroke-width="1.10" d="M0,58.35H522.0M0,141.45H522.0M0,224.55H522.0M0,307.65H522.0M23.70,0V365.3M150.70,0V365.3M277.70,0V365.3M404.70,0V365.3"/>
<path class="g" stroke-width="2.10" d="M0,16.80H522.0M0,99.90H522.0M0,183.00H522.0M0,266.10H522.0M0,349.20H522.0M87.20,0V365.3M214.20,0V365.3M341.20,0V365.3M468.20,0V365.3"/>
<use href="#btc" class="s" stroke="#00CC99" stroke-width="2.25"/>
<path class="s" stroke="#FF3399" stroke-width="2.90" d="M35.8,182.6L36.0,179.6L36.3,178.8L36.5,188.2L36.8,185.6L37.0,178.0L37.3,182.9L37.5,183.8L37.8,182.7L38.0,184.1L38.2,181.8L38.5,183.7L38.7,182.8L39.0,184.4L39.2,182.4L39.5,183.9L39.7,181.7L39.9,183.5L40.2,181.1L40.4,181.1L40.7,180.5L40.9,185.6L41.2,184.6L41.4,183.3L41.7,182.1L41.9,184.2L42.1,182.0L42.4,182.2L42.6,184.4L42.9,183.9L43.1,178.6L43.4,187.6L43.6,179.9L43.8,187.8L44.1,180.0L44.3,179.9L44.6,183.7L44.8,180.5L45.1,183.4L45.3,184.8L45.6,184.0L45.8,181.6L46.0,184.8L46.3,187.3L46.5,185.2L46.8,178.4L47.0,185.4L47.3,183.7L47.5,180.6L47.7,179.1L48.0,186.1L48.2,185.8L48.5,186.4L48.7,185.8L49.0,177.7L49.2,186.2L49.5,187.4L49.7,182.9L49.9,183.9L50.2,180.0L50.4,182.3L50.7,182.3L50.9,184.6L51.2,182.7L51.4,184.7L51.6,184.6L51.9,183.9L52.1,184.2L52.4,180.0L52.6,187.7L52.9,185.9L53.1,186.9L53.4,182.9L53.6,182.4L53.8,182.2L54.1,184.4L54.3,183.6L54.6,183.3L54.8,184.6L55.1,182.6L55.3,184.1L55.5,184.7L55.8,181.3L56.0,184.6L56.3,181.0L56.5,182.9L56.8,186.1L57.0,182.6L57.3,183.8L57.5,182.4L57.7,179.6L58.0,179.2L58.2,181.4L58.5,184.5L58.7,183.8L59.0,180.6L59.2,181.5L59.4,186.6L59.7,181.3L59.9,179.0L60.2,185.6L60.4,184.3L60.7,187.1L60.9,191.5L61.2,185.5L61.4,186.5L61.6,186.5L61.9,185.6L62.1,187.3L62.4,180.4L62.6,179.6L62.9,179.1L63.1,185.2L63.4,183.5L63.6,181.3L63.8,181.8L64.1,184.7L64.3,184.0L64.6,180.4L64.8,181.3L65.1,185.7L65.3,185.0L65.5,180.5L65.8,183.8L66.0,185.1L66.3,184.3L66.5,184.4L66.8,179.9L67.0,187.1L67.3,179.0L67.5,184.8L67.7,183.5L68.0,186.0L68.2,185.1L68.5,179.6L68.7,197.8L69.0,185.8L69.2,182.3L69.4,181.4L69.7,171.6L69.9,184.1L70.2,178.6L70.4,186.2L70.7,182.6L70.9,184.6L71.2,185.9L71.4,181.4L71.6,187.7L71.9,183.2L72.1,183.6L72.4,181.7L72.6,184.2L72.9,184.5L73.1,184.6L73.3,180.7L73.6,183.4L73.8,180.0L74.1,180.3L74.3,183.6L74.6,183.9L74.8,181.6L75.1,180.1L75.3,180.4L75.5,183.4L75.8,183.1L76.0,185.2L76.3,181.8L76.5,186.3L76.8,194.4L77.0,184.7L77.2,182.8L77.5,182.4L77.7,181.7L78.0,182.8L78.2,181.6L78.5,182.5L78.7,185.0L79.0,184.7L79.2,183.7L79.4,184.2L79.7,181.8L79.9,184.4L80.2,178.1L80.4,181.5L80.7,183.6L80.9,177.7L81.1,184.9L81.4,183.5L81.6,183.6L81.9,174.5L82.1,182.3L82.4,181.6L82.6,184.4L82.9,186.5L83.1,187.1L83.3,186.1L83.6,184.6L83.8,187.8L84.1,180.7L84.3,186.0L84.6,186.2L84.8,185.3L85.1,185.2L85.3,184.9L85.5,186.4L85.8,184.2L86.0,181.3L86.3,186.0L86.5,181.3L86.8,186.0L87.0,180.6L87.2,183.5L87.5,182.4L87.7,183.7L88.0,181.0L88.2,184.3L88.5,184.8L88.7,186.3L89.0,180.2L89.2,186.4L89.4,186.4L89.7,181.0L89.9,178.4L90.2,187.3L90.4,185.6L90.7,187.0L90.9,184.5L91.1,181.9L91.4,180.3L91.6,183.9L91.9,180.6L92.1,184.1L92.4,183.5L92.6,183.6L92.9,185.6L93.1,185.0L93.3,179.0L93.6,186.6L93.8,181.5L94.1,186.3L94.3,182.8L94.6,186.0L94.8,187.2L95.0,182.7L95.3,183.8L95.5,181.0L95.8,184.0L96.0,181.5L96.3,183.4L96.5,182.3L96.8,182.2L97.0,181.5L97.2,182.0L97.5,184.7L97.7,182.0L98.0,181.4L98.2,181.2L98.5,183.3L98.7,182.1L98.9,181.2L99.2,183.1L99.4,183.3L99.7,181.0L99.9,181.0L100.2,180.4L100.4,180.3L100.7,184.7L100.9,182.1L101.1,183.1L101.4,183.3L101.6,184.8L101.9,183.6L102.1,183.0L102.4,186.7L102.6,184.7L102.8,185.2L103.1,183.8L103.3,181.4L103.6,182.7L103.8,184.5L104.1,184.2L104.3,181.1L104.6,185.4L104.8,184.1L105.0,183.3L105.3,182.4L105.5,180.0L105.8,183.8L106.0,184.8L106.3,180.0L106.5,179.2L106.7,186.7L107.0,179.0L107.2,180.7L107.5,184.8L107.7,185.1L108.0,185.2L108.2,182.2L108.5,184.2L108.7,182.7L108.9,184.7L109.2,180.7L109.4,182.4L109.7,181.2L109.9,184.0L110.2,181.0L110.4,183.6L110.7,183.9L110.9,180.9L111.1,183.9L111.4,180.5L111.6,183.8L111.9,170.3L112.1,191.5L112.4,179.6L112.6,187.1L112.8,186.7L113.1,180.4L113.3,180.8L113.6,184.6L113.8,180.8L114.1,183.4L114.3,181.6L114.6,182.1L114.8,178.0L115.0,178.9L115.3,185.0L115.5,185.7L115.8,182.0L116.0,184.1L116.3,184.5L116.5,182.9L116.7,183.3L117.0,181.9L117.2,180.5L117.5,182.7L117.7,168.5L118.0,181.0L118.2,184.1L118.5,182.5L118.7,180.6L118.9,184.0L119.2,184.0L119.4,181.6L119.7,183.9L119.9,181.7L120.2,184.3L120.4,184.1L120.6,181.8L120.9,181.1L121.1,184.1L121.4,183.6L121.6,183.1L121.9,183.1L122.1,180.9L122.4,177.7L122.6,180.7L122.8,178.1L123.1,181.9L123.3,187.8L123.6,183.0L123.8,181.1L124.1,182.4L124.3,183.1L124.5,186.2L124.8,181.5L125.0,184.5L125.3,180.1L125.5,178.5L125.8,180.9L126.0,184.2L126.3,180.3L126.5,185.0L126.7,181.5L127.0,179.3L127.2,182.1L127.5,181.7L127.7,182.6L128.0,183.3L128.2,180.8L128.4,184.6L128.7,184.7L128.9,181.9L129.2,181.2L129.4,183.7L129.7,180.9L129.9,181.4L130.2,181.0L130.4,180.5L130.6,181.4L130.9,183.7L131.1,179.8L131.4,185.2L131.6,183.1L131.9,183.5L132.1,185.7L132.3,180.2L132.6,185.5L132.8,181.0L133.1,181.0L133.3,185.3L133.6,184.0L133.8,185.1L134.1,180.2L134.3,181.6L134.5,185.1L134.8,183.5L135.0,180.4L135.3,178.2L135.5,184.7L135.8,183.4L136.0,186.1L136.3,186.4L136.5,182.9L136.7,183.5L137.0,177.9L137.2,187.8L137.5,187.1L137.7,185.9L138.0,179.3L138.2,179.3L138.4,188.2L138.7,184.7L138.9,188.2L139.2,188.2L139.4,179.3L139.7,185.9L139.9,180.2L140.2,180.1L140.4,182.9L140.6,187.1L140.9,184.1L141.1,181.0L141.4,180.2L141.6,187.3L141.9,179.0L142.1,179.0L142.3,186.8L142.6,183.1L142.8,184.5L143.1,183.4L143.3,184.6L143.6,181.5L143.8,181.2L144.1,184.2L144.3,184.4L144.5,184.8L144.8,185.6L145.0,182.4L145.3,181.1L145.5,184.4L145.8,185.3L146.0,182.6L146.2,185.3L146.5,183.8L146.7,183.6L147.0,182.3L147.2,186.0L147.5,180.9L147.7,186.6L148.0,181.7L148.2,178.6L148.4,185.8L148.7,186.5L148.9,182.5L149.2,187.6L149.4,182.0L149.7,178.9L149.9,182.5L150.1,181.2L150.4,185.1L150.6,184.0L150.9,184.8L151.1,184.3L151.4,180.7L151.6,180.8L151.9,184.2L152.1,180.5L152.3,182.4L152.6,181.8L152.8,185.1L153.1,181.2L153.3,181.0L153.6,185.4L153.8,185.9L154.0,182.3L154.3,180.6L154.5,187.7L154.8,177.8L155.0,188.0L155.3,178.3L155.5,187.9L155.8,180.8L156.0,179.6L156.2,186.0L156.5,186.4L156.7,182.1L157.0,179.1L157.2,187.3L157.5,178.5L157.7,184.9L158.0,185.9L158.2,180.0L158.4,181.5L158.7,185.8L158.9,179.5L159.2,181.4L159.4,183.9L159.7,186.9L159.9,179.1L160.1,178.2L160.4,181.0L160.6,178.1L160.9,185.9L161.1,184.4L161.4,179.9L161.6,180.5L161.9,185.5L162.1,186.1L162.3,181.1L162.6,185.9L162.8,181.9L163.1,185.7L163.3,182.5L163.6,183.9L163.8,181.3L164.0,180.6L164.3,183.0L164.5,182.2L164.8,184.4L165.0,183.9L165.3,184.0L165.5,181.6L165.8,184.5L166.0,186.3L166.2,186.6L166.5,178.0L166.7,179.6L167.0,184.6L167.2,183.2L167.5,186.1L167.7,182.3L167.9,184.8L168.2,184.5L168.4,185.9L168.7,184.4L168.9,182.0L169.2,181.3L169.4,187.9L169.7,184.1L169.9,186.3L170.1,182.3L170.4,178.0L170.6,185.7L170.9,181.5L171.1,186.5L171.4,183.8L171.6,185.1L171.8,184.2L172.1,187.2L172.3,187.8L172.6,180.7L172.8,184.5L173.1,178.4L173.3,182.3L173.6,179.0L173.8,178.1L174.0,185.5L174.3,181.7L174.5,181.7L174.8,183.6L175.0,183.0L175.3,183.9L175.5,185.0L175.7,180.7L176.0,182.2L176.2,184.7L176.5,185.6L176.7,185.7L177.0,179.8L177.2,188.1L177.5,188.2L177.7,181.7L177.9,183.5L178.2,183.7L178.4,183.8L178.7,184.3L178.9,182.9L179.2,178.7L179.4,182.4L179.6,186.2L179.9,197.8L180.1,181.3L180.4,187.1L180.6,181.5L180.9,185.5L181.1,183.8L181.4,182.3L181.6,184.4L181.8,181.2L182.1,185.2L182.3,184.8L182.6,183.6L182.8,181.0L183.1,184.6L183.3,184.8L183.6,185.3L183.8,180.1L184.0,181.8L184.3,180.8L184.5,184.4L184.8,181.7L185.0,181.0L185.3,181.5L185.5,184.4L185.7,184.2L186.0,181.4L186.2,184.0L186.5,185.6L186.7,179.2L187.0,183.8L187.2,185.3L187.5,185.0L187.7,185.8L187.9,180.8L188.2,181.1L188.4,183.7L188.7,182.0L188.9,183.6L189.2,183.5L189.4,184.7L189.6,181.4L189.9,185.1L190.1,187.5L190.4,179.5L190.6,183.2L190.9,181.7L191.1,186.3L191.4,181.2L191.6,185.7L191.8,171.6L192.1,187.5L192.3,183.6L192.6,184.1L192.8,184.5L193.1,180.9L193.3,184.2L193.5,184.8L193.8,181.4L194.0,181.6L194.3,181.8L194.5,181.8L194.8,180.7L195.0,180.8L195.3,183.0L195.5,184.5L195.7,182.2L196.0,182.2L196.2,183.7L196.5,181.0L196.7,180.2L197.0,185.8L197.2,183.7L197.4,180.7L197.7,181.3L197.9,184.6L198.2,186.6L198.4,182.1L198.7,180.4L198.9,180.8L199.2,180.1L199.4,186.4L199.6,184.8L199.9,183.9L200.1,185.0L200.4,184.5L200.6,180.5L200.9,181.5L201.1,179.1L201.3,183.4L201.6,186.4L201.8,185.7L202.1,182.0L202.3,185.9L202.6,178.5L202.8,184.9L203.1,178.2L203.3,180.3L203.5,187.8L203.8,178.6L204.0,182.2L204.3,181.6L204.5,181.2L204.8,183.8L205.0,183.5L205.2,182.3L205.5,185.8L205.7,181.1L206.0,180.4L206.2,180.2L206.5,181.0L206.7,181.1L207.0,181.7L207.2,179.7L207.4,184.7L207.7,185.6L207.9,179.7L208.2,184.9L208.4,185.3L208.7,181.0L208.9,185.8L209.2,184.9L209.4,180.5L209.6,181.3L209.9,184.6L210.1,185.3L210.4,179.4L210.6,180.5L210.9,182.7L211.1,183.7L211.3,182.4L211.6,182.0L211.8,182.3L212.1,184.2L212.3,183.3L212.6,182.5L212.8,180.7L213.1,184.4L213.3,180.3L213.5,184.7L213.8,184.5L214.0,186.3L214.3,183.6L214.5,184.2L214.8,181.4L215.0,181.1L215.2,182.1L215.5,181.7L215.7,180.5L216.0,183.4L216.2,182.7L216.5,180.7L216.7,186.3L217.0,185.9L217.2,180.4L217.4,181.2L217.7,185.8L217.9,180.5L218.2,180.6L218.4,180.3L218.7,181.7L218.9,184.9L219.1,182.4L219.4,184.7L219.6,183.4L219.9,181.2L220.1,182.1L220.4,183.6L220.6,187.1L220.9,179.0L221.1,182.1L221.3,182.1L221.6,183.3L221.8,181.0L222.1,182.8L222.3,183.4L222.6,183.5L222.8,182.1L223.0,182.2L223.3,178.3L223.5,184.5L223.8,181.2L224.0,187.6L224.3,178.8L224.5,181.4L224.8,186.5L225.0,182.1L225.2,181.0L225.5,184.2L225.7,184.1L226.0,185.5L226.2,185.3L226.5,181.3L226.7,182.1L226.9,184.4L227.2,185.4L227.4,179.2L227.7,185.4L227.9,187.5L228.2,184.3L228.4,185.8L228.7,185.5L228.9,180.3L229.1,181.4L229.4,184.3L229.6,186.0L229.9,182.4L230.1,184.8L230.4,179.1L230.6,184.6L230.9,182.0L231.1,184.4L231.3,183.6L231.6,188.1L231.8,185.0L232.1,182.2L232.3,181.4L232.6,181.1L232.8,181.2L233.0,184.2L233.3,186.9L233.5,181.9L233.8,186.4L234.0,186.1L234.3,181.6L234.5,182.6L234.8,181.9L235.0,183.3L235.2,183.4L235.5,183.4L235.7,183.4L236.0,184.2L236.2,179.7L236.5,184.6L236.7,186.3L236.9,186.6L237.2,179.1L237.4,179.3L237.7,186.1L237.9,180.8L238.2,178.6L238.4,184.1L238.7,187.8L238.9,178.5L239.1,180.0L239.4,179.4L239.6,181.1L239.9,183.7L240.1,182.4L240.4,179.3L240.6,178.7L240.8,180.8L241.1,178.0L241.3,179.0L241.6,182.5L241.8,184.5L242.1,181.1L242.3,184.2L242.6,182.7L242.8,185.6L243.0,182.2L243.3,182.4L243.5,179.9L243.8,180.7L244.0,185.8L244.3,180.5L244.5,185.6L244.7,184.8L245.0,180.2L245.2,182.0L245.5,181.4L245.7,185.7L246.0,179.9L246.2,185.7L246.5,181.8L246.7,185.7L246.9,184.5L247.2,183.0L247.4,185.0L247.7,182.0L247.9,181.5L248.2,181.2L248.4,180.6L248.6,182.9L248.9,184.4L249.1,183.7L249.4,184.6L249.6,181.5L249.9,185.4L250.1,180.9L250.4,182.0L250.6,181.7L250.8,183.9L251.1,183.9L251.3,186.8L251.6,181.5L251.8,185.0L252.1,184.8L252.3,186.0L252.5,186.4L252.8,184.5L253.0,185.7L253.3,178.3L253.5,179.3L253.8,184.2L254.0,185.4L254.3,185.7L254.5,185.8L254.7,181.6L255.0,184.9L255.2,186.7L255.5,183.9L255.7,181.4L256.0,186.3L256.2,181.8L256.5,178.7L256.7,180.6L256.9,181.6L257.2,183.6L257.4,184.3L257.7,184.9L257.9,183.5L258.2,177.7L258.4,184.7L258.6,178.3L258.9,180.1L259.1,178.5L259.4,182.0L259.6,187.6L259.9,185.3L260.1,181.4L260.4,186.4L260.6,182.0L260.8,184.1L261.1,181.5L261.3,180.6L261.6,183.9L261.8,185.6L262.1,184.3L262.3,184.7L262.5,185.1L262.8,168.5L263.0,180.5L263.3,184.4L263.5,180.5L263.8,181.5L264.0,186.5L264.3,179.5L264.5,184.0L264.7,185.6L265.0,184.8L265.2,185.9L265.5,185.9L265.7,195.7L266.0,180.0L266.2,183.7L266.4,183.4L266.7,180.3L266.9,187.8L267.2,176.9L267.4,186.9L267.7,181.8L267.9,178.6L268.2,182.6L268.4,180.8L268.6,186.3L268.9,180.1L269.1,184.6L269.4,178.2L269.6,178.9L269.9,180.8L270.1,184.2L270.3,186.1L270.6,182.3L270.8,186.8L271.1,183.3L271.3,188.7L271.6,187.5L271.8,186.6L272.1,187.7L272.3,181.3L272.5,178.6L272.8,182.8L273.0,180.4L273.3,183.7L273.5,182.9L273.8,184.7L274.0,186.4L274.2,181.3L274.5,185.7L274.7,180.1L275.0,185.9L275.2,183.5L275.5,184.7L275.7,188.8L276.0,178.6L276.2,187.1L276.4,185.0L276.7,177.5L276.9,188.0L277.2,186.6L277.4,187.3L277.7,179.1L277.9,178.0L278.1,180.3L278.4,178.1L278.6,184.2L278.9,184.8L279.1,182.8L279.4,184.8L279.6,183.7L279.9,180.5L280.1,172.3L280.3,177.8L280.6,177.0L280.8,190.2L281.1,190.9L281.3,193.3L281.6,182.3L281.8,186.9L282.1,185.9L282.3,187.3L282.5,181.8L282.8,184.4L283.0,186.4L283.3,178.5L283.5,178.3L283.8,184.6L284.0,181.7L284.2,186.8L284.5,176.2L284.7,189.7L285.0,184.1L285.2,177.2L285.5,182.0L285.7,177.0L286.0,177.7L286.2,184.7L286.4,175.7L286.7,181.8L286.9,190.9L287.2,178.5L287.4,186.6L287.7,180.8L287.9,184.1L288.1,187.3L288.4,179.6L288.6,179.8L288.9,185.0L289.1,180.5L289.4,178.8L289.6,184.5L289.9,198.6L290.1,185.7L290.3,186.0L290.6,181.2L290.8,186.5L291.1,181.7L291.3,185.4L291.6,181.7L291.8,182.4L292.0,181.0L292.3,189.4L292.5,184.2L292.8,176.4L293.0,182.7L293.3,176.6L293.5,184.8L293.8,189.6L294.0,191.6L294.2,187.1L294.5,186.1L294.7,184.6L295.0,178.4L295.2,179.6L295.5,185.5L295.7,180.2L295.9,188.2L296.2,180.3L296.4,181.1L296.7,183.8L296.9,178.6L297.2,177.6L297.4,187.4L297.7,184.0L297.9,181.0L298.1,184.6L298.4,184.0L298.6,180.1L298.9,179.8L299.1,185.2L299.4,179.5L299.6,184.5L299.8,185.7L300.1,181.1L300.3,181.3L300.6,182.2L300.8,184.2L301.1,181.6L301.3,178.8L301.6,188.3L301.8,184.5L302.0,186.1L302.3,187.1L302.5,179.6L302.8,185.4L303.0,185.1L303.3,178.1L303.5,173.9L303.7,190.8L304.0,176.1L304.2,176.5L304.5,187.8L304.7,175.9L305.0,179.8L305.2,178.5L305.5,180.8L305.7,178.7L305.9,179.9L306.2,185.4L306.4,179.1L306.7,187.9L306.9,180.4L307.2,188.0L307.4,190.5L307.7,175.9L307.9,180.6L308.1,179.0L308.4,188.0L308.6,173.7L308.9,192.8L309.1,174.2L309.4,187.2L309.6,180.3L309.8,190.6L310.1,191.6L310.3,189.1L310.6,190.0L310.8,186.7L311.1,187.4L311.3,177.3L311.6,182.1L311.8,179.7L312.0,187.0L312.3,176.3L312.5,184.6L312.8,189.8L313.0,180.4L313.3,181.6L313.5,183.6L313.7,185.4L314.0,182.6L314.2,182.4L314.5,185.4L314.7,181.5L315.0,187.1L315.2,181.0L315.5,188.9L315.7,188.4L315.9,181.9L316.2,188.2L316.4,189.1L316.7,184.9L316.9,181.7L317.2,186.2L317.4,185.4L317.6,179.5L317.9,183.7L318.1,185.1L318.4,182.8L318.6,172.5L318.9,181.5L319.1,188.1L319.4,193.5L319.6,184.7L319.8,184.5L320.1,185.9L320.3,180.9L320.6,184.1L320.8,186.8L321.1,181.2L321.3,185.8L321.5,179.6L321.8,187.3L322.0,179.7L322.3,185.9L322.5,175.4L322.8,175.6L323.0,189.7L323.3,178.8L323.5,174.6L323.7,156.6L324.0,189.5L324.2,187.7L324.5,182.4L324.7,176.3L325.0,187.1L325.2,191.4L325.4,184.1L325.7,177.1L325.9,177.4L326.2,179.5L326.4,185.3L326.7,186.7L326.9,186.5L327.2,182.4L327.4,187.3L327.6,185.4L327.9,179.0L328.1,186.6L328.4,178.3L328.6,180.6L328.9,178.0L329.1,193.6L329.4,175.2L329.6,191.7L329.8,176.0L330.1,175.0L330.3,193.2L330.6,190.9L330.8,189.6L331.1,173.8L331.3,176.7L331.5,175.6L331.8,194.1L332.0,176.6L332.3,177.4L332.5,177.1L332.8,186.4L333.0,191.1L333.3,176.3L333.5,181.3L333.7,179.0L334.0,173.7L334.2,181.3L334.5,183.5L334.7,180.7L335.0,180.9L335.2,182.8L335.4,181.3L335.7,199.4L335.9,181.5L336.2,186.3L336.4,175.8L336.7,188.1L336.9,176.0L337.2,191.5L337.4,177.4L337.6,192.3L337.9,177.8L338.1,189.5L338.4,183.6L338.6,175.1L338.9,193.5L339.1,184.1L339.3,179.5L339.6,185.5L339.8,191.9L340.1,187.1L340.3,182.5L340.6,187.5L340.8,186.5L341.1,185.5L341.3,184.2L341.5,179.9L341.8,182.2L342.0,180.6L342.3,180.4L342.5,179.0L342.8,186.2L343.0,179.6L343.2,180.4L343.5,173.4L343.7,188.1L344.0,181.5L344.2,177.7L344.5,179.8L344.7,193.9L345.0,190.4L345.2,184.1L345.4,192.5L345.7,184.9L345.9,189.3L346.2,186.5L346.4,188.1L346.7,189.8L346.9,191.4L347.1,187.6L347.4,179.4L347.6,177.9L347.9,182.4L348.1,179.7L348.4,180.2L348.6,176.4L348.9,190.5L349.1,190.3L349.3,191.9L349.6,178.6L349.8,190.5L350.1,181.5L350.3,185.4L350.6,180.7L350.8,179.3L351.0,180.3L351.3,178.3L351.5,181.5L351.8,184.2L352.0,180.3L352.3,179.0L352.5,187.1L352.8,178.8L353.0,175.0L353.2,173.8L353.5,173.9L353.7,162.4L354.0,175.4L354.2,173.3L354.5,179.0L354.7,183.4L355.0,180.5L355.2,184.8L355.4,184.5L355.7,181.3L355.9,180.3L356.2,191.7L356.4,189.4L356.7,189.8L356.9,190.4L357.1,191.1L357.4,175.4L357.6,189.9L357.9,177.8L358.1,186.2L358.4,178.5L358.6,189.8L358.9,180.1L359.1,187.0L359.3,179.9L359.6,178.2L359.8,179.4L360.1,190.3L360.3,177.7L360.6,177.8L360.8,185.4L361.0,178.9L361.3,176.8L361.5,188.6L361.8,186.2L362.0,182.9L362.3,180.5L362.5,189.8L362.8,175.6L363.0,175.9L363.2,176.6L363.5,178.3L363.7,190.9L364.0,186.4L364.2,185.1L364.5,177.5L364.7,192.9L364.9,173.6L365.2,191.4L365.4,172.9L365.7,174.2L365.9,173.6L366.2,177.7L366.4,175.5L366.7,180.7L366.9,188.9L367.1,179.0L367.4,187.5L367.6,175.2L367.9,184.8L368.1,188.5L368.4,178.0L368.6,184.8L368.8,190.3L369.1,177.5L369.3,188.6L369.6,174.0L369.8,174.6L370.1,190.3L370.3,175.9L370.6,171.9L370.8,178.1L371.0,182.3L371.3,178.4L371.5,186.3L371.8,177.3L372.0,181.0L372.3,181.9L372.5,177.3L372.7,180.6L373.0,181.9L373.2,189.0L373.5,178.5L373.7,179.7L374.0,184.7L374.2,180.2L374.5,178.8L374.7,180.1L374.9,185.0L375.2,180.7L375.4,182.7L375.7,186.1L375.9,183.1L376.2,184.4L376.4,180.3L376.6,186.7L376.9,186.9L377.1,185.0L377.4,185.3L377.6,181.6L377.9,185.5L378.1,176.3L378.4,191.5L378.6,172.4L378.8,193.3L379.1,176.1L379.3,178.6L379.6,187.5L379.8,184.8L380.1,180.8L380.3,183.4L380.6,180.1L380.8,178.5L381.0,184.1L381.3,186.8L381.5,189.1L381.8,180.5L382.0,181.2L382.3,178.5L382.5,186.6L382.7,187.3L383.0,175.9L383.2,173.7L383.5,178.6L383.7,175.0L384.0,187.6L384.2,178.0L384.5,184.1L384.7,179.9L384.9,177.4L385.2,177.4L385.4,181.3L385.7,185.8L385.9,179.1L386.2,175.6L386.4,178.0L386.6,176.2L386.9,178.1L387.1,186.6L387.4,183.4L387.6,186.1L387.9,188.4L388.1,181.4L388.4,177.1L388.6,178.5L388.8,175.1L389.1,187.0L389.3,179.4L389.6,176.4L389.8,176.7L390.1,183.5L390.3,188.9L390.5,178.9L390.8,178.7L391.0,180.1L391.3,181.5L391.5,183.6L391.8,184.9L392.0,181.6L392.3,181.6L392.5,184.0L392.7,181.9L393.0,180.4L393.2,184.9L393.5,185.1L393.7,185.3L394.0,180.6L394.2,184.1L394.4,184.4L394.7,181.9L394.9,186.8L395.2,183.9L395.4,183.9L395.7,186.6L395.9,198.6L396.2,182.0L396.4,183.9L396.6,182.0L396.9,187.5L397.1,181.7L397.4,182.0L397.6,184.4L397.9,184.6L398.1,181.4L398.3,183.4L398.6,188.5L398.8,185.0L399.1,185.0L399.3,188.3L399.6,187.2L399.8,177.4L400.1,187.9L400.3,182.5L400.5,188.0L400.8,187.3L401.0,186.8L401.3,178.6L401.5,182.6L401.8,180.8L402.0,182.0L402.3,184.8L402.5,181.0L402.7,184.7L403.0,187.7L403.2,180.5L403.5,180.2L403.7,187.4L404.0,184.9L404.2,182.1L404.4,181.1L404.7,177.8L404.9,184.3L405.2,186.9L405.4,178.9L405.7,187.9L405.9,182.2L406.2,181.2L406.4,181.6L406.6,182.0L406.9,181.9L407.1,185.8L407.4,178.3L407.6,178.8L407.9,187.2L408.1,183.5L408.3,184.6L408.6,180.9L408.8,181.6L409.1,184.0L409.3,182.5L409.6,182.9L409.8,183.7L410.1,184.4L410.3,184.7L410.5,182.6L410.8,183.4L411.0,180.8L411.3,185.2L411.5,184.0L411.8,181.1L412.0,181.0L412.2,181.7L412.5,182.1L412.7,184.3L413.0,183.9L413.2,182.8L413.5,185.3L413.7,183.4L414.0,183.1L414.2,183.6L414.4,183.3L414.7,181.1L414.9,181.6L415.2,183.5L415.4,183.1L415.7,182.5L415.9,183.6L416.1,186.8L416.4,186.3L416.6,182.6L416.9,182.0L417.1,185.5L417.4,180.1L417.6,178.3L417.9,184.7L418.1,177.9L418.3,185.7L418.6,181.1L418.8,187.4L419.1,181.9L419.3,183.7L419.6,184.4L419.8,185.9L420.0,185.0L420.3,185.2L420.5,182.0L420.8,180.6L421.0,180.6L421.3,181.8L421.5,184.2L421.8,181.9L422.0,182.1L422.2,181.1L422.5,181.3L422.7,178.9L423.0,185.2L423.2,183.0L423.5,181.8L423.7,183.5L423.9,181.7L424.2,182.1L424.4,182.3L424.7,185.1L424.9,182.4L425.2,185.3L425.4,185.3L425.7,182.7L425.9,181.1L426.1,183.8L426.4,181.9L426.6,184.2L426.9,180.8L427.1,185.1L427.4,182.2L427.6,184.6L427.9,208.6L428.1,180.2L428.3,181.8L428.6,182.5L428.8,186.4L429.1,182.5L429.3,186.9L429.6,180.0L429.8,181.1L430.0,179.8L430.3,187.0L430.5,180.5L430.8,185.4L431.0,181.2L431.3,180.8L431.5,182.2L431.8,182.3L432.0,184.7L432.2,185.2L432.5,186.0L432.7,184.1L433.0,181.8L433.2,186.1L433.5,184.6L433.7,178.5L433.9,183.8L434.2,187.0L434.4,188.0L434.7,179.7L434.9,178.0L435.2,184.5L435.4,181.4L435.7,185.3L435.9,185.2L436.1,181.0L436.4,181.9L436.6,182.1L436.9,177.6L437.1,181.1L437.4,188.1L437.6,188.2L437.8,182.9L438.1,185.2L438.3,184.1L438.6,181.1L438.8,183.4L439.1,184.3L439.3,182.4L439.6,187.1L439.8,186.3L440.0,182.5L440.3,184.8L440.5,179.4L440.8,185.8L441.0,186.1L441.3,179.7L441.5,186.4L441.7,185.9L442.0,181.0L442.2,187.0L442.5,180.2L442.7,186.4L443.0,187.7L443.2,183.6L443.5,182.0L443.7,178.7L443.9,179.8L444.2,184.1L444.4,183.4L444.7,180.8L444.9,186.2L445.2,181.3L445.4,181.3L445.6,184.2L445.9,179.7L446.1,186.5L446.4,181.5L446.6,180.7L446.9,179.2L447.1,182.3L447.4,181.9L447.6,181.4L447.8,180.0L448.1,187.2L448.3,184.9L448.6,188.4L448.8,186.2L449.1,184.2L449.3,184.8L449.5,185.0L449.8,184.8L450.0,182.1L450.3,181.7L450.5,180.7L450.8,183.1L451.0,182.5L451.3,182.1L451.5,180.3L451.7,185.0L452.0,181.1L452.2,182.7L452.5,179.8L452.7,180.0L453.0,181.3L453.2,186.1L453.5,179.5L453.7,183.4L453.9,179.6L454.2,181.6L454.4,181.6L454.7,184.0L454.9,180.7L455.2,180.5L455.4,180.7L455.6,181.0L455.9,180.1L456.1,180.2L456.4,180.4L456.6,179.9L456.9,185.8L457.1,181.2L457.4,181.4L457.6,184.4L457.8,184.4L458.1,185.5L458.3,180.9L458.6,179.4L458.8,185.8L459.1,182.4L459.3,186.4L459.5,185.4L459.8,181.1L460.0,186.2L460.3,177.5L460.5,187.0L460.8,177.6L461.0,184.8L461.3,182.5L461.5,179.8L461.7,184.4L462.0,184.6L462.2,184.1L462.5,184.6L462.7,183.4L463.0,185.9L463.2,179.6L463.4,178.0L463.7,181.6L463.9,178.5L464.2,185.9L464.4,179.9L464.7,185.8L464.9,180.3L465.2,180.0L465.4,179.7L465.6,183.1L465.9,179.9L466.1,185.2L466.4,185.5L466.6,182.4L466.9,182.6L467.1,180.3L467.3,180.8L467.6,183.9L467.8,180.6L468.1,180.3L468.3,180.9L468.6,181.5L468.8,181.8L469.1,180.3L469.3,180.4L469.5,180.6L469.8,185.8L470.0,183.4L470.3,182.2L470.5,183.6L470.8,182.0L471.0,183.5L471.2,182.4L471.5,182.7L471.7,182.8L472.0,182.2L472.2,184.3L472.5,183.8L472.7,183.4L473.0,183.9L473.2,181.2L473.4,184.8L473.7,185.7L473.9,183.7L474.2,185.4L474.4,186.2L474.7,185.5L474.9,185.3L475.2,182.7L475.4,186.4L475.6,184.7L475.9,180.6L476.1,182.6L476.4,184.5L476.6,184.3L476.9,182.7L477.1,181.1L477.3,181.7L477.6,186.6L477.8,179.2L478.1,186.4L478.3,181.7L478.6,178.9L478.8,184.1L479.1,182.0L479.3,184.4L479.5,185.2L479.8,180.1L480.0,180.4L480.3,185.8L480.5,180.2L480.8,187.7L481.0,184.9L481.2,186.6L481.5,186.6L481.7,180.8L482.0,184.6L482.2,183.7L482.5,179.0L482.7,185.4L483.0,182.0L483.2,179.5L483.4,186.1L483.7,183.8L483.9,181.2L484.2,183.2L484.4,183.4L484.7,182.4L484.9,181.7L485.1,187.6L485.4,181.2L485.6,181.0L485.9,178.4L486.1,178.1L486.4,184.7L486.6,184.8L486.9,182.5L487.1,186.3L487.3,183.3L487.6,186.4L487.8,186.7L488.1,181.4L488.3,179.3L488.6,184.1L488.8,186.2L489.0,186.7L489.3,180.3L489.5,182.2L489.8,185.5L490.0,185.7L490.3,181.9L490.5,184.7L490.8,179.9L491.0,184.3L491.2,180.9L491.5,184.7L491.7,182.4L492.0,183.9L492.2,178.8L492.5,177.7L492.7,187.3L492.9,182.5L493.2,186.0L493.4,180.4L493.7,184.6L493.9,186.1L494.2,180.1L494.4,180.6L494.7,184.9L494.9,184.7L495.1,182.8L495.4,184.8L495.6,181.5L495.9,171.6L496.1,181.7L496.4,182.5L496.6,186.9L496.8,179.9L497.1,178.6L497.3,180.4L497.6,187.6L497.8,187.5L498.1,181.2L498.3,181.9L498.6,183.9L498.8,180.5"/>
<path d="M22.8,16.80H81.8" stroke="#00CC99" stroke-width="2.25" fill="none"/>
<path d="M22.8,58.35H81.8" stroke="#FF3399" stroke-width="3.60" fill="none"/>
<text class="l" transform="translate(87.40,21.60)">BTC/USD FX Rate</text>
<text class="l" transform="translate(87.40,63.15)">USD/BRL FX Rate</text>
<path d="M-4.3,16.80H0M-4.3,99.90H0M-4.3,183.00H0M-4.3,266.10H0M-4.3,349.20H0" stroke="#222" stroke-width="1.7" fill="none"/>
<path d="M87.20,365.3v3.6M214.20,365.3v3.6M341.20,365.3v3.6M468.20,365.3v3.6" stroke="#333" stroke-width="0.9" fill="none"/>
<text class="t" text-anchor="end" transform="translate(-5.80,22.40)">40</text>
<text class="t" text-anchor="end" transform="translate(-5.80,105.50)">20</text>
<text class="t" text-anchor="end" transform="translate(-5.80,188.60)">0</text>
<text class="t" text-anchor="end" transform="translate(-5.80,271.70)">−<tspan dx="3">20</tspan></text>
<text class="t" text-anchor="end" transform="translate(-5.80,354.80)">−<tspan dx="3">40</tspan></text>
<text class="t" text-anchor="middle" transform="translate(87.20,382.60) scale(1.0200,1)" style="font-size:16.00px">2012</text>
<text class="t" text-anchor="middle" transform="translate(214.20,382.60) scale(1.0200,1)" style="font-size:16.00px">2014</text>
<text class="t" text-anchor="middle" transform="translate(341.20,382.60) scale(1.0200,1)" style="font-size:16.00px">2016</text>
<text class="t" text-anchor="middle" transform="translate(468.20,382.60) scale(1.0200,1)" style="font-size:16.00px">2018</text>
<text class="a" text-anchor="middle" transform="translate(261.00,401.50) scale(0.9600,1)">Date</text>
<text class="a" text-anchor="middle" transform="translate(-37.80,182.25) rotate(-90) scale(0.9800,1)">Daily return in %</text>
</g>
</svg></body></html>
